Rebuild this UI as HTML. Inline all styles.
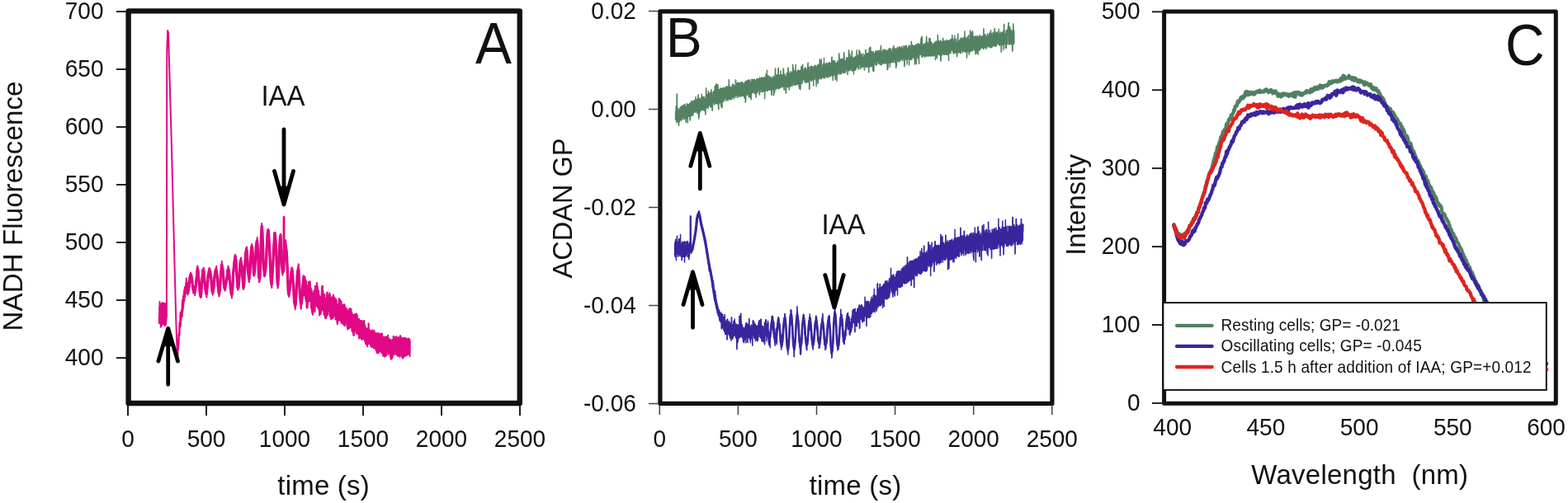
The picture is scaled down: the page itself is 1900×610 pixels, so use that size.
<!DOCTYPE html>
<html><head><meta charset="utf-8"><title>Figure</title>
<style>
html,body{margin:0;padding:0;background:#fff;}
svg{display:block;}
text{font-family:"Liberation Sans", Arial, Helvetica, sans-serif;fill:#111;}
</style></head>
<body>
<svg width="1900" height="610" viewBox="0 0 1900 610">
<rect width="1900" height="610" fill="#fff"/>
<polyline points="192.8,383.8 192.9,392.0 193.0,388.5 193.2,372.1 193.3,374.5 193.4,391.8 193.5,365.9 193.6,390.5 193.8,389.8 193.9,380.1 194.0,375.2 194.1,374.6 194.2,374.0 194.4,379.7 194.5,381.6 194.6,383.2 194.7,396.5 194.8,390.5 195.0,385.4 195.1,396.5 195.2,373.3 195.3,371.7 195.4,385.3 195.6,368.3 195.7,368.0 195.8,382.4 195.9,381.0 196.0,394.5 196.2,385.9 196.3,382.4 196.4,381.9 196.5,374.4 196.6,367.3 196.8,372.7 196.9,387.7 197.0,373.0 197.1,378.0 197.2,367.0 197.4,391.8 197.5,371.5 197.6,374.8 197.7,393.2 197.8,382.1 198.0,392.1 198.1,385.9 198.2,388.9 198.3,369.3 198.4,382.8 198.6,381.7 198.7,392.6 198.8,377.2 198.9,384.3 199.0,368.0 199.2,377.8 199.3,375.8 199.4,370.6 199.5,390.5 199.6,377.3 199.8,395.2 199.9,383.4 200.0,383.8 200.1,384.7 200.2,385.7 200.4,369.9 200.5,378.4 200.6,372.3 200.7,377.1 200.8,367.8 201.0,393.8 201.1,371.1 201.2,384.6 201.3,373.4 201.4,390.4 201.6,383.9 201.9,385.0 202.3,60.0 203.2,37.0 204.0,40.0 206.0,110.0 208.0,180.0 210.0,260.0 212.0,340.0 213.5,395.0 214.8,431.0 215.0,420.6 215.2,433.1 215.3,433.3 215.5,430.6 215.6,422.2 215.8,411.9 215.9,411.1 216.1,424.1 216.2,414.9 216.4,405.7 216.5,418.1 216.7,411.6 216.8,408.6 217.0,403.1 217.1,402.1 217.3,397.1 217.4,391.4 217.6,406.5 217.7,396.7 217.9,396.7 218.0,390.6 218.2,397.6 218.3,381.6 218.5,387.1 218.6,378.9 218.8,379.4 218.9,395.1 219.1,387.8 219.2,382.1 219.4,383.1 219.5,389.1 219.7,377.6 219.8,381.7 220.0,382.7 220.1,375.4 220.3,377.9 220.4,382.1 220.6,384.2 220.7,368.3 220.9,383.2 221.0,363.9 221.2,378.0 221.3,378.4 221.5,364.1 221.6,368.9 221.8,375.9 221.9,358.9 222.1,370.2 222.2,372.4 222.4,365.6 222.5,368.5 222.7,357.2 222.8,355.2 223.0,357.1 223.1,352.1 223.3,354.1 223.4,364.9 223.6,356.2 223.7,350.5 223.9,348.2 224.0,361.0 224.2,350.2 224.3,360.3 224.5,350.4 224.6,349.9 224.8,356.8 224.9,353.2 225.1,349.5 225.2,346.0 225.4,354.6 225.5,344.9 225.7,354.8 225.8,337.5 226.0,344.6 226.0,341.0 226.2,339.7 226.3,349.7 226.5,344.7 226.6,351.7 226.8,349.0 226.9,354.4 227.1,349.7 227.2,355.0 227.4,357.5 227.5,346.3 227.7,348.5 227.8,349.6 228.0,351.2 228.1,354.7 228.3,351.1 228.4,355.8 228.6,350.3 228.7,353.6 228.9,352.1 229.0,347.0 229.2,346.2 229.3,349.0 229.5,339.5 229.6,343.8 229.8,334.5 229.9,339.4 230.1,339.2 230.2,335.5 230.4,332.8 230.5,336.4 230.7,336.1 230.8,336.8 231.0,330.6 231.1,337.2 231.3,339.8 231.4,338.5 231.6,336.0 231.7,331.9 231.9,337.1 232.0,333.2 232.2,332.5 232.3,338.7 232.5,337.3 232.6,343.1 232.8,336.9 232.9,338.8 233.1,338.7 233.2,346.7 233.4,346.0 233.5,351.7 233.7,352.5 233.8,350.6 234.0,346.6 234.1,355.6 234.3,348.1 234.4,355.5 234.6,354.4 234.7,355.0 234.9,351.0 235.0,349.5 235.2,347.3 235.3,353.4 235.5,351.0 235.6,354.1 235.8,355.9 235.9,349.4 236.1,352.5 236.2,358.1 236.4,350.7 236.5,354.6 236.7,346.8 236.8,351.1 237.0,345.7 237.1,351.0 237.3,342.7 237.4,343.1 237.6,342.3 237.7,342.8 237.9,338.3 238.0,342.5 238.2,333.4 238.3,340.9 238.5,339.8 238.6,337.5 238.8,328.9 238.9,331.8 239.1,323.3 239.2,328.5 239.4,322.6 239.5,329.6 239.7,325.6 239.8,329.6 240.0,330.5 240.1,331.7 240.3,327.7 240.4,330.6 240.6,332.6 240.7,340.2 240.9,337.7 241.0,336.6 241.2,345.4 241.3,345.1 241.5,346.3 241.6,342.7 241.8,347.2 241.9,353.6 242.1,349.9 242.2,351.6 242.4,352.5 242.5,353.6 242.7,356.1 242.8,355.4 243.0,357.7 243.1,356.1 243.3,356.4 243.4,360.7 243.6,353.1 243.7,359.4 243.9,358.2 244.0,355.3 244.2,347.0 244.3,350.8 244.5,350.9 244.6,350.3 244.8,344.3 244.9,336.3 245.1,341.2 245.2,339.4 245.4,334.8 245.5,327.8 245.7,326.4 245.8,329.9 246.0,330.3 246.1,330.7 246.3,326.0 246.4,329.8 246.6,325.2 246.7,330.2 246.9,324.7 247.0,333.2 247.2,328.1 247.3,334.2 247.5,332.3 247.6,335.1 247.8,341.3 247.9,338.6 248.1,337.1 248.2,344.1 248.4,347.9 248.5,347.2 248.7,350.8 248.8,353.8 249.0,347.3 249.1,355.0 249.3,354.2 249.4,356.7 249.6,351.0 249.7,350.8 249.9,357.4 250.0,357.7 250.2,350.6 250.3,360.6 250.5,353.1 250.6,357.9 250.8,350.5 250.9,351.8 251.1,346.0 251.2,350.1 251.4,342.3 251.5,341.4 251.7,339.8 251.8,338.7 252.0,333.0 252.1,335.3 252.3,332.7 252.4,336.2 252.6,334.0 252.7,334.9 252.9,336.8 253.0,334.3 253.2,325.5 253.3,330.7 253.5,325.5 253.6,330.5 253.8,328.0 253.9,332.6 254.1,324.9 254.2,334.9 254.4,328.4 254.5,330.3 254.7,326.9 254.8,337.4 255.0,329.4 255.1,329.8 255.3,328.8 255.4,338.1 255.6,337.8 255.7,338.7 255.9,339.4 256.0,341.8 256.2,340.0 256.3,347.0 256.5,340.7 256.6,348.3 256.8,346.2 256.9,348.6 257.1,350.5 257.2,355.5 257.4,352.2 257.5,350.6 257.7,351.2 257.8,357.7 258.0,351.1 258.1,349.6 258.3,350.2 258.4,348.3 258.6,352.9 258.7,352.5 258.9,353.7 259.0,351.6 259.2,342.7 259.3,348.1 259.5,338.0 259.6,340.6 259.8,334.4 259.9,337.6 260.1,333.5 260.2,338.5 260.4,333.2 260.5,333.0 260.7,328.8 260.8,333.8 261.0,326.7 261.1,330.8 261.3,325.5 261.4,333.4 261.6,326.8 261.7,334.0 261.9,326.4 262.0,331.5 262.2,322.7 262.3,332.1 262.5,325.7 262.6,332.5 262.8,334.1 262.9,337.0 263.1,330.4 263.2,337.2 263.4,334.9 263.5,341.4 263.7,339.5 263.8,346.9 264.0,344.0 264.1,342.6 264.3,345.0 264.4,350.7 264.6,347.3 264.7,354.3 264.9,348.6 265.0,356.7 265.2,350.7 265.3,359.6 265.5,352.9 265.6,358.2 265.8,350.2 265.9,358.0 266.1,351.6 266.2,357.5 266.4,349.3 266.5,345.4 266.7,344.5 266.8,346.5 267.0,338.0 267.1,337.2 267.3,333.7 267.4,336.1 267.6,329.3 267.7,332.7 267.9,325.3 268.0,330.9 268.2,324.5 268.3,329.0 268.5,326.4 268.6,324.7 268.8,316.7 268.9,326.1 269.1,325.6 269.2,325.1 269.4,321.2 269.5,326.6 269.7,328.0 269.8,330.1 270.0,330.5 270.1,331.3 270.3,329.1 270.4,337.7 270.6,333.0 270.7,336.7 270.9,332.6 271.0,346.0 271.2,348.2 271.3,348.9 271.5,341.4 271.6,348.4 271.8,343.2 271.9,346.5 272.1,344.4 272.2,350.5 272.4,349.0 272.5,346.9 272.7,352.6 272.8,351.3 273.0,341.2 273.1,348.9 273.3,341.4 273.4,349.2 273.6,340.2 273.7,347.8 273.9,340.0 274.0,344.4 274.2,339.0 274.3,344.1 274.5,336.7 274.6,336.5 274.8,333.6 274.9,338.7 275.1,340.2 275.2,332.8 275.4,339.1 275.5,338.5 275.7,327.8 275.8,326.1 276.0,331.3 276.1,325.6 276.3,326.2 276.4,322.6 276.6,324.3 276.7,327.6 276.9,323.9 277.0,329.6 277.2,331.5 277.3,330.0 277.5,327.0 277.6,332.2 277.8,330.6 277.9,330.5 278.1,332.4 278.2,343.2 278.4,334.9 278.5,337.9 278.7,338.1 278.8,347.9 279.0,339.2 279.1,343.0 279.3,344.7 279.4,355.2 279.6,356.0 279.7,353.1 279.9,355.5 280.0,354.1 280.2,351.0 280.3,357.4 280.5,353.7 280.6,358.2 280.8,353.7 280.9,361.4 281.1,351.1 281.2,356.2 281.4,351.2 281.5,356.6 281.7,354.9 281.8,352.1 282.0,345.8 282.1,347.3 282.3,336.7 282.4,341.4 282.6,330.9 282.7,328.4 282.9,332.8 283.0,323.0 283.2,322.2 283.3,329.8 283.5,320.9 283.6,324.0 283.8,315.7 283.9,322.9 284.1,313.6 284.2,320.1 284.4,321.3 284.5,317.7 284.7,315.8 284.8,308.8 285.0,309.2 285.1,313.0 285.3,313.9 285.4,314.6 285.6,312.2 285.7,317.3 285.9,311.2 286.0,314.3 286.2,315.8 286.3,316.6 286.5,321.8 286.6,325.3 286.8,328.0 286.9,336.0 287.1,339.1 287.2,341.2 287.4,337.3 287.5,344.2 287.7,339.6 287.8,348.8 288.0,343.2 288.1,351.7 288.3,345.2 288.4,350.7 288.6,342.1 288.7,350.2 288.9,343.9 289.0,350.2 289.2,343.2 289.3,349.9 289.5,347.0 289.6,346.7 289.8,335.0 289.9,332.2 290.1,333.3 290.2,337.2 290.4,329.4 290.5,330.6 290.7,320.2 290.8,324.5 291.0,315.7 291.1,314.8 291.3,317.9 291.4,321.9 291.6,319.6 291.7,314.6 291.9,314.6 292.0,312.5 292.2,313.7 292.3,322.2 292.5,317.7 292.6,325.4 292.8,318.4 292.9,317.8 293.1,325.7 293.2,326.0 293.4,322.9 293.5,329.3 293.7,334.6 293.8,337.7 294.0,333.7 294.1,342.9 294.3,344.1 294.4,344.6 294.6,339.5 294.7,346.9 294.9,351.1 295.0,351.0 295.2,345.1 295.3,349.8 295.5,344.3 295.6,348.4 295.8,341.3 295.9,337.9 296.1,332.5 296.2,330.6 296.4,335.8 296.5,331.9 296.7,323.1 296.8,325.9 297.0,313.9 297.1,321.5 297.3,313.1 297.4,312.3 297.6,304.9 297.7,311.8 297.9,303.8 298.0,301.0 298.2,301.5 298.3,311.1 298.5,306.4 298.6,305.4 298.8,299.7 298.9,301.4 299.1,299.6 299.2,308.3 299.4,302.3 299.5,312.4 299.7,307.8 299.8,319.0 300.0,312.9 300.1,322.7 300.3,325.6 300.4,328.4 300.6,325.2 300.7,326.8 300.9,336.2 301.0,327.5 301.2,331.3 301.3,339.6 301.5,340.9 301.6,340.2 301.8,340.3 301.9,342.1 302.1,334.8 302.2,331.9 302.4,338.6 302.5,335.9 302.7,330.2 302.8,332.7 303.0,328.0 303.1,322.9 303.3,321.1 303.4,322.3 303.6,315.3 303.7,311.2 303.9,307.2 304.0,314.0 304.2,302.3 304.3,299.2 304.5,298.0 304.6,298.2 304.8,299.4 304.9,304.7 305.1,299.0 305.2,295.9 305.4,302.0 305.5,303.6 305.7,303.3 305.8,299.8 306.0,306.6 306.1,312.0 306.3,305.0 306.4,314.8 306.6,311.0 306.7,315.5 306.9,315.3 307.0,328.2 307.2,322.2 307.3,334.0 307.5,327.6 307.6,334.7 307.8,329.9 307.9,334.5 308.1,328.7 308.2,334.1 308.4,327.2 308.5,324.4 308.7,323.4 308.8,329.1 309.0,319.6 309.1,316.4 309.3,314.4 309.4,319.5 309.6,318.0 309.7,314.1 309.9,305.4 310.0,302.6 310.2,297.7 310.3,297.1 310.5,300.6 310.6,298.4 310.8,292.8 310.9,292.9 311.1,292.6 311.2,297.1 311.4,294.4 311.5,294.9 311.7,288.0 311.8,297.2 312.0,291.8 312.1,303.0 312.3,296.7 312.4,303.5 312.6,306.1 312.7,317.1 312.9,311.0 313.0,321.9 313.2,321.3 313.3,327.6 313.5,326.5 313.6,338.1 313.8,333.1 313.9,341.9 314.1,335.4 314.2,342.2 314.4,335.0 314.5,340.1 314.7,335.9 314.8,340.9 315.0,330.7 315.1,336.7 315.3,328.6 315.4,320.7 315.6,314.9 315.7,315.3 315.9,302.8 316.0,304.9 316.2,302.5 316.3,290.5 316.5,287.9 316.6,287.9 316.8,276.2 316.9,281.1 317.1,271.0 317.2,277.3 317.4,277.1 317.5,274.1 317.7,275.1 317.8,282.9 318.0,278.8 318.1,288.9 318.3,292.9 318.4,297.0 318.6,297.8 318.7,306.2 318.9,306.7 319.0,318.5 319.2,316.2 319.3,320.3 319.5,321.7 319.6,323.6 319.8,324.4 319.9,324.2 320.1,324.9 320.2,327.0 320.4,330.7 320.5,335.6 320.7,328.0 320.8,334.8 321.0,329.3 321.1,326.6 321.3,324.8 321.4,333.6 321.6,325.3 321.7,329.4 321.9,322.9 322.0,322.8 322.2,326.9 322.3,321.1 322.5,318.4 322.6,308.5 322.8,306.4 322.9,304.1 323.1,307.2 323.2,303.0 323.4,296.5 323.5,292.9 323.7,287.5 323.8,285.1 324.0,291.9 324.1,287.5 324.3,278.4 324.4,283.0 324.6,284.7 324.7,282.7 324.9,282.4 325.0,277.7 325.2,281.8 325.3,278.6 325.5,279.3 325.6,282.6 325.8,287.1 325.9,293.7 326.1,289.6 326.2,299.6 326.4,299.8 326.5,303.0 326.7,297.1 326.8,310.4 327.0,309.6 327.1,312.1 327.3,314.1 327.4,323.5 327.6,322.2 327.7,330.1 327.9,328.2 328.0,339.2 328.2,341.9 328.3,342.5 328.5,344.0 328.6,337.4 328.8,339.5 328.9,347.5 329.1,339.5 329.2,348.9 329.4,348.4 329.5,336.6 329.7,334.0 329.8,339.9 330.0,338.5 330.1,335.8 330.3,326.6 330.4,328.4 330.6,316.9 330.7,318.9 330.9,313.7 331.0,310.9 331.2,305.3 331.3,311.4 331.5,300.2 331.6,306.7 331.8,296.3 331.9,301.7 332.1,292.6 332.2,296.7 332.4,293.3 332.5,285.7 332.7,281.9 332.8,284.5 333.0,287.9 333.1,287.8 333.3,282.5 333.4,286.6 333.6,285.2 333.7,293.1 333.9,291.5 334.0,289.1 334.2,292.7 334.3,299.9 334.5,298.7 334.6,308.2 334.8,306.4 334.9,307.0 335.1,313.0 335.2,319.2 335.4,321.3 335.5,323.0 335.7,328.2 335.8,337.6 336.0,337.6 336.1,338.8 336.3,338.0 336.4,347.4 336.6,349.5 336.7,349.5 336.9,347.1 337.0,344.1 337.2,336.9 337.3,340.3 337.5,327.6 337.6,331.1 337.8,328.4 337.9,326.1 338.1,316.3 338.2,319.0 338.4,303.2 338.5,305.2 338.7,297.5 338.8,300.3 339.0,290.8 339.1,296.8 339.3,288.1 339.4,292.1 339.6,285.9 339.7,285.6 339.9,283.8 340.0,289.5 340.2,284.1 340.3,295.5 340.5,296.3 340.6,302.2 340.8,296.9 340.9,301.1 341.1,303.6 341.2,321.1 341.4,312.5 341.5,325.1 341.7,321.6 341.8,323.1 342.0,322.0 342.1,322.3 342.3,328.2 342.4,333.8 342.6,328.1 342.7,332.1 342.9,331.3 343.0,330.1 343.2,325.5 343.3,325.0 343.5,330.3 343.6,263.0 343.8,263.0 343.9,263.0 344.1,263.0 344.2,263.0 344.4,263.0 344.5,311.1 344.7,307.5 344.8,312.2 345.0,300.2 345.1,298.9 345.3,296.7 345.4,299.0 345.6,291.1 345.7,295.9 345.9,293.0 346.0,293.3 346.2,291.6 346.3,304.9 346.5,297.6 346.6,304.1 346.8,298.8 346.9,306.2 347.1,300.1 347.2,301.1 347.4,314.5 347.5,315.2 347.7,319.6 347.8,321.3 348.0,316.2 348.1,317.0 348.3,330.4 348.4,323.9 348.6,341.1 348.7,341.6 348.9,341.9 349.0,352.8 349.2,353.4 349.3,356.9 349.5,350.6 349.6,356.7 349.8,359.2 349.9,358.5 350.1,356.3 350.2,359.9 350.4,351.3 350.5,357.6 350.7,351.0 350.8,348.0 351.0,347.3 351.1,351.2 351.3,348.0 351.4,352.6 351.6,344.8 351.7,345.8 351.9,337.2 352.0,344.2 352.2,336.4 352.3,335.3 352.5,331.2 352.6,335.1 352.8,330.1 352.9,335.0 353.1,324.8 353.2,330.8 353.4,324.8 353.5,331.7 353.7,324.6 353.8,333.6 354.0,328.6 354.1,333.7 354.3,325.2 354.4,330.1 354.6,327.7 354.7,335.8 354.9,341.4 355.0,341.1 355.2,344.6 355.3,347.6 355.5,350.5 355.6,353.0 355.8,346.4 355.9,356.2 356.1,353.7 356.2,361.2 356.4,354.5 356.5,368.4 356.7,367.9 356.8,369.6 357.0,363.7 357.1,365.7 357.3,362.9 357.4,373.3 357.6,366.9 357.7,375.3 357.9,367.0 358.0,372.0 358.2,371.4 358.3,365.3 358.5,362.6 358.6,365.3 358.8,365.1 358.9,360.3 359.1,352.4 359.2,357.4 359.4,341.2 359.5,348.6 359.7,348.7 359.8,345.4 360.0,336.0 360.1,340.2 360.3,331.9 360.4,328.7 360.6,326.8 360.7,330.7 360.9,324.0 361.0,334.1 361.2,326.4 361.3,327.2 361.5,321.2 361.6,324.1 361.8,320.3 361.9,333.5 362.1,326.7 362.2,338.2 362.4,333.1 362.5,338.8 362.7,346.4 362.8,349.4 363.0,344.7 363.1,355.1 363.3,350.7 363.4,359.3 363.6,352.9 363.7,367.3 363.9,366.4 364.0,369.3 364.2,358.5 364.3,370.7 364.5,372.2 364.6,374.7 364.8,364.1 364.9,373.9 365.1,360.3 365.2,369.7 365.4,360.5 365.5,368.3 365.7,352.5 365.8,369.2 366.0,357.9 366.1,368.3 366.3,349.7 366.4,365.1 366.6,349.2 366.7,360.7 366.9,357.4 367.0,347.3 367.2,336.4 367.3,348.6 367.5,334.2 367.6,344.7 367.8,354.1 367.9,345.0 368.1,349.4 368.2,350.7 368.4,335.4 368.5,350.3 368.7,358.6 368.8,349.3 369.0,338.4 369.1,337.9 369.3,335.2 369.4,338.6 369.6,340.4 369.7,356.9 369.9,337.9 370.0,362.0 370.2,359.0 370.3,356.3 370.5,346.3 370.6,363.0 370.8,365.1 370.9,363.8 371.1,340.8 371.2,362.0 371.4,345.4 371.5,372.5 371.7,346.0 371.8,373.5 372.0,367.5 372.1,347.6 372.3,370.0 372.4,372.9 372.6,347.6 372.7,372.9 372.9,353.5 373.0,368.0 373.2,351.7 373.3,354.1 373.5,351.1 373.6,365.9 373.8,341.8 373.9,343.5 374.1,342.5 374.2,359.0 374.4,345.0 374.5,364.7 374.7,345.2 374.8,365.4 375.0,341.9 375.1,342.0 375.3,341.3 375.4,344.1 375.6,344.0 375.7,362.4 375.9,342.0 376.0,360.5 376.2,349.0 376.3,363.9 376.5,352.7 376.6,365.5 376.8,349.5 376.9,373.0 377.1,366.7 377.2,369.9 377.4,374.4 377.5,355.9 377.7,352.0 377.8,377.4 378.0,362.9 378.1,375.5 378.3,379.9 378.4,359.7 378.6,358.6 378.7,355.4 378.9,360.2 379.0,381.7 379.2,358.4 379.3,380.6 379.5,375.5 379.6,366.6 379.8,360.9 379.9,356.6 380.1,359.7 380.2,361.9 380.4,352.6 380.5,359.4 380.7,360.8 380.8,375.9 381.0,358.7 381.1,370.7 381.3,352.9 381.4,374.4 381.6,378.0 381.7,367.5 381.9,346.8 382.0,348.5 382.2,354.3 382.3,351.2 382.5,348.3 382.6,365.3 382.8,352.0 382.9,369.5 383.1,350.5 383.2,365.3 383.4,347.0 383.5,370.9 383.7,347.2 383.8,366.1 384.0,343.1 384.1,364.5 384.3,370.2 384.4,352.4 384.6,347.0 384.7,372.3 384.9,347.4 385.0,370.8 385.2,356.6 385.3,373.8 385.5,351.4 385.6,373.1 385.8,362.8 385.9,373.5 386.1,353.1 386.2,373.3 386.4,375.0 386.5,375.8 386.7,357.3 386.8,379.4 387.0,359.2 387.1,382.6 387.3,361.1 387.4,381.3 387.6,360.3 387.7,379.0 387.9,361.5 388.0,365.0 388.2,378.8 388.3,375.0 388.5,361.1 388.6,380.9 388.8,359.8 388.9,372.2 389.1,378.5 389.2,377.0 389.4,362.2 389.5,374.0 389.7,354.1 389.8,356.0 390.0,347.4 390.1,374.5 390.3,352.0 390.4,375.4 390.6,365.8 390.7,367.3 390.9,346.8 391.0,371.5 391.2,356.8 391.3,352.4 391.5,353.2 391.6,376.8 391.8,362.5 391.9,371.4 392.1,359.7 392.2,372.8 392.4,364.8 392.5,381.6 392.7,362.1 392.8,374.9 393.0,356.7 393.1,379.3 393.3,357.2 393.4,383.0 393.6,362.0 393.7,381.2 393.9,384.8 394.0,379.9 394.2,379.9 394.3,386.3 394.5,378.7 394.6,381.3 394.8,361.4 394.9,380.4 395.1,380.9 395.2,386.1 395.4,378.3 395.5,377.5 395.7,383.7 395.8,376.0 396.0,361.3 396.1,354.8 396.3,361.0 396.4,383.0 396.6,354.5 396.7,380.6 396.9,361.4 397.0,373.2 397.2,378.9 397.3,381.3 397.5,362.4 397.6,374.3 397.8,362.0 397.9,373.6 398.1,376.5 398.2,377.7 398.4,357.9 398.5,373.2 398.7,362.8 398.8,374.5 399.0,362.9 399.1,375.4 399.3,355.6 399.4,362.9 399.6,365.6 399.7,382.8 399.9,357.1 400.0,384.2 400.2,361.3 400.3,364.8 400.5,364.6 400.6,380.2 400.8,360.5 400.9,360.8 401.1,364.5 401.2,387.3 401.4,363.4 401.5,362.9 401.7,368.3 401.8,381.4 402.0,380.4 402.1,360.5 402.3,361.6 402.4,360.2 402.6,361.0 402.7,386.2 402.9,364.6 403.0,384.8 403.2,366.2 403.3,360.4 403.5,366.7 403.6,386.0 403.8,357.6 403.9,376.7 404.1,358.4 404.2,383.0 404.4,364.9 404.5,379.7 404.7,361.2 404.8,380.6 405.0,383.4 405.1,381.5 405.3,364.0 405.4,379.7 405.6,360.9 405.7,374.2 405.9,365.0 406.0,378.9 406.2,377.8 406.3,378.2 406.5,383.9 406.6,387.5 406.8,365.5 406.9,364.2 407.1,362.7 407.2,386.5 407.4,364.5 407.5,379.9 407.7,364.5 407.8,383.2 408.0,372.8 408.1,369.8 408.3,368.7 408.4,391.2 408.6,372.3 408.7,393.3 408.9,389.9 409.0,392.1 409.2,388.4 409.3,383.3 409.5,374.7 409.6,388.7 409.8,369.8 409.9,369.1 410.1,384.5 410.2,371.8 410.4,368.4 410.5,382.4 410.7,363.0 410.8,381.6 411.0,361.9 411.1,388.8 411.3,383.9 411.4,388.2 411.6,385.9 411.7,367.7 411.9,364.0 412.0,388.2 412.2,381.7 412.3,363.7 412.5,373.1 412.6,380.5 412.8,386.1 412.9,383.8 413.1,369.3 413.2,385.9 413.4,369.4 413.5,391.4 413.7,365.8 413.8,386.1 414.0,372.9 414.1,390.0 414.3,385.2 414.4,387.6 414.6,390.7 414.7,377.3 414.9,392.4 415.0,370.2 415.2,373.9 415.3,387.4 415.5,372.5 415.6,388.4 415.8,370.0 415.9,391.3 416.1,375.8 416.2,393.6 416.4,372.8 416.5,386.7 416.7,389.7 416.8,390.2 417.0,368.9 417.1,388.5 417.3,373.8 417.4,395.1 417.6,389.6 417.7,370.1 417.9,377.3 418.0,389.5 418.2,377.0 418.3,394.6 418.5,373.8 418.6,377.9 418.8,379.0 418.9,390.9 419.1,379.4 419.2,391.7 419.4,373.6 419.5,391.2 419.7,380.1 419.8,392.1 420.0,380.7 420.1,374.2 420.3,390.2 420.4,375.5 420.6,379.7 420.7,397.1 420.9,376.4 421.0,382.9 421.2,376.5 421.3,399.4 421.5,378.4 421.6,377.8 421.8,380.7 421.9,392.1 422.1,377.0 422.2,398.8 422.4,392.9 422.5,391.6 422.7,380.7 422.8,396.3 423.0,380.5 423.1,375.0 423.3,398.1 423.4,375.1 423.6,395.9 423.7,376.3 423.9,373.9 424.0,389.4 424.2,377.5 424.3,391.2 424.5,396.8 424.6,380.7 424.8,375.5 424.9,392.3 425.1,376.5 425.2,395.7 425.4,374.6 425.5,375.2 425.7,380.0 425.8,397.6 426.0,383.2 426.1,384.5 426.3,379.0 426.4,401.3 426.6,380.1 426.7,398.5 426.9,382.4 427.0,402.1 427.2,384.0 427.3,399.8 427.5,382.0 427.6,399.9 427.8,382.1 427.9,404.3 428.1,383.7 428.2,405.3 428.4,406.9 428.5,382.0 428.7,386.5 428.8,401.0 429.0,384.0 429.1,406.1 429.3,384.7 429.4,397.2 429.6,390.0 429.7,400.7 429.9,382.2 430.0,380.9 430.2,385.6 430.3,400.0 430.5,399.8 430.6,395.5 430.8,388.7 430.9,399.8 431.1,400.3 431.2,380.7 431.4,387.4 431.5,403.5 431.7,387.0 431.8,401.2 432.0,402.5 432.1,397.3 432.3,380.7 432.4,404.8 432.6,404.6 432.7,389.2 432.9,382.8 433.0,401.9 433.2,404.1 433.3,398.0 433.5,388.9 433.6,404.1 433.8,388.4 433.9,398.2 434.1,391.3 434.2,405.3 434.4,388.5 434.5,387.0 434.7,387.3 434.8,401.7 435.0,386.8 435.1,410.5 435.3,387.8 435.4,410.1 435.6,393.3 435.7,405.8 435.9,388.6 436.0,393.2 436.2,392.3 436.3,409.7 436.5,389.8 436.6,389.9 436.8,391.0 436.9,392.3 437.1,389.7 437.2,407.2 437.4,394.9 437.5,389.0 437.7,389.8 437.8,410.5 438.0,405.6 438.1,397.2 438.3,389.1 438.4,412.1 438.6,405.6 438.7,408.9 438.9,396.2 439.0,406.4 439.2,389.9 439.3,406.0 439.5,409.9 439.6,411.1 439.8,395.2 439.9,409.3 440.1,406.5 440.2,405.0 440.4,393.6 440.5,407.6 440.7,389.1 440.8,410.9 441.0,397.5 441.1,397.4 441.3,389.1 441.4,410.2 441.6,393.0 441.7,408.6 441.9,413.6 442.0,411.5 442.2,413.0 442.3,399.3 442.5,394.4 442.6,410.1 442.8,400.8 442.9,414.4 443.1,416.9 443.2,412.0 443.4,400.5 443.5,402.3 443.7,398.3 443.8,417.4 444.0,411.2 444.1,415.4 444.3,399.2 444.4,412.0 444.6,400.0 444.7,402.2 444.9,412.9 445.0,420.2 445.2,403.7 445.3,413.7 445.5,398.1 445.6,413.9 445.8,410.0 445.9,417.5 446.1,400.9 446.2,412.2 446.4,416.6 446.5,392.3 446.7,392.5 446.8,411.0 447.0,414.2 447.1,415.4 447.3,409.2 447.4,416.4 447.6,408.3 447.7,413.2 447.9,409.3 448.0,409.8 448.2,400.2 448.3,417.0 448.5,410.1 448.6,417.8 448.8,401.4 448.9,412.2 449.1,401.5 449.2,419.2 449.4,403.2 449.5,419.0 449.7,402.2 449.8,420.7 450.0,419.1 450.1,415.0 450.3,401.2 450.4,405.1 450.6,403.5 450.7,407.5 450.9,420.7 451.0,420.2 451.2,406.4 451.3,409.0 451.5,400.3 451.6,416.8 451.8,406.4 451.9,416.1 452.1,405.9 452.2,419.2 452.4,404.0 452.5,418.3 452.7,417.6 452.8,422.2 453.0,416.9 453.1,405.2 453.3,403.2 453.4,416.4 453.6,401.0 453.7,414.8 453.9,404.7 454.0,418.1 454.2,416.7 454.3,422.3 454.5,417.7 454.6,418.5 454.8,404.1 454.9,422.4 455.1,406.8 455.2,423.1 455.4,424.6 455.5,407.6 455.7,409.2 455.8,404.1 456.0,408.6 456.1,409.7 456.3,411.3 456.4,406.5 456.6,427.9 456.7,427.5 456.9,425.1 457.0,424.2 457.2,404.6 457.3,426.0 457.5,404.5 457.6,426.1 457.8,407.3 457.9,426.7 458.1,412.7 458.2,422.5 458.4,412.9 458.5,428.6 458.7,403.9 458.8,425.2 459.0,421.0 459.1,420.5 459.3,408.7 459.4,409.4 459.6,410.8 459.7,419.3 459.9,406.5 460.0,426.5 460.2,419.4 460.3,409.5 460.5,409.8 460.6,423.7 460.8,424.3 460.9,422.6 461.1,404.5 461.2,408.5 461.4,409.1 461.5,425.5 461.7,426.1 461.8,426.3 462.0,410.2 462.1,410.3 462.3,408.0 462.4,428.0 462.6,406.9 462.7,425.2 462.9,410.2 463.0,404.6 463.2,412.8 463.3,409.7 463.5,408.6 463.6,428.9 463.8,407.9 463.9,425.6 464.1,413.2 464.2,431.8 464.4,411.6 464.5,426.1 464.7,415.6 464.8,431.1 465.0,409.3 465.1,429.0 465.3,413.8 465.4,411.7 465.6,408.9 465.7,429.9 465.9,410.7 466.0,432.6 466.2,410.7 466.3,428.8 466.5,416.2 466.6,430.3 466.8,431.5 466.9,408.3 467.1,416.0 467.2,424.5 467.4,411.2 467.5,409.2 467.7,416.2 467.8,410.6 468.0,413.7 468.1,431.5 468.3,412.3 468.4,423.1 468.6,408.5 468.7,425.1 468.9,411.9 469.0,422.9 469.2,411.6 469.3,422.0 469.5,411.8 469.6,426.3 469.8,411.8 469.9,427.4 470.1,406.4 470.2,426.5 470.4,414.3 470.5,430.0 470.7,412.9 470.8,411.8 471.0,410.5 471.1,428.2 471.3,425.8 471.4,427.1 471.6,410.8 471.7,412.3 471.9,414.2 472.0,427.8 472.2,414.8 472.3,427.9 472.5,413.2 472.6,414.3 472.8,415.5 472.9,432.3 473.1,412.0 473.2,431.8 473.4,416.6 473.5,435.4 473.7,419.4 473.8,434.1 474.0,415.9 474.1,415.7 474.3,434.1 474.4,432.2 474.6,435.2 474.7,434.3 474.9,418.3 475.0,430.9 475.2,412.0 475.3,426.1 475.5,413.4 475.6,433.7 475.8,415.5 475.9,424.8 476.1,414.3 476.2,426.2 476.4,413.1 476.5,426.2 476.7,407.8 476.8,410.4 477.0,409.4 477.1,422.3 477.3,421.5 477.4,430.2 477.6,411.2 477.7,430.0 477.9,411.3 478.0,408.6 478.2,408.9 478.3,422.5 478.5,414.3 478.6,425.5 478.8,414.0 478.9,424.3 479.1,413.7 479.2,424.9 479.4,411.7 479.5,425.8 479.7,413.4 479.8,427.7 480.0,429.8 480.1,423.8 480.3,408.1 480.4,428.4 480.6,409.5 480.7,424.9 480.9,418.3 481.0,417.9 481.2,410.0 481.3,429.0 481.5,410.5 481.6,431.9 481.8,417.9 481.9,415.4 482.1,415.4 482.2,429.1 482.4,411.0 482.5,425.4 482.7,408.9 482.8,429.3 483.0,414.9 483.1,431.0 483.3,415.6 483.4,431.2 483.6,414.2 483.7,429.2 483.9,416.3 484.0,416.2 484.2,432.8 484.3,429.9 484.5,414.0 484.6,430.8 484.8,408.1 484.9,415.7 485.1,407.1 485.2,423.0 485.4,428.5 485.5,425.0 485.7,414.1 485.8,427.3 486.0,410.2 486.1,426.8 486.3,409.3 486.4,432.3 486.6,425.4 486.7,426.1 486.9,430.3 487.0,413.9 487.2,415.0 487.3,413.4 487.5,411.5 487.6,433.8 487.8,410.4 487.9,433.7 488.1,416.3 488.2,434.7 488.4,412.7 488.5,427.5 488.7,410.2 488.8,428.8 489.0,413.6 489.1,433.0 489.3,411.2 489.4,432.8 489.6,409.8 489.7,426.5 489.9,419.3 490.0,417.5 490.2,431.3 490.3,415.5 490.5,418.9 490.6,427.7 490.8,431.3 490.9,429.5 491.1,411.3 491.2,429.3 491.4,409.8 491.5,431.7 491.7,428.8 491.8,427.5 492.0,425.7 492.1,414.0 492.3,426.4 492.4,426.3 492.6,414.5 492.7,427.0 492.9,414.9 493.0,431.0 493.2,411.0 493.3,423.7 493.5,413.1 493.6,413.6 493.8,424.3 493.9,427.6 494.1,414.4 494.2,424.3 494.4,429.8 494.5,427.7 494.7,410.6 494.8,428.2 495.0,411.9 495.1,426.8 495.3,413.4 495.4,429.1 495.6,415.2 495.7,410.8 495.9,416.9 496.0,428.4 496.2,429.6 496.3,412.2 496.5,412.1 496.6,432.0 496.8,416.9 496.9,413.8" fill="none" stroke="#E00885" stroke-width="2.0" stroke-linejoin="round"/>
<polyline points="226.0,342.1 226.3,347.5 226.6,349.9 226.9,351.9 227.2,353.8 227.5,350.8 227.8,351.9 228.1,353.0 228.4,351.8 228.7,349.8 229.0,345.8 229.3,345.4 229.6,341.7 229.9,337.5 230.2,337.0 230.5,334.9 230.8,333.1 231.1,333.8 231.4,335.3 231.7,335.4 232.0,335.3 232.3,337.2 232.6,339.8 232.9,341.2 233.2,344.9 233.5,348.6 233.8,349.3 234.1,351.1 234.4,351.9 234.7,351.6 235.0,352.7 235.3,351.9 235.6,352.9 235.9,353.2 236.2,354.4 236.5,353.0 236.8,347.6 237.1,348.2 237.4,346.4 237.7,341.4 238.0,338.5 238.3,336.9 238.6,334.4 238.9,328.1 239.2,325.7 239.5,326.2 239.8,328.3 240.1,329.9 240.4,334.2 240.7,337.6 241.0,339.3 241.3,342.2 241.6,345.1 241.9,350.3 242.2,353.9 242.5,357.1 242.8,358.5 243.1,359.9 243.4,357.9 243.7,355.8 244.0,352.9 244.3,348.3 244.6,346.0 244.9,340.3 245.2,335.8 245.5,332.3 245.8,328.3 246.1,327.6 246.4,328.1 246.7,327.9 247.0,329.5 247.3,331.8 247.6,336.6 247.9,342.5 248.2,341.7 248.5,345.0 248.8,349.5 249.1,350.9 249.4,353.1 249.7,353.8 250.0,355.3 250.3,356.3 250.6,354.0 250.9,350.0 251.2,347.0 251.5,343.4 251.8,341.0 252.1,334.1 252.4,332.9 252.7,332.8 253.0,329.7 253.3,328.9 253.6,327.8 253.9,329.8 254.2,330.6 254.5,329.0 254.8,332.8 255.1,331.7 255.4,334.5 255.7,336.3 256.0,339.6 256.3,344.9 256.6,347.2 256.9,352.6 257.2,352.2 257.5,354.2 257.8,354.0 258.1,354.2 258.4,351.5 258.7,350.3 259.0,348.1 259.3,345.9 259.6,339.1 259.9,336.1 260.2,334.7 260.5,330.5 260.8,329.6 261.1,328.4 261.4,329.8 261.7,329.4 262.0,328.0 262.3,328.3 262.6,331.0 262.9,333.1 263.2,335.1 263.5,338.3 263.8,343.1 264.1,346.6 264.4,347.8 264.7,350.3 265.0,354.7 265.3,356.0 265.6,354.0 265.9,353.5 266.2,352.8 266.5,349.2 266.8,343.8 267.1,338.6 267.4,334.5 267.7,330.7 268.0,328.5 268.3,324.5 268.6,321.2 268.9,322.0 269.2,323.6 269.5,324.8 269.8,325.6 270.1,328.7 270.4,333.8 270.7,334.8 271.0,341.4 271.3,344.8 271.6,346.1 271.9,348.2 272.2,349.1 272.5,350.7 272.8,347.6 273.1,344.7 273.4,345.0 273.7,343.2 274.0,343.0 274.3,341.5 274.6,338.3 274.9,337.5 275.2,336.7 275.5,336.4 275.8,330.0 276.1,327.3 276.4,327.4 276.7,329.1 277.0,327.1 277.3,327.7 277.6,330.9 277.9,334.8 278.2,339.5 278.5,339.8 278.8,343.4 279.1,345.8 279.4,350.6 279.7,350.8 280.0,351.4 280.3,354.5 280.6,357.0 280.9,357.7 281.2,354.4 281.5,353.2 281.8,349.2 282.1,343.9 282.4,337.1 282.7,331.1 283.0,327.4 283.3,325.5 283.6,321.7 283.9,318.5 284.2,317.5 284.5,315.1 284.8,312.1 285.1,310.8 285.4,312.4 285.7,315.8 286.0,316.1 286.3,320.2 286.6,328.0 286.9,332.7 287.2,337.1 287.5,339.9 287.8,345.1 288.1,348.8 288.4,346.5 288.7,348.2 289.0,346.9 289.3,345.6 289.6,342.1 289.9,336.4 290.2,334.0 290.5,326.6 290.8,322.7 291.1,318.5 291.4,317.2 291.7,316.8 292.0,316.6 292.3,319.1 292.6,322.0 292.9,322.0 293.2,322.1 293.5,327.8 293.8,333.0 294.1,338.3 294.4,341.1 294.7,344.4 295.0,348.9 295.3,346.7 295.6,345.7 295.9,341.5 296.2,334.1 296.5,328.4 296.8,323.2 297.1,316.8 297.4,311.0 297.7,307.3 298.0,305.3 298.3,306.5 298.6,302.5 298.9,303.4 299.2,306.1 299.5,308.2 299.8,314.1 300.1,318.6 300.4,326.7 300.7,331.6 301.0,332.2 301.3,335.0 301.6,336.5 301.9,338.2 302.2,335.7 302.5,332.6 302.8,331.4 303.1,327.3 303.4,320.8 303.7,314.5 304.0,309.5 304.3,304.1 304.6,301.2 304.9,299.9 305.2,299.5 305.5,299.3 305.8,302.7 306.1,307.5 306.4,311.2 306.7,317.5 307.0,324.0 307.3,328.9 307.6,332.8 307.9,332.1 308.2,331.1 308.5,329.2 308.8,326.2 309.1,320.9 309.4,316.1 309.7,311.0 310.0,304.9 310.3,299.8 310.6,295.6 310.9,294.5 311.2,293.3 311.5,291.9 311.8,293.5 312.1,298.9 312.4,305.0 312.7,312.2 313.0,317.0 313.3,326.1 313.6,335.3 313.9,337.0 314.2,337.2 314.5,337.8 314.8,337.6 315.1,332.0 315.4,322.1 315.7,311.6 316.0,301.8 316.3,294.3 316.6,285.6 316.9,278.5 317.2,274.2 317.5,275.4 317.8,280.4 318.1,285.9 318.4,293.9 318.7,303.9 319.0,317.1 319.3,323.4 319.6,326.2 319.9,327.5 320.2,329.5 320.5,334.1 320.8,332.3 321.1,330.2 321.4,329.9 321.7,326.6 322.0,324.2 322.3,318.0 322.6,313.3 322.9,308.6 323.2,301.0 323.5,296.4 323.8,290.1 324.1,284.8 324.4,281.3 324.7,281.1 325.0,279.4 325.3,281.1 325.6,284.2 325.9,289.8 326.2,295.5 326.5,299.0 326.8,306.2 327.1,314.2 327.4,321.4 327.7,327.7 328.0,334.6 328.3,339.5 328.6,341.9 328.9,344.4 329.2,344.8 329.5,340.6 329.8,336.4 330.1,331.1 330.4,325.2 330.7,320.4 331.0,315.1 331.3,308.6 331.6,301.8 331.9,297.1 332.2,294.0 332.5,287.9 332.8,282.6 333.1,282.6 333.4,285.1 333.7,288.1 334.0,293.2 334.3,297.7 334.6,304.1 334.9,311.8 335.2,321.5 335.5,327.0 335.8,335.0 336.1,342.0 336.4,343.9 336.7,345.6 337.0,340.8 337.3,336.9 337.6,329.0 337.9,321.3 338.2,314.2 338.5,301.5 338.8,295.9 339.1,294.3 339.4,288.8 339.7,287.2 340.0,285.7 340.3,293.7 340.6,298.3 340.9,304.2 341.2,316.0 341.5,320.5 341.8,325.1 342.1,327.6 342.4,330.3 342.7,329.0 343.0,327.6 343.3,326.7 343.6,328.9 343.9,324.9 344.2,317.4 344.5,314.0 344.8,307.5 345.1,302.1 345.4,297.2 345.7,294.1 346.0,297.3 346.3,299.4 346.6,302.2 346.9,303.0 347.2,305.7 347.5,311.4 347.8,317.5 348.1,322.3 348.4,329.3 348.7,339.8 349.0,348.2 349.3,353.0 349.6,354.4 349.9,356.8 350.2,357.5 350.5,354.9 350.8,352.8 351.1,349.6 351.4,348.6 351.7,343.4 352.0,340.7 352.3,339.0 352.6,333.5 352.9,332.3 353.2,329.1 353.5,329.5 353.8,328.7 354.1,328.6 354.4,332.5 354.7,333.1 355.0,339.4 355.3,344.0 355.6,348.0 355.9,354.5 356.2,358.1 356.5,364.0 356.8,366.6 357.1,367.6 357.4,369.0 357.7,370.7 358.0,370.0 358.3,367.0 358.6,361.9 358.9,357.9 359.2,351.7 359.5,343.2 359.8,341.4 360.1,336.0 360.4,331.8 360.7,329.0 361.0,329.2 361.3,329.5 361.6,325.7 361.9,329.0 362.2,334.9 362.5,340.4 362.8,345.4 363.1,351.6 363.4,357.4 363.7,361.9 364.0,363.3 364.3,364.7 364.6,366.4 364.9,365.2 365.2,366.0 365.5,363.2 365.8,362.6 366.1,359.9 366.4,355.4 366.7,350.2 367.0,344.2 367.3,344.3 367.6,340.6 367.9,339.7 368.2,340.4 368.5,344.4 368.8,345.3 369.1,345.2 369.4,346.4 369.7,346.8 370.0,350.3 370.3,349.1 370.6,353.2 370.9,355.1 371.2,356.0 371.5,360.7 371.8,359.4" fill="none" stroke="#E00885" stroke-width="3.3" stroke-linejoin="round"/>
<rect x="155.6" y="13.4" width="474.2" height="475.6" fill="none" stroke="#111" stroke-width="6.4" stroke-linejoin="round"/>
<line x1="141" y1="14.0" x2="153" y2="14.0" stroke="#222" stroke-width="2"/>
<text transform="translate(125.5,23.2) scale(1,1.085)" font-size="28" text-anchor="end">700</text>
<line x1="141" y1="84.0" x2="153" y2="84.0" stroke="#222" stroke-width="2"/>
<text transform="translate(125.5,93.2) scale(1,1.085)" font-size="28" text-anchor="end">650</text>
<line x1="141" y1="154.0" x2="153" y2="154.0" stroke="#222" stroke-width="2"/>
<text transform="translate(125.5,163.2) scale(1,1.085)" font-size="28" text-anchor="end">600</text>
<line x1="141" y1="224.0" x2="153" y2="224.0" stroke="#222" stroke-width="2"/>
<text transform="translate(125.5,233.2) scale(1,1.085)" font-size="28" text-anchor="end">550</text>
<line x1="141" y1="294.0" x2="153" y2="294.0" stroke="#222" stroke-width="2"/>
<text transform="translate(125.5,303.2) scale(1,1.085)" font-size="28" text-anchor="end">500</text>
<line x1="141" y1="364.0" x2="153" y2="364.0" stroke="#222" stroke-width="2"/>
<text transform="translate(125.5,373.2) scale(1,1.085)" font-size="28" text-anchor="end">450</text>
<line x1="141" y1="434.0" x2="153" y2="434.0" stroke="#222" stroke-width="2"/>
<text transform="translate(125.5,443.2) scale(1,1.085)" font-size="28" text-anchor="end">400</text>
<line x1="155.0" y1="492" x2="155.0" y2="504" stroke="#222" stroke-width="2"/>
<text transform="translate(155.0,541.7) scale(1,1.085)" font-size="28" text-anchor="middle">0</text>
<line x1="250.0" y1="492" x2="250.0" y2="504" stroke="#222" stroke-width="2"/>
<text transform="translate(250.0,541.7) scale(1,1.085)" font-size="28" text-anchor="middle">500</text>
<line x1="345.0" y1="492" x2="345.0" y2="504" stroke="#222" stroke-width="2"/>
<text transform="translate(345.0,541.7) scale(1,1.085)" font-size="28" text-anchor="middle">1000</text>
<line x1="440.0" y1="492" x2="440.0" y2="504" stroke="#222" stroke-width="2"/>
<text transform="translate(440.0,541.7) scale(1,1.085)" font-size="28" text-anchor="middle">1500</text>
<line x1="535.0" y1="492" x2="535.0" y2="504" stroke="#222" stroke-width="2"/>
<text transform="translate(535.0,541.7) scale(1,1.085)" font-size="28" text-anchor="middle">2000</text>
<line x1="630.0" y1="492" x2="630.0" y2="504" stroke="#222" stroke-width="2"/>
<text transform="translate(630.0,541.7) scale(1,1.085)" font-size="28" text-anchor="middle">2500</text>
<text x="392.0" y="599.7" font-size="33" text-anchor="middle" textLength="111.5" lengthAdjust="spacing">time (s)</text>
<text transform="translate(27.0,250.0) rotate(-90)" font-size="33" text-anchor="middle" textLength="302.8" lengthAdjust="spacing">NADH Fluorescence</text>
<text transform="translate(598.0,77.0) scale(1,1.065)" font-size="66" text-anchor="middle">A</text>
<text transform="translate(343.0,127.6) scale(1,1.05)" font-size="33" text-anchor="middle">IAA</text>
<path d="M337.7,225.7L344.0,248.0L350.3,225.7Z" fill="#000"/>
<path d="M344.0,157.0L344.0,248.0M332.5,207.5L344.0,248.0L355.5,207.5" fill="none" stroke="#000" stroke-width="4.8" stroke-linecap="round" stroke-linejoin="round"/>
<path d="M197.2,420.1L203.7,398.3L210.2,420.1Z" fill="#000"/>
<path d="M203.7,466.3L203.7,398.3M191.9,438.0L203.7,398.3L215.5,438.0" fill="none" stroke="#000" stroke-width="4.8" stroke-linecap="round" stroke-linejoin="round"/>
<polyline points="818.5,145.9 818.6,135.5 818.7,143.2 818.9,134.1 819.0,143.4 819.1,129.8 819.2,128.7 819.3,130.1 819.5,129.6 819.6,130.0 819.7,136.6 819.8,145.2 819.9,149.1 820.1,114.0 820.2,114.0 820.3,114.0 820.4,114.0 820.5,114.0 820.7,142.8 820.8,145.9 820.9,145.8 821.0,133.2 821.1,147.1 821.3,147.8 821.4,144.4 821.5,134.7 821.6,147.4 821.7,135.1 821.9,147.5 822.0,131.8 822.1,147.2 822.2,151.1 822.3,152.0 822.5,152.5 822.6,151.5 822.7,142.3 822.8,135.6 822.9,134.4 823.1,141.7 823.2,135.2 823.3,146.6 823.4,147.3 823.5,147.5 823.7,132.0 823.8,144.4 823.9,140.8 824.0,141.2 824.1,130.3 824.3,144.2 824.4,144.1 824.5,145.4 824.6,129.7 824.7,130.4 824.9,135.2 825.0,143.7 825.1,145.7 825.2,145.5 825.3,146.3 825.5,143.3 825.6,131.3 825.7,134.7 825.8,131.3 825.9,143.4 826.1,128.3 826.2,145.5 826.3,134.2 826.4,133.6 826.5,131.8 826.7,129.0 826.8,133.2 826.9,128.9 827.0,130.1 827.1,128.1 827.3,131.8 827.4,131.3 827.5,133.6 827.6,142.3 827.7,128.5 827.9,130.3 828.0,130.2 828.1,144.8 828.2,128.4 828.3,140.5 828.5,127.0 828.6,128.5 828.7,131.4 828.8,139.6 828.9,142.7 829.1,141.5 829.2,142.1 829.3,138.8 829.4,127.8 829.5,143.8 829.7,130.1 829.8,139.8 829.9,144.4 830.0,126.1 830.1,132.0 830.3,129.0 830.4,140.4 830.5,139.3 830.6,129.0 830.7,141.9 830.9,139.7 831.0,146.4 831.1,148.6 831.2,146.4 831.3,130.2 831.5,138.0 831.6,129.5 831.7,143.3 831.8,142.5 831.9,138.1 832.1,127.7 832.2,136.6 832.3,125.5 832.4,143.0 832.5,130.2 832.7,138.7 832.8,138.4 832.9,130.3 833.0,147.8 833.1,146.8 833.3,147.5 833.4,148.9 833.5,126.7 833.6,140.8 833.7,131.1 833.9,139.7 834.0,126.7 834.1,140.2 834.2,140.2 834.3,141.1 834.5,128.6 834.6,141.4 834.7,127.7 834.8,135.8 834.9,126.2 835.1,128.3 835.2,139.7 835.3,137.8 835.4,138.6 835.5,126.6 835.7,125.5 835.8,137.1 835.9,139.6 836.0,143.9 836.1,145.6 836.3,143.7 836.4,144.4 836.5,146.1 836.6,125.8 836.7,136.8 836.9,138.6 837.0,136.7 837.1,126.7 837.2,123.7 837.3,123.3 837.5,129.4 837.6,140.9 837.7,126.0 837.8,124.3 837.9,140.6 838.1,135.4 838.2,136.7 838.3,123.1 838.4,137.5 838.5,123.0 838.7,139.7 838.8,122.2 838.9,138.3 839.0,128.6 839.1,122.7 839.3,127.6 839.4,134.6 839.5,126.3 839.6,134.9 839.7,127.8 839.9,137.8 840.0,139.7 840.1,126.8 840.2,135.8 840.3,124.0 840.5,135.2 840.6,136.5 840.7,122.0 840.8,133.8 840.9,124.6 841.1,134.4 841.2,122.8 841.3,134.3 841.4,122.5 841.5,135.5 841.7,121.5 841.8,135.2 841.9,124.5 842.0,127.1 842.1,125.9 842.3,124.9 842.4,121.5 842.5,136.4 842.6,122.0 842.7,121.7 842.9,126.9 843.0,117.9 843.1,117.3 843.2,118.2 843.3,118.7 843.5,134.8 843.6,123.8 843.7,127.1 843.8,126.3 843.9,134.3 844.1,132.7 844.2,133.3 844.3,121.4 844.4,121.6 844.5,136.7 844.7,122.9 844.8,120.4 844.9,125.2 845.0,122.4 845.1,134.3 845.3,137.9 845.4,133.6 845.5,124.9 845.6,136.5 845.7,120.8 845.9,116.2 846.0,114.8 846.1,115.8 846.2,114.7 846.3,122.5 846.5,119.8 846.6,142.2 846.7,144.2 846.8,142.7 846.9,122.4 847.1,137.4 847.2,121.0 847.3,140.7 847.4,141.6 847.5,133.1 847.7,119.2 847.8,133.4 847.9,124.7 848.0,135.6 848.1,131.5 848.3,122.7 848.4,121.1 848.5,135.8 848.6,125.2 848.7,134.4 848.9,124.2 849.0,120.7 849.1,120.8 849.2,133.3 849.3,122.0 849.5,133.3 849.6,118.2 849.7,131.9 849.8,121.5 849.9,130.4 850.1,115.3 850.2,114.0 850.3,118.2 850.4,122.1 850.5,117.9 850.7,130.0 850.8,133.6 850.9,120.1 851.0,133.5 851.1,118.6 851.3,129.3 851.4,133.8 851.5,123.8 851.6,130.7 851.7,118.0 851.9,132.4 852.0,117.3 852.1,117.7 852.2,120.7 852.3,130.2 852.5,122.1 852.6,128.4 852.7,118.4 852.8,133.6 852.9,123.0 853.1,131.3 853.2,117.4 853.3,132.2 853.4,120.1 853.5,134.3 853.7,120.0 853.8,129.7 853.9,130.9 854.0,120.3 854.1,130.1 854.3,130.7 854.4,122.0 854.5,131.3 854.6,131.1 854.7,138.3 854.9,139.0 855.0,138.2 855.1,117.2 855.2,129.3 855.3,130.9 855.5,109.5 855.6,106.8 855.7,107.4 855.8,108.2 855.9,117.2 856.1,120.0 856.2,128.4 856.3,129.4 856.4,131.0 856.5,118.8 856.7,126.4 856.8,117.6 856.9,129.0 857.0,114.2 857.1,117.0 857.3,120.7 857.4,130.1 857.5,126.1 857.6,128.1 857.7,120.5 857.9,116.5 858.0,119.4 858.1,131.8 858.2,126.5 858.3,110.6 858.5,110.5 858.6,128.6 858.7,117.0 858.8,127.5 858.9,114.9 859.1,126.0 859.2,117.5 859.3,125.0 859.4,127.5 859.5,125.7 859.7,113.3 859.8,127.4 859.9,118.0 860.0,126.1 860.1,118.2 860.3,124.6 860.4,118.9 860.5,128.9 860.6,118.4 860.7,129.6 860.9,112.3 861.0,130.0 861.1,117.7 861.2,129.0 861.3,114.6 861.5,130.0 861.6,116.6 861.7,110.3 861.8,111.1 861.9,108.4 862.1,114.2 862.2,128.0 862.3,128.5 862.4,112.2 862.5,118.0 862.7,128.0 862.8,115.8 862.9,132.6 863.0,134.0 863.1,134.3 863.3,133.0 863.4,132.1 863.5,126.6 863.6,127.9 863.7,117.5 863.9,124.1 864.0,112.3 864.1,115.7 864.2,111.4 864.3,115.0 864.5,112.5 864.6,116.7 864.7,110.6 864.8,122.4 864.9,114.0 865.1,114.1 865.2,123.6 865.3,125.1 865.4,113.0 865.5,126.8 865.7,109.8 865.8,126.7 865.9,111.4 866.0,122.4 866.1,105.3 866.3,104.4 866.4,121.5 866.5,126.3 866.6,121.2 866.7,122.6 866.9,113.3 867.0,121.7 867.1,113.5 867.2,114.1 867.3,112.9 867.5,121.6 867.6,101.8 867.7,102.2 867.8,102.9 867.9,125.5 868.1,121.9 868.2,103.5 868.3,103.1 868.4,103.1 868.5,102.5 868.7,125.4 868.8,120.0 868.9,123.7 869.0,109.0 869.1,126.0 869.3,126.1 869.4,122.6 869.5,114.8 869.6,121.9 869.7,102.6 869.9,103.9 870.0,103.2 870.1,126.1 870.2,121.5 870.3,112.0 870.5,130.8 870.6,132.2 870.7,132.5 870.8,132.5 870.9,132.8 871.1,122.3 871.2,108.5 871.3,120.4 871.4,110.6 871.5,121.9 871.7,113.4 871.8,119.6 871.9,120.3 872.0,121.6 872.1,110.0 872.3,123.7 872.4,124.8 872.5,119.0 872.6,106.9 872.7,110.8 872.9,108.2 873.0,120.5 873.1,123.3 873.2,122.9 873.3,113.3 873.5,107.3 873.6,113.1 873.7,127.9 873.8,129.2 873.9,128.3 874.1,111.9 874.2,122.1 874.3,107.7 874.4,121.9 874.5,123.5 874.7,130.4 874.8,130.8 874.9,130.3 875.0,130.1 875.1,128.7 875.3,106.7 875.4,117.5 875.5,123.3 875.6,117.9 875.7,122.1 875.9,117.9 876.0,107.1 876.1,118.7 876.2,117.6 876.3,123.1 876.5,108.3 876.6,122.9 876.7,106.8 876.8,117.6 876.9,111.5 877.1,121.8 877.2,106.2 877.3,118.0 877.4,122.9 877.5,116.8 877.7,106.6 877.8,107.5 877.9,109.2 878.0,109.2 878.1,109.7 878.3,119.7 878.4,108.2 878.5,117.5 878.6,111.6 878.7,107.9 878.9,117.6 879.0,116.9 879.1,117.9 879.2,117.1 879.3,105.4 879.5,118.1 879.6,120.5 879.7,111.2 879.8,106.6 879.9,122.5 880.1,105.9 880.2,121.1 880.3,108.2 880.4,119.0 880.5,104.7 880.7,109.3 880.8,107.4 880.9,120.7 881.0,117.9 881.1,118.8 881.3,110.6 881.4,106.0 881.5,109.6 881.6,108.9 881.7,109.1 881.9,120.3 882.0,107.8 882.1,122.1 882.2,104.9 882.3,121.6 882.5,119.9 882.6,116.6 882.7,108.1 882.8,107.8 882.9,108.9 883.1,118.2 883.2,97.7 883.3,96.5 883.4,97.7 883.5,119.9 883.7,103.3 883.8,118.0 883.9,115.6 884.0,104.9 884.1,118.3 884.3,120.2 884.4,105.6 884.5,120.5 884.6,109.7 884.7,105.2 884.9,105.5 885.0,119.7 885.1,108.1 885.2,105.5 885.3,107.7 885.5,119.4 885.6,108.9 885.7,108.4 885.8,120.7 885.9,119.2 886.1,115.8 886.2,116.1 886.3,106.2 886.4,115.5 886.5,108.2 886.7,120.6 886.8,107.7 886.9,119.0 887.0,104.1 887.1,103.9 887.3,106.9 887.4,115.2 887.5,117.9 887.6,102.0 887.7,106.1 887.9,107.3 888.0,105.2 888.1,114.7 888.2,115.8 888.3,103.6 888.5,107.0 888.6,116.4 888.7,117.7 888.8,114.3 888.9,114.2 889.1,119.9 889.2,102.4 889.3,119.2 889.4,104.4 889.5,116.5 889.7,107.6 889.8,114.6 889.9,107.5 890.0,116.6 890.1,105.1 890.3,114.0 890.4,113.5 890.5,104.1 890.6,107.1 890.7,112.8 890.9,106.4 891.0,118.2 891.1,103.3 891.2,116.1 891.3,96.7 891.5,97.8 891.6,97.2 891.7,97.6 891.8,104.4 891.9,107.1 892.1,103.6 892.2,115.4 892.3,112.6 892.4,113.2 892.5,104.1 892.7,101.2 892.8,107.1 892.9,116.0 893.0,105.4 893.1,114.7 893.3,118.4 893.4,102.9 893.5,105.3 893.6,104.1 893.7,100.4 893.9,101.1 894.0,104.2 894.1,115.5 894.2,103.9 894.3,112.7 894.5,100.3 894.6,113.2 894.7,105.4 894.8,106.1 894.9,100.3 895.1,117.9 895.2,115.9 895.3,103.1 895.4,102.7 895.5,114.0 895.7,100.5 895.8,115.2 895.9,100.7 896.0,101.8 896.1,101.8 896.3,115.9 896.4,116.6 896.5,116.8 896.6,101.7 896.7,113.3 896.9,104.6 897.0,112.4 897.1,100.4 897.2,102.9 897.3,106.3 897.5,115.1 897.6,100.2 897.7,117.2 897.8,99.6 897.9,100.1 898.1,112.0 898.2,114.3 898.3,101.1 898.4,101.5 898.5,103.5 898.7,110.8 898.8,99.7 898.9,115.9 899.0,99.8 899.1,113.1 899.3,112.2 899.4,116.3 899.5,101.2 899.6,115.0 899.7,105.4 899.9,111.0 900.0,100.2 900.1,116.4 900.2,103.1 900.3,116.2 900.5,111.4 900.6,114.1 900.7,103.0 900.8,113.8 900.9,104.0 901.1,102.7 901.2,102.1 901.3,101.2 901.4,103.8 901.5,114.1 901.7,103.7 901.8,116.6 901.9,118.8 902.0,119.0 902.1,103.2 902.3,101.1 902.4,101.9 902.5,100.4 902.6,110.4 902.7,112.4 902.9,101.0 903.0,116.3 903.1,98.6 903.2,124.2 903.3,123.0 903.5,123.5 903.6,122.4 903.7,121.8 903.8,101.3 903.9,99.6 904.1,112.5 904.2,114.6 904.3,102.5 904.4,111.4 904.5,98.1 904.7,100.4 904.8,115.7 904.9,109.5 905.0,97.9 905.1,109.4 905.3,114.2 905.4,113.0 905.5,103.4 905.6,111.0 905.7,112.2 905.9,112.7 906.0,112.2 906.1,103.9 906.2,97.1 906.3,111.2 906.5,99.0 906.6,115.1 906.7,97.2 906.8,109.9 906.9,114.8 907.1,112.1 907.2,99.3 907.3,117.4 907.4,116.4 907.5,117.5 907.7,115.4 907.8,118.0 907.9,97.0 908.0,113.2 908.1,117.6 908.3,117.0 908.4,117.9 908.5,109.7 908.6,99.6 908.7,96.9 908.9,102.5 909.0,101.3 909.1,103.1 909.2,108.6 909.3,100.3 909.5,112.0 909.6,99.7 909.7,108.2 909.8,119.2 909.9,119.4 910.1,119.6 910.2,120.8 910.3,118.1 910.4,111.1 910.5,113.1 910.7,111.9 910.8,96.1 910.9,98.5 911.0,100.6 911.1,110.5 911.3,96.9 911.4,110.1 911.5,96.4 911.6,110.5 911.7,96.2 911.9,101.7 912.0,112.8 912.1,110.4 912.2,101.1 912.3,98.5 912.5,102.2 912.6,108.6 912.7,96.6 912.8,110.8 912.9,100.1 913.1,108.1 913.2,101.3 913.3,108.7 913.4,99.2 913.5,107.2 913.7,108.4 913.8,109.9 913.9,96.1 914.0,112.9 914.1,113.4 914.3,108.4 914.4,107.7 914.5,96.2 914.6,97.3 914.7,108.5 914.9,99.1 915.0,113.2 915.1,112.4 915.2,113.2 915.3,98.5 915.5,107.9 915.6,98.2 915.7,107.3 915.8,101.1 915.9,116.3 916.1,117.6 916.2,118.0 916.3,100.0 916.4,111.2 916.5,97.0 916.7,106.5 916.8,95.7 916.9,112.0 917.0,112.9 917.1,107.8 917.3,96.5 917.4,110.1 917.5,96.6 917.6,112.4 917.7,106.7 917.9,112.0 918.0,95.4 918.1,110.5 918.2,98.6 918.3,109.8 918.5,100.3 918.6,96.1 918.7,97.4 918.8,109.9 918.9,96.3 919.1,106.6 919.2,100.8 919.3,106.6 919.4,100.6 919.5,95.5 919.7,100.2 919.8,108.3 919.9,96.4 920.0,114.3 920.1,114.0 920.3,114.5 920.4,112.7 920.5,115.1 920.6,95.4 920.7,94.0 920.9,96.0 921.0,97.7 921.1,100.5 921.2,109.9 921.3,96.1 921.5,95.9 921.6,98.3 921.7,111.3 921.8,109.4 921.9,107.9 922.1,98.9 922.2,100.4 922.3,95.6 922.4,107.4 922.5,94.5 922.7,98.2 922.8,98.3 922.9,95.0 923.0,97.8 923.1,93.5 923.3,96.4 923.4,111.5 923.5,99.5 923.6,105.3 923.7,100.2 923.9,111.0 924.0,108.2 924.1,110.0 924.2,108.5 924.3,111.6 924.5,94.5 924.6,108.1 924.7,98.8 924.8,107.4 924.9,97.3 925.1,107.2 925.2,95.0 925.3,110.5 925.4,94.2 925.5,105.9 925.7,98.7 925.8,109.2 925.9,94.7 926.0,109.9 926.1,93.5 926.3,106.8 926.4,99.3 926.5,107.0 926.6,119.6 926.7,119.0 926.9,94.9 927.0,107.9 927.1,95.3 927.2,110.3 927.3,95.6 927.5,110.4 927.6,93.9 927.7,107.8 927.8,95.2 927.9,107.4 928.1,90.0 928.2,92.1 928.3,95.2 928.4,106.6 928.5,94.8 928.7,107.7 928.8,98.5 928.9,109.1 929.0,95.8 929.1,110.4 929.3,85.1 929.4,85.8 929.5,105.7 929.6,108.7 929.7,105.2 929.9,109.5 930.0,108.4 930.1,110.3 930.2,106.1 930.3,108.5 930.5,94.8 930.6,108.4 930.7,92.3 930.8,106.0 930.9,97.3 931.1,93.3 931.2,97.8 931.3,95.0 931.4,92.4 931.5,109.4 931.7,108.2 931.8,103.5 931.9,91.9 932.0,106.5 932.1,96.7 932.3,103.8 932.4,104.3 932.5,103.6 932.6,94.7 932.7,105.9 932.9,96.5 933.0,108.9 933.1,97.9 933.2,106.1 933.3,108.7 933.5,108.9 933.6,93.5 933.7,106.7 933.8,97.3 933.9,105.8 934.1,93.2 934.2,108.4 934.3,94.0 934.4,109.2 934.5,94.3 934.7,115.3 934.8,114.5 934.9,114.9 935.0,114.4 935.1,115.3 935.3,96.0 935.4,105.9 935.5,95.1 935.6,108.6 935.7,97.9 935.9,106.1 936.0,94.7 936.1,103.3 936.2,105.7 936.3,108.6 936.5,97.5 936.6,96.1 936.7,93.6 936.8,106.2 936.9,92.5 937.1,95.4 937.2,96.9 937.3,115.5 937.4,113.9 937.5,113.6 937.7,115.6 937.8,113.4 937.9,93.5 938.0,103.2 938.1,104.9 938.3,108.5 938.4,97.3 938.5,111.6 938.6,111.6 938.7,112.2 938.9,96.3 939.0,106.6 939.1,91.4 939.2,102.5 939.3,84.8 939.5,82.9 939.6,83.1 939.7,84.3 939.8,105.5 939.9,97.0 940.1,92.6 940.2,105.4 940.3,108.7 940.4,90.3 940.5,91.0 940.7,93.4 940.8,91.3 940.9,91.9 941.0,95.1 941.1,106.9 941.3,94.9 941.4,104.5 941.5,96.4 941.6,102.5 941.7,93.4 941.9,91.0 942.0,107.0 942.1,102.5 942.2,93.0 942.3,103.5 942.5,102.8 942.6,103.9 942.7,91.9 942.8,107.8 942.9,83.6 943.1,84.6 943.2,83.1 943.3,82.0 943.4,93.8 943.5,106.8 943.7,96.4 943.8,107.7 943.9,94.5 944.0,107.0 944.1,90.6 944.3,106.9 944.4,92.0 944.5,105.5 944.6,96.0 944.7,93.3 944.9,91.9 945.0,102.8 945.1,105.6 945.2,92.3 945.3,91.5 945.5,106.8 945.6,93.8 945.7,105.1 945.8,88.1 945.9,86.0 946.1,90.3 946.2,105.4 946.3,91.1 946.4,104.5 946.5,93.6 946.7,106.1 946.8,101.4 946.9,91.8 947.0,95.1 947.1,90.6 947.3,92.3 947.4,104.8 947.5,101.5 947.6,103.2 947.7,104.9 947.9,103.4 948.0,90.6 948.1,100.8 948.2,93.1 948.3,100.9 948.5,90.4 948.6,92.7 948.7,105.3 948.8,105.4 948.9,100.3 949.1,83.0 949.2,84.3 949.3,85.4 949.4,84.2 949.5,84.1 949.7,92.2 949.8,105.1 949.9,94.4 950.0,108.7 950.1,108.4 950.3,108.3 950.4,109.2 950.5,107.1 950.6,93.8 950.7,90.4 950.9,90.0 951.0,103.9 951.1,93.2 951.2,100.8 951.3,94.5 951.5,100.7 951.6,92.3 951.7,101.8 951.8,94.3 951.9,105.3 952.1,93.4 952.2,112.9 952.3,113.1 952.4,112.4 952.5,112.3 952.7,112.5 952.8,93.5 952.9,99.4 953.0,101.9 953.1,106.1 953.3,89.0 953.4,88.5 953.5,105.4 953.6,100.6 953.7,89.8 953.9,101.9 954.0,91.8 954.1,104.2 954.2,90.3 954.3,103.2 954.5,92.3 954.6,105.4 954.7,103.4 954.8,84.3 954.9,82.0 955.1,82.4 955.2,83.5 955.3,83.6 955.4,105.4 955.5,89.2 955.7,104.8 955.8,100.9 955.9,87.0 956.0,107.1 956.1,107.4 956.3,109.0 956.4,106.3 956.5,90.8 956.6,90.2 956.7,92.8 956.9,93.1 957.0,104.9 957.1,89.0 957.2,98.8 957.3,89.4 957.5,91.8 957.6,104.0 957.7,100.6 957.8,93.3 957.9,88.8 958.1,105.0 958.2,103.1 958.3,86.6 958.4,98.7 958.5,91.2 958.7,103.3 958.8,90.0 958.9,99.1 959.0,90.8 959.1,99.8 959.3,88.2 959.4,103.1 959.5,87.9 959.6,88.4 959.7,87.8 959.9,104.0 960.0,91.1 960.1,99.5 960.2,104.4 960.3,86.7 960.5,102.1 960.6,78.2 960.7,79.5 960.8,79.6 960.9,79.6 961.1,91.0 961.2,83.7 961.3,82.2 961.4,82.7 961.5,98.2 961.7,97.5 961.8,98.8 961.9,87.0 962.0,103.3 962.1,99.0 962.3,85.7 962.4,89.0 962.5,101.8 962.6,87.7 962.7,100.0 962.9,86.4 963.0,86.0 963.1,88.9 963.2,98.9 963.3,103.3 963.5,101.7 963.6,89.6 963.7,97.9 963.8,99.4 963.9,99.8 964.1,78.4 964.2,78.4 964.3,88.4 964.4,102.9 964.5,87.8 964.7,102.5 964.8,91.4 964.9,91.2 965.0,102.4 965.1,86.6 965.3,89.9 965.4,97.2 965.5,91.1 965.6,98.5 965.7,102.4 965.9,97.5 966.0,97.9 966.1,101.9 966.2,90.2 966.3,89.8 966.5,101.3 966.6,102.0 966.7,84.8 966.8,96.3 966.9,98.2 967.1,100.2 967.2,88.9 967.3,101.0 967.4,89.6 967.5,100.0 967.7,90.0 967.8,96.8 967.9,85.5 968.0,105.3 968.1,105.2 968.3,98.3 968.4,100.3 968.5,102.2 968.6,107.4 968.7,105.1 968.9,105.5 969.0,105.0 969.1,88.7 969.2,85.5 969.3,89.3 969.5,99.5 969.6,88.1 969.7,108.7 969.8,108.1 969.9,107.4 970.1,106.7 970.2,100.1 970.3,87.5 970.4,95.4 970.5,84.7 970.7,95.8 970.8,81.8 970.9,82.7 971.0,81.9 971.1,80.2 971.3,80.9 971.4,101.6 971.5,95.2 971.6,95.1 971.7,85.0 971.9,83.7 972.0,85.6 972.1,100.8 972.2,99.2 972.3,95.2 972.5,80.5 972.6,80.5 972.7,78.2 972.8,79.9 972.9,86.6 973.1,95.2 973.2,83.8 973.3,88.3 973.4,95.8 973.5,95.3 973.7,87.3 973.8,97.1 973.9,88.2 974.0,88.4 974.1,86.4 974.3,94.3 974.4,86.1 974.5,94.9 974.6,95.0 974.7,88.6 974.9,83.5 975.0,99.7 975.1,82.5 975.2,99.6 975.3,85.7 975.5,96.6 975.6,85.1 975.7,98.2 975.8,82.3 975.9,96.1 976.1,82.8 976.2,82.4 976.3,82.4 976.4,84.6 976.5,97.9 976.7,100.5 976.8,86.0 976.9,98.9 977.0,94.1 977.1,95.1 977.3,97.0 977.4,98.5 977.5,87.5 977.6,99.1 977.7,84.7 977.9,94.2 978.0,88.3 978.1,96.0 978.2,82.8 978.3,100.0 978.5,83.2 978.6,94.7 978.7,82.2 978.8,76.9 978.9,76.9 979.1,76.1 979.2,75.9 979.3,95.2 979.4,85.2 979.5,99.2 979.7,96.1 979.8,87.6 979.9,85.7 980.0,84.0 980.1,84.3 980.3,81.4 980.4,96.2 980.5,98.2 980.6,108.3 980.7,107.3 980.9,108.1 981.0,108.1 981.1,87.0 981.2,93.1 981.3,87.0 981.5,86.8 981.6,87.2 981.7,95.1 981.8,86.6 981.9,80.8 982.1,95.1 982.2,92.3 982.3,82.9 982.4,97.2 982.5,80.9 982.7,93.8 982.8,85.2 982.9,97.3 983.0,83.0 983.1,83.0 983.3,98.5 983.4,80.3 983.5,87.2 983.6,94.6 983.7,80.6 983.9,91.9 984.0,84.8 984.1,97.1 984.2,86.6 984.3,82.9 984.5,80.6 984.6,83.3 984.7,86.9 984.8,92.4 984.9,84.0 985.1,91.6 985.2,82.2 985.3,93.3 985.4,84.4 985.5,96.9 985.7,104.1 985.8,102.4 985.9,85.3 986.0,84.2 986.1,82.2 986.3,83.1 986.4,80.9 986.5,94.0 986.6,80.1 986.7,84.9 986.9,81.9 987.0,96.6 987.1,79.5 987.2,93.6 987.3,80.1 987.5,82.1 987.6,81.8 987.7,92.7 987.8,80.1 987.9,85.7 988.1,79.2 988.2,82.1 988.3,94.8 988.4,84.8 988.5,81.3 988.7,91.7 988.8,96.4 988.9,95.8 989.0,103.4 989.1,104.8 989.3,94.9 989.4,92.5 989.5,81.1 989.6,95.2 989.7,82.2 989.9,95.2 990.0,80.1 990.1,96.5 990.2,79.8 990.3,91.0 990.5,79.5 990.6,78.9 990.7,82.1 990.8,96.4 990.9,101.6 991.1,100.5 991.2,100.4 991.3,100.8 991.4,99.8 991.5,93.0 991.7,78.4 991.8,93.5 991.9,78.3 992.0,93.3 992.1,81.9 992.3,89.9 992.4,84.5 992.5,95.8 992.6,80.2 992.7,93.5 992.9,78.7 993.0,94.1 993.1,82.9 993.2,72.5 993.3,72.0 993.5,71.9 993.6,79.0 993.7,91.9 993.8,78.8 993.9,95.1 994.1,78.3 994.2,83.8 994.3,94.4 994.4,91.4 994.5,78.5 994.7,83.7 994.8,78.3 994.9,95.9 995.0,80.8 995.1,71.8 995.3,74.0 995.4,95.2 995.5,83.7 995.6,94.8 995.7,81.8 995.9,81.4 996.0,78.1 996.1,83.3 996.2,89.8 996.3,93.5 996.5,93.8 996.6,82.4 996.7,93.5 996.8,91.1 996.9,83.7 997.1,82.1 997.2,82.7 997.3,91.6 997.4,91.6 997.5,81.1 997.7,77.4 997.8,81.0 997.9,82.4 998.0,94.9 998.1,92.7 998.3,94.9 998.4,80.4 998.5,70.2 998.6,72.4 998.7,94.9 998.9,90.0 999.0,76.9 999.1,81.0 999.2,78.0 999.3,92.5 999.5,93.4 999.6,89.4 999.7,94.9 999.8,79.8 999.9,82.7 1000.1,92.6 1000.2,88.3 1000.3,78.6 1000.4,78.1 1000.5,81.6 1000.7,88.5 1000.8,82.0 1000.9,92.2 1001.0,77.7 1001.1,76.5 1001.3,80.6 1001.4,88.2 1001.5,78.4 1001.6,93.3 1001.7,77.7 1001.9,90.8 1002.0,80.8 1002.1,92.4 1002.2,76.7 1002.3,88.8 1002.5,92.2 1002.6,92.6 1002.7,94.1 1002.8,89.7 1002.9,79.7 1003.1,87.4 1003.2,81.3 1003.3,92.2 1003.4,80.4 1003.5,93.3 1003.7,80.0 1003.8,76.7 1003.9,79.7 1004.0,76.9 1004.1,79.1 1004.3,88.2 1004.4,80.7 1004.5,88.7 1004.6,81.2 1004.7,92.7 1004.9,75.5 1005.0,92.1 1005.1,86.6 1005.2,92.7 1005.3,92.0 1005.5,75.9 1005.6,77.4 1005.7,80.3 1005.8,79.6 1005.9,89.1 1006.1,80.4 1006.2,86.5 1006.3,92.9 1006.4,88.9 1006.5,77.3 1006.7,86.9 1006.8,92.1 1006.9,91.3 1007.0,81.1 1007.1,80.0 1007.3,76.2 1007.4,86.4 1007.5,81.1 1007.6,86.7 1007.7,70.5 1007.9,69.1 1008.0,69.5 1008.1,70.5 1008.2,69.1 1008.3,91.2 1008.5,90.1 1008.6,86.1 1008.7,79.7 1008.8,90.4 1008.9,77.0 1009.1,97.6 1009.2,97.2 1009.3,87.2 1009.4,76.7 1009.5,79.8 1009.7,73.8 1009.8,91.1 1009.9,77.2 1010.0,92.1 1010.1,75.9 1010.3,89.3 1010.4,76.0 1010.5,75.6 1010.6,73.6 1010.7,90.6 1010.9,78.8 1011.0,85.4 1011.1,73.9 1011.2,90.1 1011.3,76.2 1011.5,88.3 1011.6,73.6 1011.7,85.1 1011.8,79.1 1011.9,87.0 1012.1,96.6 1012.2,94.7 1012.3,95.6 1012.4,95.8 1012.5,85.7 1012.7,84.7 1012.8,78.9 1012.9,85.7 1013.0,76.3 1013.1,77.3 1013.3,91.3 1013.4,90.8 1013.5,88.3 1013.6,85.5 1013.7,86.5 1013.9,84.5 1014.0,96.4 1014.1,98.2 1014.2,96.9 1014.3,77.3 1014.5,90.1 1014.6,76.7 1014.7,74.9 1014.8,86.5 1014.9,73.7 1015.1,85.5 1015.2,78.2 1015.3,84.3 1015.4,86.5 1015.5,89.0 1015.7,75.9 1015.8,89.7 1015.9,87.8 1016.0,75.3 1016.1,75.6 1016.3,83.9 1016.4,74.9 1016.5,84.9 1016.6,64.6 1016.7,65.6 1016.9,66.2 1017.0,66.2 1017.1,76.8 1017.2,76.7 1017.3,75.8 1017.5,90.0 1017.6,76.9 1017.7,85.4 1017.8,76.8 1017.9,85.4 1018.1,85.3 1018.2,88.9 1018.3,71.6 1018.4,75.7 1018.5,89.1 1018.7,83.8 1018.8,86.4 1018.9,88.7 1019.0,77.6 1019.1,89.9 1019.3,75.4 1019.4,74.7 1019.5,71.6 1019.6,89.2 1019.7,84.2 1019.9,85.9 1020.0,72.9 1020.1,74.8 1020.2,71.4 1020.3,84.0 1020.5,71.1 1020.6,86.8 1020.7,86.8 1020.8,87.2 1020.9,75.9 1021.1,74.6 1021.2,83.9 1021.3,87.9 1021.4,75.3 1021.5,83.3 1021.7,71.4 1021.8,84.6 1021.9,88.8 1022.0,85.2 1022.1,86.6 1022.3,71.9 1022.4,73.8 1022.5,64.7 1022.6,63.6 1022.7,65.1 1022.9,64.2 1023.0,65.4 1023.1,83.1 1023.2,82.8 1023.3,73.4 1023.5,88.4 1023.6,73.2 1023.7,84.7 1023.8,76.2 1023.9,84.2 1024.1,75.7 1024.2,84.8 1024.3,73.7 1024.4,88.0 1024.5,74.1 1024.7,87.6 1024.8,76.5 1024.9,83.8 1025.0,86.4 1025.1,84.4 1025.3,81.8 1025.4,74.1 1025.5,72.7 1025.6,69.9 1025.7,82.8 1025.9,81.8 1026.0,71.2 1026.1,72.1 1026.2,73.9 1026.3,73.6 1026.5,74.0 1026.6,85.6 1026.7,70.2 1026.8,74.1 1026.9,69.9 1027.1,90.7 1027.2,89.3 1027.3,89.9 1027.4,75.5 1027.5,82.1 1027.7,74.3 1027.8,72.9 1027.9,72.5 1028.0,70.0 1028.1,73.4 1028.3,85.8 1028.4,60.6 1028.5,62.4 1028.6,61.4 1028.7,61.4 1028.9,73.2 1029.0,84.8 1029.1,84.2 1029.2,67.1 1029.3,65.0 1029.5,65.8 1029.6,67.1 1029.7,65.2 1029.8,80.8 1029.9,83.6 1030.1,71.4 1030.2,73.4 1030.3,73.7 1030.4,85.7 1030.5,70.5 1030.7,80.9 1030.8,85.5 1030.9,80.2 1031.0,69.3 1031.1,69.3 1031.3,74.2 1031.4,68.1 1031.5,68.7 1031.6,80.9 1031.7,70.4 1031.9,82.8 1032.0,73.9 1032.1,61.9 1032.2,61.7 1032.3,62.1 1032.5,63.8 1032.6,86.2 1032.7,72.6 1032.8,82.7 1032.9,72.1 1033.1,81.9 1033.2,70.5 1033.3,84.7 1033.4,69.8 1033.5,80.0 1033.7,81.1 1033.8,70.1 1033.9,84.4 1034.0,85.1 1034.1,71.8 1034.3,82.2 1034.4,90.0 1034.5,89.4 1034.6,72.1 1034.7,82.5 1034.9,70.0 1035.0,80.0 1035.1,73.6 1035.2,83.7 1035.3,83.7 1035.5,85.6 1035.6,82.2 1035.7,79.1 1035.8,73.4 1035.9,85.3 1036.1,68.8 1036.2,79.7 1036.3,70.9 1036.4,79.8 1036.5,68.3 1036.7,68.6 1036.8,84.8 1036.9,69.1 1037.0,70.8 1037.1,84.6 1037.3,70.9 1037.4,83.3 1037.5,72.0 1037.6,80.1 1037.7,69.2 1037.9,80.1 1038.0,67.4 1038.1,63.6 1038.2,60.9 1038.3,63.4 1038.5,69.3 1038.6,81.4 1038.7,79.2 1038.8,80.3 1038.9,66.9 1039.1,68.4 1039.2,67.7 1039.3,80.6 1039.4,71.7 1039.5,67.5 1039.7,70.1 1039.8,83.1 1039.9,72.5 1040.0,70.5 1040.1,68.4 1040.3,66.4 1040.4,71.4 1040.5,84.3 1040.6,68.1 1040.7,78.8 1040.9,72.6 1041.0,60.7 1041.1,60.9 1041.2,62.6 1041.3,69.7 1041.5,77.8 1041.6,69.2 1041.7,63.5 1041.8,62.4 1041.9,62.6 1042.1,62.8 1042.2,63.0 1042.3,70.3 1042.4,83.3 1042.5,67.1 1042.7,82.5 1042.8,71.0 1042.9,83.0 1043.0,67.6 1043.1,69.4 1043.3,67.4 1043.4,78.5 1043.5,65.8 1043.6,71.5 1043.7,70.2 1043.9,81.7 1044.0,69.1 1044.1,65.8 1044.2,66.2 1044.3,81.3 1044.5,69.4 1044.6,79.6 1044.7,78.8 1044.8,78.6 1044.9,71.7 1045.1,69.9 1045.2,81.2 1045.3,80.1 1045.4,69.4 1045.5,78.6 1045.7,77.5 1045.8,71.1 1045.9,70.5 1046.0,80.5 1046.1,65.0 1046.3,80.9 1046.4,69.0 1046.5,80.0 1046.6,77.0 1046.7,70.8 1046.9,70.9 1047.0,79.9 1047.1,80.0 1047.2,84.3 1047.3,83.7 1047.5,85.0 1047.6,82.7 1047.7,66.6 1047.8,70.9 1047.9,77.7 1048.1,67.4 1048.2,80.4 1048.3,80.4 1048.4,80.3 1048.5,76.1 1048.7,76.0 1048.8,60.4 1048.9,61.5 1049.0,60.8 1049.1,60.5 1049.3,75.8 1049.4,81.4 1049.5,66.2 1049.6,68.1 1049.7,69.1 1049.9,79.0 1050.0,64.9 1050.1,76.7 1050.2,68.9 1050.3,78.7 1050.5,64.9 1050.6,78.1 1050.7,67.7 1050.8,81.9 1050.9,66.7 1051.1,65.0 1051.2,65.7 1051.3,78.9 1051.4,67.4 1051.5,79.6 1051.7,64.5 1051.8,76.0 1051.9,76.8 1052.0,68.8 1052.1,64.6 1052.3,77.1 1052.4,67.1 1052.5,78.4 1052.6,86.4 1052.7,87.9 1052.9,87.3 1053.0,64.0 1053.1,66.8 1053.2,77.2 1053.3,58.3 1053.5,58.1 1053.6,59.9 1053.7,80.9 1053.8,80.3 1053.9,78.3 1054.1,68.0 1054.2,79.9 1054.3,68.7 1054.4,77.4 1054.5,68.5 1054.7,59.3 1054.8,58.4 1054.9,57.0 1055.0,57.9 1055.1,81.1 1055.3,67.0 1055.4,65.9 1055.5,68.5 1055.6,76.1 1055.7,67.9 1055.9,62.7 1056.0,68.6 1056.1,78.6 1056.2,63.6 1056.3,80.6 1056.5,64.4 1056.6,75.2 1056.7,62.9 1056.8,77.5 1056.9,65.6 1057.1,63.0 1057.2,69.1 1057.3,78.9 1057.4,63.9 1057.5,78.5 1057.7,85.9 1057.8,84.4 1057.9,84.7 1058.0,76.0 1058.1,79.5 1058.3,62.6 1058.4,67.1 1058.5,85.6 1058.6,85.6 1058.7,85.9 1058.9,86.7 1059.0,76.1 1059.1,64.4 1059.2,78.5 1059.3,75.6 1059.5,74.7 1059.6,78.8 1059.7,75.5 1059.8,67.0 1059.9,75.3 1060.1,74.9 1060.2,74.2 1060.3,75.9 1060.4,74.5 1060.5,64.0 1060.7,67.8 1060.8,66.0 1060.9,61.9 1061.0,65.3 1061.1,62.2 1061.3,74.7 1061.4,78.5 1061.5,67.8 1061.6,79.6 1061.7,61.6 1061.9,77.8 1062.0,66.9 1062.1,63.0 1062.2,62.6 1062.3,63.6 1062.5,62.8 1062.6,74.6 1062.7,78.2 1062.8,74.3 1062.9,64.6 1063.1,65.3 1063.2,66.6 1063.3,74.5 1063.4,61.8 1063.5,73.1 1063.7,64.5 1063.8,64.6 1063.9,67.1 1064.0,73.1 1064.1,64.8 1064.3,75.0 1064.4,66.0 1064.5,74.2 1064.6,66.2 1064.7,76.9 1064.9,60.9 1065.0,65.6 1065.1,64.9 1065.2,77.2 1065.3,74.4 1065.5,73.2 1065.6,63.1 1065.7,74.7 1065.8,67.5 1065.9,74.5 1066.1,61.4 1066.2,67.1 1066.3,78.3 1066.4,76.4 1066.5,77.9 1066.7,76.0 1066.8,77.0 1066.9,78.2 1067.0,66.1 1067.1,58.2 1067.3,56.4 1067.4,56.6 1067.5,57.1 1067.6,55.3 1067.7,78.7 1067.9,76.0 1068.0,62.9 1068.1,72.0 1068.2,65.2 1068.3,65.1 1068.5,78.6 1068.6,72.7 1068.7,75.2 1068.8,76.7 1068.9,62.6 1069.1,76.9 1069.2,64.4 1069.3,65.8 1069.4,65.3 1069.5,75.3 1069.7,63.2 1069.8,64.0 1069.9,60.4 1070.0,74.2 1070.1,65.3 1070.3,62.5 1070.4,62.7 1070.5,76.8 1070.6,62.8 1070.7,71.4 1070.9,63.3 1071.0,72.5 1071.1,72.9 1071.2,76.6 1071.3,59.8 1071.5,77.3 1071.6,64.9 1071.7,63.5 1071.8,60.5 1071.9,77.0 1072.1,66.0 1072.2,73.0 1072.3,75.1 1072.4,65.0 1072.5,71.1 1072.7,64.8 1072.8,62.5 1072.9,75.9 1073.0,61.1 1073.1,74.8 1073.3,62.0 1073.4,74.5 1073.5,60.6 1073.6,61.6 1073.7,75.5 1073.9,77.0 1074.0,71.5 1074.1,71.0 1074.2,74.4 1074.3,73.8 1074.5,77.0 1074.6,63.8 1074.7,61.2 1074.8,75.4 1074.9,64.2 1075.1,84.2 1075.2,82.1 1075.3,83.2 1075.4,82.2 1075.5,84.8 1075.7,64.5 1075.8,61.8 1075.9,61.4 1076.0,82.1 1076.1,82.4 1076.3,71.7 1076.4,61.6 1076.5,59.7 1076.6,76.2 1076.7,64.8 1076.9,63.3 1077.0,75.2 1077.1,61.4 1077.2,72.8 1077.3,59.7 1077.5,76.3 1077.6,61.5 1077.7,71.8 1077.8,58.7 1077.9,73.4 1078.1,62.9 1078.2,64.4 1078.3,79.3 1078.4,81.3 1078.5,80.0 1078.7,71.2 1078.8,58.8 1078.9,70.4 1079.0,60.5 1079.1,73.8 1079.3,61.7 1079.4,74.6 1079.5,72.1 1079.6,60.7 1079.7,75.8 1079.9,73.7 1080.0,73.3 1080.1,73.9 1080.2,63.7 1080.3,71.9 1080.5,74.6 1080.6,73.5 1080.7,70.4 1080.8,75.6 1080.9,72.4 1081.1,63.1 1081.2,63.8 1081.3,58.3 1081.4,59.7 1081.5,62.6 1081.7,63.4 1081.8,75.3 1081.9,63.7 1082.0,73.0 1082.1,60.0 1082.3,75.8 1082.4,59.8 1082.5,70.0 1082.6,72.8 1082.7,75.5 1082.9,62.6 1083.0,55.4 1083.1,55.9 1083.2,56.4 1083.3,57.9 1083.5,72.3 1083.6,62.3 1083.7,71.8 1083.8,63.1 1083.9,72.0 1084.1,61.0 1084.2,72.7 1084.3,63.5 1084.4,75.7 1084.5,59.9 1084.7,72.9 1084.8,58.4 1084.9,69.2 1085.0,60.1 1085.1,71.4 1085.3,59.6 1085.4,75.3 1085.5,81.6 1085.6,82.2 1085.7,80.7 1085.9,82.4 1086.0,81.5 1086.1,73.7 1086.2,60.1 1086.3,76.9 1086.5,79.2 1086.6,78.4 1086.7,63.1 1086.8,74.9 1086.9,58.0 1087.1,59.5 1087.2,62.1 1087.3,72.4 1087.4,61.5 1087.5,59.2 1087.7,68.6 1087.8,72.5 1087.9,59.8 1088.0,57.2 1088.1,59.6 1088.3,73.7 1088.4,69.8 1088.5,72.1 1088.6,61.3 1088.7,75.1 1088.9,74.8 1089.0,69.9 1089.1,59.1 1089.2,68.6 1089.3,71.9 1089.5,74.9 1089.6,62.4 1089.7,73.1 1089.8,59.8 1089.9,56.4 1090.1,60.5 1090.2,73.7 1090.3,59.1 1090.4,73.5 1090.5,57.3 1090.7,72.4 1090.8,60.7 1090.9,72.0 1091.0,57.6 1091.1,73.5 1091.3,58.7 1091.4,59.9 1091.5,62.5 1091.6,62.2 1091.7,58.5 1091.9,60.3 1092.0,58.3 1092.1,71.3 1092.2,70.4 1092.3,69.0 1092.5,57.0 1092.6,61.0 1092.7,71.9 1092.8,68.2 1092.9,56.1 1093.1,68.5 1093.2,59.3 1093.3,73.1 1093.4,61.1 1093.5,71.9 1093.7,59.9 1093.8,74.1 1093.9,61.7 1094.0,68.6 1094.1,71.1 1094.3,72.0 1094.4,58.6 1094.5,68.5 1094.6,59.1 1094.7,67.6 1094.9,57.8 1095.0,69.4 1095.1,55.8 1095.2,69.9 1095.3,62.1 1095.5,67.2 1095.6,60.1 1095.7,68.9 1095.8,55.7 1095.9,80.4 1096.1,80.8 1096.2,79.8 1096.3,78.2 1096.4,61.4 1096.5,57.1 1096.7,61.8 1096.8,72.3 1096.9,59.4 1097.0,57.4 1097.1,71.1 1097.3,67.5 1097.4,72.0 1097.5,56.0 1097.6,67.5 1097.7,55.3 1097.9,72.3 1098.0,57.8 1098.1,57.1 1098.2,61.6 1098.3,60.4 1098.5,55.6 1098.6,72.6 1098.7,60.4 1098.8,58.1 1098.9,59.4 1099.1,75.8 1099.2,78.0 1099.3,75.8 1099.4,66.9 1099.5,71.1 1099.7,61.6 1099.8,67.0 1099.9,58.8 1100.0,66.6 1100.1,58.0 1100.3,71.0 1100.4,59.8 1100.5,71.1 1100.6,61.1 1100.7,66.8 1100.9,58.1 1101.0,61.3 1101.1,56.2 1101.2,55.3 1101.3,61.4 1101.5,71.7 1101.6,79.0 1101.7,77.6 1101.8,71.6 1101.9,72.3 1102.1,55.4 1102.2,71.9 1102.3,56.0 1102.4,72.3 1102.5,60.7 1102.7,55.6 1102.8,56.5 1102.9,68.4 1103.0,58.1 1103.1,66.6 1103.3,59.0 1103.4,56.1 1103.5,57.3 1103.6,72.2 1103.7,59.3 1103.9,67.3 1104.0,55.9 1104.1,72.3 1104.2,50.2 1104.3,50.7 1104.5,52.0 1104.6,67.2 1104.7,54.6 1104.8,72.4 1104.9,57.5 1105.1,54.9 1105.2,59.3 1105.3,56.3 1105.4,54.4 1105.5,58.3 1105.7,56.3 1105.8,70.6 1105.9,59.7 1106.0,67.2 1106.1,56.5 1106.3,58.9 1106.4,66.4 1106.5,66.4 1106.6,55.1 1106.7,57.4 1106.9,69.1 1107.0,56.1 1107.1,67.5 1107.2,69.7 1107.3,57.3 1107.5,65.8 1107.6,56.8 1107.7,57.0 1107.8,55.6 1107.9,71.7 1108.1,60.0 1108.2,69.3 1108.3,55.4 1108.4,68.3 1108.5,78.0 1108.7,77.4 1108.8,78.0 1108.9,67.8 1109.0,55.7 1109.1,56.0 1109.3,65.5 1109.4,67.3 1109.5,53.9 1109.6,65.9 1109.7,68.4 1109.9,69.2 1110.0,59.2 1110.1,66.1 1110.2,57.8 1110.3,76.8 1110.5,77.5 1110.6,54.6 1110.7,69.4 1110.8,70.2 1110.9,58.2 1111.1,68.3 1111.2,53.9 1111.3,67.6 1111.4,55.9 1111.5,67.3 1111.7,69.6 1111.8,55.4 1111.9,54.5 1112.0,53.0 1112.1,54.3 1112.3,68.4 1112.4,66.1 1112.5,67.9 1112.6,53.1 1112.7,71.2 1112.9,58.8 1113.0,69.0 1113.1,64.4 1113.2,65.0 1113.3,57.0 1113.5,77.2 1113.6,76.5 1113.7,77.2 1113.8,56.8 1113.9,53.5 1114.1,57.0 1114.2,57.7 1114.3,57.4 1114.4,64.2 1114.5,54.3 1114.7,54.9 1114.8,56.4 1114.9,53.6 1115.0,66.3 1115.1,57.8 1115.3,64.1 1115.4,65.1 1115.5,56.1 1115.6,66.2 1115.7,56.1 1115.9,46.9 1116.0,46.9 1116.1,46.9 1116.2,46.3 1116.3,45.6 1116.5,53.2 1116.6,66.2 1116.7,55.8 1116.8,69.0 1116.9,58.1 1117.1,45.5 1117.2,44.1 1117.3,44.6 1117.4,44.4 1117.5,54.4 1117.7,53.0 1117.8,69.3 1117.9,58.6 1118.0,64.6 1118.1,56.5 1118.3,63.9 1118.4,55.7 1118.5,66.6 1118.6,67.1 1118.7,65.8 1118.9,57.0 1119.0,67.5 1119.1,58.3 1119.2,63.6 1119.3,53.4 1119.5,64.6 1119.6,57.5 1119.7,65.0 1119.8,67.2 1119.9,64.9 1120.1,53.9 1120.2,67.6 1120.3,66.0 1120.4,69.6 1120.5,53.2 1120.7,64.1 1120.8,64.7 1120.9,63.8 1121.0,53.4 1121.1,64.4 1121.3,55.2 1121.4,63.6 1121.5,52.2 1121.6,68.2 1121.7,53.6 1121.9,67.8 1122.0,55.7 1122.1,64.2 1122.2,58.1 1122.3,65.7 1122.5,44.5 1122.6,44.2 1122.7,44.9 1122.8,46.3 1122.9,45.1 1123.1,64.8 1123.2,68.0 1123.3,64.2 1123.4,55.9 1123.5,64.6 1123.7,56.6 1123.8,68.3 1123.9,51.3 1124.0,53.8 1124.1,64.4 1124.3,64.3 1124.4,67.4 1124.5,67.5 1124.6,52.2 1124.7,63.4 1124.9,56.4 1125.0,55.4 1125.1,54.8 1125.2,68.1 1125.3,63.0 1125.5,64.5 1125.6,56.9 1125.7,68.0 1125.8,47.0 1125.9,48.0 1126.1,47.9 1126.2,48.4 1126.3,46.3 1126.4,62.4 1126.5,52.0 1126.7,67.6 1126.8,65.2 1126.9,67.6 1127.0,46.6 1127.1,49.0 1127.3,48.7 1127.4,47.8 1127.5,55.6 1127.6,50.8 1127.7,53.6 1127.9,65.6 1128.0,67.4 1128.1,68.4 1128.2,55.5 1128.3,62.8 1128.5,51.4 1128.6,65.0 1128.7,65.8 1128.8,65.2 1128.9,51.1 1129.1,53.2 1129.2,52.3 1129.3,67.2 1129.4,57.1 1129.5,65.7 1129.7,52.9 1129.8,62.5 1129.9,55.9 1130.0,62.2 1130.1,54.2 1130.3,67.1 1130.4,55.3 1130.5,67.7 1130.6,56.5 1130.7,54.6 1130.9,55.3 1131.0,68.3 1131.1,62.7 1131.2,67.5 1131.3,53.3 1131.5,63.4 1131.6,53.9 1131.7,62.4 1131.8,52.6 1131.9,66.1 1132.1,64.5 1132.2,66.9 1132.3,51.4 1132.4,66.1 1132.5,51.5 1132.7,64.3 1132.8,55.6 1132.9,65.0 1133.0,53.4 1133.1,62.3 1133.3,51.8 1133.4,72.7 1133.5,72.5 1133.6,70.6 1133.7,71.9 1133.9,70.0 1134.0,50.2 1134.1,66.0 1134.2,63.3 1134.3,61.5 1134.5,54.1 1134.6,51.0 1134.7,50.1 1134.8,62.2 1134.9,49.9 1135.1,62.4 1135.2,56.1 1135.3,61.9 1135.4,69.4 1135.5,70.3 1135.7,68.6 1135.8,52.9 1135.9,50.7 1136.0,61.5 1136.1,51.0 1136.3,42.6 1136.4,42.3 1136.5,42.8 1136.6,51.0 1136.7,65.9 1136.9,65.3 1137.0,63.3 1137.1,65.1 1137.2,53.1 1137.3,50.5 1137.5,51.3 1137.6,49.8 1137.7,50.2 1137.8,50.1 1137.9,55.3 1138.1,55.8 1138.2,63.2 1138.3,67.1 1138.4,64.8 1138.5,51.8 1138.7,66.3 1138.8,51.4 1138.9,55.0 1139.0,63.8 1139.1,66.5 1139.3,66.1 1139.4,60.8 1139.5,48.8 1139.6,52.1 1139.7,73.0 1139.9,72.1 1140.0,72.6 1140.1,74.3 1140.2,72.6 1140.3,64.7 1140.5,60.8 1140.6,50.1 1140.7,55.1 1140.8,65.2 1140.9,53.3 1141.1,61.2 1141.2,54.5 1141.3,66.9 1141.4,53.9 1141.5,63.4 1141.7,54.4 1141.8,52.0 1141.9,65.8 1142.0,61.8 1142.1,50.4 1142.3,62.5 1142.4,60.9 1142.5,47.8 1142.6,46.1 1142.7,47.2 1142.9,48.7 1143.0,65.0 1143.1,53.0 1143.2,64.2 1143.3,50.0 1143.5,61.4 1143.6,66.5 1143.7,53.6 1143.8,60.1 1143.9,63.5 1144.1,63.1 1144.2,60.9 1144.3,51.7 1144.4,61.6 1144.5,49.4 1144.7,63.1 1144.8,63.4 1144.9,60.7 1145.0,66.3 1145.1,61.4 1145.3,50.9 1145.4,65.0 1145.5,63.2 1145.6,61.8 1145.7,50.4 1145.9,49.9 1146.0,60.5 1146.1,61.3 1146.2,60.8 1146.3,59.7 1146.5,50.5 1146.6,66.4 1146.7,52.9 1146.8,48.2 1146.9,52.1 1147.1,65.8 1147.2,60.0 1147.3,61.6 1147.4,48.8 1147.5,65.7 1147.7,49.1 1147.8,64.1 1147.9,61.5 1148.0,66.2 1148.1,50.6 1148.3,65.0 1148.4,51.8 1148.5,65.8 1148.6,50.2 1148.7,49.6 1148.9,53.5 1149.0,51.6 1149.1,53.8 1149.2,61.6 1149.3,63.1 1149.5,73.0 1149.6,73.4 1149.7,62.1 1149.8,49.1 1149.9,51.8 1150.1,49.0 1150.2,51.7 1150.3,50.5 1150.4,61.1 1150.5,53.7 1150.7,64.4 1150.8,50.7 1150.9,64.5 1151.0,48.8 1151.1,64.3 1151.3,61.5 1151.4,60.9 1151.5,52.6 1151.6,62.1 1151.7,50.0 1151.9,64.8 1152.0,47.2 1152.1,49.1 1152.2,62.7 1152.3,60.8 1152.5,50.0 1152.6,60.7 1152.7,48.0 1152.8,52.5 1152.9,51.2 1153.1,52.5 1153.2,52.5 1153.3,48.7 1153.4,52.6 1153.5,60.9 1153.7,43.5 1153.8,43.1 1153.9,42.4 1154.0,61.2 1154.1,47.5 1154.3,60.1 1154.4,60.3 1154.5,62.4 1154.6,60.0 1154.7,47.5 1154.9,47.0 1155.0,59.3 1155.1,50.7 1155.2,61.4 1155.3,65.3 1155.5,65.3 1155.6,53.3 1155.7,65.0 1155.8,49.2 1155.9,61.6 1156.1,50.6 1156.2,64.3 1156.3,52.7 1156.4,61.1 1156.5,52.9 1156.7,61.0 1156.8,45.0 1156.9,43.1 1157.0,59.2 1157.1,59.9 1157.3,48.6 1157.4,59.4 1157.5,53.2 1157.6,64.2 1157.7,58.3 1157.9,64.3 1158.0,62.3 1158.1,60.8 1158.2,51.3 1158.3,60.8 1158.5,47.1 1158.6,62.1 1158.7,52.3 1158.8,61.9 1158.9,51.2 1159.1,64.3 1159.2,59.1 1159.3,61.4 1159.4,58.1 1159.5,68.7 1159.7,67.4 1159.8,68.1 1159.9,68.0 1160.0,58.9 1160.1,61.1 1160.3,58.5 1160.4,48.3 1160.5,58.5 1160.6,42.7 1160.7,43.3 1160.9,40.9 1161.0,60.3 1161.1,50.3 1161.2,63.8 1161.3,63.0 1161.5,50.3 1161.6,63.4 1161.7,50.4 1161.8,58.2 1161.9,59.2 1162.1,50.0 1162.2,60.7 1162.3,51.7 1162.4,62.5 1162.5,59.2 1162.7,62.1 1162.8,49.2 1162.9,48.3 1163.0,63.7 1163.1,62.4 1163.3,61.8 1163.4,48.0 1163.5,49.2 1163.6,64.4 1163.7,63.1 1163.9,58.5 1164.0,51.7 1164.1,60.4 1164.2,46.3 1164.3,51.7 1164.5,51.0 1164.6,64.3 1164.7,47.4 1164.8,61.1 1164.9,58.4 1165.1,52.4 1165.2,50.3 1165.3,51.2 1165.4,46.4 1165.5,60.8 1165.7,49.0 1165.8,48.2 1165.9,49.1 1166.0,58.8 1166.1,47.4 1166.3,62.3 1166.4,46.1 1166.5,60.5 1166.6,51.5 1166.7,63.8 1166.9,52.3 1167.0,58.1 1167.1,61.9 1167.2,46.3 1167.3,45.8 1167.5,61.1 1167.6,50.4 1167.7,52.1 1167.8,47.1 1167.9,61.4 1168.1,57.7 1168.2,62.1 1168.3,45.6 1168.4,50.9 1168.5,48.0 1168.7,59.7 1168.8,61.1 1168.9,38.0 1169.0,38.1 1169.1,39.2 1169.3,47.6 1169.4,50.4 1169.5,50.8 1169.6,63.4 1169.7,50.2 1169.9,45.4 1170.0,62.7 1170.1,60.5 1170.2,60.5 1170.3,56.8 1170.5,46.6 1170.6,61.3 1170.7,47.8 1170.8,62.2 1170.9,59.8 1171.1,49.2 1171.2,46.7 1171.3,48.4 1171.4,69.3 1171.5,70.3 1171.7,68.3 1171.8,50.5 1171.9,46.2 1172.0,63.3 1172.1,44.9 1172.3,47.9 1172.4,46.2 1172.5,57.2 1172.6,58.6 1172.7,62.9 1172.9,58.4 1173.0,50.5 1173.1,59.3 1173.2,61.6 1173.3,44.7 1173.5,42.8 1173.6,42.7 1173.7,43.2 1173.8,61.9 1173.9,62.6 1174.1,60.6 1174.2,64.9 1174.3,66.3 1174.4,63.8 1174.5,65.1 1174.7,59.1 1174.8,48.3 1174.9,61.0 1175.0,57.1 1175.1,61.8 1175.3,60.9 1175.4,49.9 1175.5,36.9 1175.6,37.2 1175.7,36.9 1175.9,37.2 1176.0,48.4 1176.1,62.8 1176.2,48.5 1176.3,62.7 1176.5,58.5 1176.6,58.7 1176.7,49.9 1176.8,61.2 1176.9,56.3 1177.1,61.2 1177.2,47.6 1177.3,45.0 1177.4,38.9 1177.5,39.1 1177.7,40.8 1177.8,40.8 1177.9,39.1 1178.0,61.8 1178.1,61.4 1178.3,39.6 1178.4,38.7 1178.5,38.5 1178.6,39.9 1178.7,37.8 1178.9,47.8 1179.0,47.2 1179.1,61.0 1179.2,57.0 1179.3,50.6 1179.5,56.1 1179.6,43.8 1179.7,56.8 1179.8,43.9 1179.9,55.5 1180.1,46.0 1180.2,59.0 1180.3,47.2 1180.4,55.3 1180.5,46.6 1180.7,59.5 1180.8,44.7 1180.9,61.0 1181.0,44.9 1181.1,55.6 1181.3,44.4 1181.4,58.8 1181.5,61.2 1181.6,61.4 1181.7,49.8 1181.9,65.9 1182.0,63.8 1182.1,46.2 1182.2,43.8 1182.3,55.2 1182.5,46.1 1182.6,58.4 1182.7,49.3 1182.8,59.7 1182.9,45.1 1183.1,55.6 1183.2,49.5 1183.3,46.8 1183.4,63.3 1183.5,63.8 1183.7,63.0 1183.8,64.7 1183.9,43.4 1184.0,58.0 1184.1,55.6 1184.3,58.8 1184.4,49.3 1184.5,43.9 1184.6,46.4 1184.7,59.7 1184.9,60.5 1185.0,60.0 1185.1,65.3 1185.2,66.2 1185.3,47.1 1185.5,49.6 1185.6,48.0 1185.7,45.2 1185.8,56.6 1185.9,61.2 1186.1,47.5 1186.2,59.2 1186.3,48.8 1186.4,57.4 1186.5,44.0 1186.7,60.6 1186.8,54.7 1186.9,59.8 1187.0,42.8 1187.1,54.3 1187.3,59.8 1187.4,54.4 1187.5,58.8 1187.6,60.9 1187.7,48.7 1187.9,44.1 1188.0,48.5 1188.1,58.0 1188.2,56.3 1188.3,57.8 1188.5,43.9 1188.6,47.8 1188.7,47.1 1188.8,54.6 1188.9,46.3 1189.1,54.3 1189.2,48.9 1189.3,58.8 1189.4,44.1 1189.5,48.8 1189.7,44.4 1189.8,58.3 1189.9,46.5 1190.0,55.6 1190.1,47.3 1190.3,57.7 1190.4,47.9 1190.5,45.0 1190.6,45.9 1190.7,45.2 1190.9,43.4 1191.0,54.9 1191.1,46.5 1191.2,56.6 1191.3,46.3 1191.5,58.0 1191.6,47.6 1191.7,59.6 1191.8,35.9 1191.9,34.7 1192.1,35.9 1192.2,55.5 1192.3,46.0 1192.4,54.4 1192.5,44.6 1192.7,58.6 1192.8,46.6 1192.9,42.8 1193.0,58.1 1193.1,43.8 1193.3,42.0 1193.4,57.0 1193.5,42.6 1193.6,41.5 1193.7,42.1 1193.9,56.7 1194.0,46.0 1194.1,56.9 1194.2,43.0 1194.3,42.9 1194.5,45.2 1194.6,57.8 1194.7,45.6 1194.8,53.4 1194.9,59.2 1195.1,58.9 1195.2,44.8 1195.3,56.2 1195.4,52.5 1195.5,59.0 1195.7,45.2 1195.8,56.6 1195.9,46.7 1196.0,53.2 1196.1,43.5 1196.3,56.9 1196.4,40.7 1196.5,57.0 1196.6,56.4 1196.7,56.3 1196.9,45.5 1197.0,54.6 1197.1,43.0 1197.2,46.4 1197.3,45.2 1197.5,53.1 1197.6,47.0 1197.7,55.0 1197.8,44.6 1197.9,55.7 1198.1,44.4 1198.2,52.3 1198.3,41.1 1198.4,46.8 1198.5,46.9 1198.7,46.8 1198.8,57.1 1198.9,54.2 1199.0,40.3 1199.1,44.7 1199.3,44.0 1199.4,56.4 1199.5,40.2 1199.6,57.8 1199.7,54.0 1199.9,42.0 1200.0,51.8 1200.1,55.3 1200.2,38.4 1200.3,37.0 1200.5,37.8 1200.6,36.8 1200.7,41.2 1200.8,51.7 1200.9,42.9 1201.1,57.7 1201.2,42.0 1201.3,57.6 1201.4,57.6 1201.5,56.3 1201.7,40.7 1201.8,56.1 1201.9,42.7 1202.0,56.4 1202.1,56.4 1202.3,56.9 1202.4,46.1 1202.5,51.1 1202.6,42.9 1202.7,55.7 1202.9,43.1 1203.0,53.4 1203.1,45.9 1203.2,54.9 1203.3,39.3 1203.5,54.9 1203.6,44.2 1203.7,41.5 1203.8,43.3 1203.9,53.0 1204.1,45.4 1204.2,55.4 1204.3,50.4 1204.4,39.9 1204.5,45.7 1204.7,55.8 1204.8,43.2 1204.9,52.7 1205.0,36.6 1205.1,34.6 1205.3,36.3 1205.4,34.4 1205.5,34.4 1205.6,44.5 1205.7,52.0 1205.9,38.6 1206.0,40.6 1206.1,56.4 1206.2,42.7 1206.3,40.0 1206.5,40.4 1206.6,40.1 1206.7,41.9 1206.8,51.9 1206.9,42.7 1207.1,50.8 1207.2,44.6 1207.3,42.5 1207.4,55.7 1207.5,42.8 1207.7,41.1 1207.8,39.3 1207.9,44.3 1208.0,52.2 1208.1,42.4 1208.3,40.0 1208.4,38.6 1208.5,49.6 1208.6,53.3 1208.7,49.5 1208.9,51.6 1209.0,42.0 1209.1,42.8 1209.2,52.3 1209.3,42.2 1209.5,52.8 1209.6,51.1 1209.7,52.0 1209.8,43.1 1209.9,52.2 1210.1,39.7 1210.2,35.1 1210.3,36.2 1210.4,50.2 1210.5,54.7 1210.7,51.1 1210.8,44.0 1210.9,54.6 1211.0,40.5 1211.1,50.9 1211.3,41.7 1211.4,55.0 1211.5,53.9 1211.6,42.4 1211.7,50.6 1211.9,40.3 1212.0,43.4 1212.1,50.5 1212.2,38.6 1212.3,53.9 1212.5,44.0 1212.6,51.9 1212.7,41.3 1212.8,53.9 1212.9,41.1 1213.1,62.4 1213.2,63.1 1213.3,63.0 1213.4,63.1 1213.5,62.5 1213.7,39.6 1213.8,49.8 1213.9,54.7 1214.0,51.1 1214.1,39.1 1214.3,53.7 1214.4,40.6 1214.5,52.2 1214.6,43.0 1214.7,52.2 1214.9,40.1 1215.0,54.6 1215.1,41.3 1215.2,49.4 1215.3,40.9 1215.5,53.8 1215.6,43.6 1215.7,48.6 1215.8,36.7 1215.9,52.1 1216.1,60.5 1216.2,58.5 1216.3,42.2 1216.4,52.9 1216.5,29.6 1216.7,30.4 1216.8,31.8 1216.9,29.2 1217.0,40.7 1217.1,52.9 1217.3,42.2 1217.4,52.3 1217.5,50.1 1217.6,42.6 1217.7,41.2 1217.9,48.5 1218.0,52.2 1218.1,51.8 1218.2,53.9 1218.3,58.0 1218.5,56.2 1218.6,56.0 1218.7,56.4 1218.8,55.8 1218.9,37.6 1219.1,42.6 1219.2,56.2 1219.3,58.5 1219.4,58.2 1219.5,51.4 1219.7,38.4 1219.8,49.6 1219.9,36.3 1220.0,41.6 1220.1,37.3 1220.3,52.5 1220.4,39.7 1220.5,50.3 1220.6,48.3 1220.7,53.2 1220.9,49.3 1221.0,53.7 1221.1,36.8 1221.2,41.5 1221.3,32.5 1221.5,31.7 1221.6,32.8 1221.7,32.2 1221.8,37.2 1221.9,27.6 1222.1,29.8 1222.2,27.6 1222.3,36.1 1222.4,41.5 1222.5,36.3 1222.7,53.5 1222.8,38.8 1222.9,48.3 1223.0,54.2 1223.1,52.7 1223.3,50.1 1223.4,49.7 1223.5,33.5 1223.6,32.4 1223.7,33.5 1223.9,33.0 1224.0,37.9 1224.1,53.2 1224.2,42.1 1224.3,49.2 1224.5,42.0 1224.6,40.0 1224.7,41.8 1224.8,36.4 1224.9,37.2 1225.1,51.4 1225.2,41.4 1225.3,48.8 1225.4,38.6 1225.5,53.7 1225.7,36.2 1225.8,53.8 1225.9,49.6 1226.0,37.8 1226.1,51.0 1226.3,51.2 1226.4,52.1 1226.5,49.4 1226.6,62.1 1226.7,60.1 1226.9,59.9 1227.0,61.9 1227.1,60.6 1227.2,47.6 1227.3,38.3 1227.5,54.2 1227.6,38.8 1227.7,29.0 1227.8,29.0 1227.9,29.0 1228.1,38.4 1228.2,39.5 1228.3,52.7 1228.4,52.0 1228.5,38.9 1228.7,49.7 1228.8,37.2 1228.9,53.7" fill="none" stroke="#538262" stroke-width="1.4" stroke-linejoin="round"/>
<polyline points="817.5,310.0 817.6,295.9 817.7,294.3 817.9,298.7 818.0,311.5 818.1,296.5 818.2,308.8 818.3,294.0 818.5,290.1 818.6,290.1 818.7,305.5 818.8,294.3 818.9,311.2 819.1,294.0 819.2,310.2 819.3,315.8 819.4,315.8 819.5,292.6 819.7,306.7 819.8,295.1 819.9,308.5 820.0,292.6 820.1,306.8 820.3,286.3 820.4,286.3 820.5,286.3 820.6,286.3 820.7,299.0 820.9,305.9 821.0,294.5 821.1,298.9 821.2,295.4 821.3,311.3 821.5,293.3 821.6,297.8 821.7,299.5 821.8,304.6 821.9,294.0 822.1,293.9 822.2,305.3 822.3,308.9 822.4,298.2 822.5,306.6 822.7,289.7 822.8,289.7 822.9,289.7 823.0,289.7 823.1,310.7 823.3,307.7 823.4,293.1 823.5,296.9 823.6,304.6 823.7,307.3 823.9,296.1 824.0,308.7 824.1,299.2 824.2,304.7 824.3,298.7 824.5,284.5 824.6,284.5 824.7,308.9 824.8,297.1 824.9,310.6 825.1,310.6 825.2,310.7 825.3,310.4 825.4,311.5 825.5,295.7 825.7,307.2 825.8,296.6 825.9,305.1 826.0,315.6 826.1,315.6 826.3,315.6 826.4,315.6 826.5,293.3 826.6,310.3 826.7,297.0 826.9,304.7 827.0,296.5 827.1,311.4 827.2,298.8 827.3,308.2 827.5,305.6 827.6,310.2 827.7,293.6 827.8,305.2 827.9,295.1 828.1,311.4 828.2,306.6 828.3,307.9 828.4,296.5 828.5,307.1 828.7,296.1 828.8,305.8 828.9,308.0 829.0,307.5 829.1,292.9 829.3,307.1 829.4,310.9 829.5,318.1 829.6,318.1 829.7,292.9 829.9,293.4 830.0,307.7 830.1,294.8 830.2,305.6 830.3,311.2 830.5,293.6 830.6,307.8 830.7,293.9 830.8,295.1 830.9,304.8 831.1,297.4 831.2,299.2 831.3,309.0 831.4,310.5 831.5,305.4 831.7,305.2 831.8,304.8 831.9,308.0 832.0,292.7 832.1,292.9 832.3,294.9 832.4,306.7 832.5,293.4 832.6,304.5 832.7,296.1 832.9,308.5 833.0,292.6 833.1,306.8 833.2,311.4 833.3,307.1 833.5,292.8 833.6,308.6 833.7,297.3 833.8,308.3 833.9,295.2 834.1,307.2 834.2,298.7 834.3,304.5 834.4,295.9 834.5,314.2 834.7,314.2 834.8,314.2 834.9,314.2 835.0,314.2 835.1,296.5 835.3,310.6 835.4,307.6 835.5,310.4 835.6,293.5 835.7,294.4 835.9,306.5 836.0,307.6 836.1,299.9 836.2,299.2 836.3,262.0 836.5,262.0 836.6,262.0 836.7,262.0 836.8,262.0 836.9,262.0 837.1,262.0 837.2,262.0 837.3,303.3 837.4,303.0 837.5,306.3 837.7,302.8 837.8,307.2 837.9,304.1 838.0,303.3 838.1,306.1 838.3,301.8 838.4,303.7 838.5,302.7 838.6,305.1 838.7,302.3 838.9,301.4 839.0,301.1 839.1,303.8 839.2,299.0 839.3,302.7 839.5,296.8 839.6,300.7 839.7,295.8 839.8,300.2 839.9,299.8 840.1,299.0 840.2,295.3 840.3,292.7 840.4,297.1 840.5,297.3 840.7,291.0 840.8,294.1 840.9,291.2 841.0,293.8 841.1,288.7 841.3,291.8 841.4,287.9 841.5,290.6 841.6,290.3 841.7,289.4 841.9,286.2 842.0,283.8 842.1,283.6 842.2,287.9 842.3,283.2 842.5,281.4 842.6,280.8 842.7,284.8 842.8,280.1 842.9,279.1 843.1,277.9 843.2,281.6 843.3,276.4 843.4,278.4 843.5,274.0 843.7,275.0 843.8,275.6 843.9,273.4 844.0,268.9 844.1,266.5 844.3,265.9 844.4,264.2 844.5,264.9 844.6,270.1 844.7,269.3 844.9,268.6 845.0,261.3 845.1,265.4 845.2,263.8 845.3,264.4 845.5,259.9 845.6,261.9 845.7,258.5 845.8,259.0 845.9,257.5 846.1,257.2 846.2,257.9 846.3,260.4 846.4,256.6 846.5,256.2 846.7,256.1 846.8,261.5 846.9,257.9 847.0,262.0 847.1,257.9 847.3,261.7 847.4,256.0 847.5,256.4 847.6,258.2 847.7,263.2 847.9,261.0 848.0,260.9 848.1,259.6 848.2,260.2 848.3,260.9 848.5,261.6 848.6,262.2 848.7,269.7 848.8,264.4 848.9,270.8 849.1,267.3 849.2,267.2 849.3,267.2 849.4,273.4 849.5,268.2 849.7,274.4 849.8,270.8 849.9,274.3 850.0,274.7 850.1,277.0 850.3,276.1 850.4,277.1 850.5,272.5 850.6,274.8 850.7,274.7 850.9,279.9 851.0,275.2 851.1,276.1 851.2,275.6 851.3,277.2 851.5,276.2 851.6,282.3 851.7,276.7 851.8,282.1 851.9,279.8 852.1,284.5 852.2,279.5 852.3,286.2 852.4,279.4 852.5,287.3 852.7,283.0 852.8,281.4 852.9,281.8 853.0,288.8 853.1,284.5 853.3,289.1 853.4,284.9 853.5,289.4 853.6,285.5 853.7,290.9 853.9,287.9 854.0,287.1 854.1,288.7 854.2,287.7 854.3,291.0 854.5,297.0 854.6,290.0 854.7,296.2 854.8,292.2 854.9,291.3 855.1,291.7 855.2,298.8 855.3,293.9 855.4,291.6 855.5,292.3 855.7,303.1 855.8,297.4 855.9,302.4 856.0,303.0 856.1,306.2 856.3,300.1 856.4,307.7 856.5,308.5 856.6,308.8 856.7,304.1 856.9,311.3 857.0,304.7 857.1,303.5 857.2,307.7 857.3,313.6 857.5,306.1 857.6,315.4 857.7,308.4 857.8,317.6 857.9,311.4 858.1,317.1 858.2,312.9 858.3,319.9 858.4,313.2 858.5,321.3 858.7,319.4 858.8,317.2 858.9,317.8 859.0,327.0 859.1,327.7 859.3,328.4 859.4,329.1 859.5,318.6 859.6,325.1 859.7,327.6 859.9,326.4 860.0,320.4 860.1,328.1 860.2,322.0 860.3,329.2 860.5,328.6 860.6,326.0 860.7,332.8 860.8,326.4 860.9,325.7 861.1,328.2 861.2,333.7 861.3,328.0 861.4,336.1 861.5,327.7 861.7,335.8 861.8,336.2 861.9,336.5 862.0,331.0 862.1,339.6 862.3,338.7 862.4,339.1 862.5,336.0 862.6,340.2 862.7,334.9 862.9,344.4 863.0,337.6 863.1,345.9 863.2,338.9 863.3,346.8 863.5,348.7 863.6,347.9 863.7,349.0 863.8,341.1 863.9,341.9 864.1,344.2 864.2,340.5 864.3,341.3 864.4,342.1 864.5,342.9 864.7,343.7 864.8,355.2 864.9,348.3 865.0,352.1 865.1,351.1 865.3,357.4 865.4,353.6 865.5,362.7 865.6,355.1 865.7,360.4 865.9,355.1 866.0,364.8 866.1,358.9 866.2,357.1 866.3,359.9 866.5,352.5 866.6,353.0 866.7,353.6 866.8,358.6 866.9,369.0 867.1,360.3 867.2,368.8 867.3,357.4 867.4,357.9 867.5,364.5 867.7,362.6 867.8,364.9 867.9,367.3 868.0,373.3 868.1,374.5 868.3,368.8 868.4,365.1 868.5,374.2 868.6,368.4 868.7,367.6 868.9,376.7 869.0,369.7 869.1,379.4 869.2,372.1 869.3,369.9 869.5,373.5 869.6,380.3 869.7,371.2 869.8,373.0 869.9,373.3 870.1,381.2 870.2,383.1 870.3,375.7 870.4,375.0 870.5,375.0 870.7,375.9 870.8,382.1 870.9,376.0 871.0,383.3 871.1,376.1 871.3,384.5 871.4,375.6 871.5,387.1 871.6,377.6 871.7,388.1 871.9,386.7 872.0,386.3 872.1,378.7 872.2,389.4 872.3,379.3 872.5,378.3 872.6,380.8 872.7,379.4 872.8,380.2 872.9,390.3 873.1,381.1 873.2,383.0 873.3,383.8 873.4,383.6 873.5,383.8 873.7,390.4 873.8,382.4 873.9,392.0 874.0,379.4 874.1,398.0 874.3,398.3 874.4,398.5 874.5,398.8 874.6,399.0 874.7,381.0 874.9,392.0 875.0,382.7 875.1,394.2 875.2,380.6 875.3,392.7 875.5,383.8 875.6,381.4 875.7,397.4 875.8,396.3 875.9,382.3 876.1,392.4 876.2,384.4 876.3,394.8 876.4,384.8 876.5,397.7 876.7,396.6 876.8,400.2 876.9,384.7 877.0,395.6 877.1,384.8 877.3,386.1 877.4,385.6 877.5,398.6 877.6,389.2 877.7,402.3 877.9,386.4 878.0,390.7 878.1,381.4 878.2,381.5 878.3,381.7 878.5,402.1 878.6,401.6 878.7,405.4 878.8,388.1 878.9,394.1 879.1,399.9 879.2,394.0 879.3,393.6 879.4,401.3 879.5,401.3 879.7,402.0 879.8,392.0 879.9,405.4 880.0,404.4 880.1,400.8 880.3,389.8 880.4,404.2 880.5,394.7 880.6,388.0 880.7,401.0 880.9,411.8 881.0,411.8 881.1,411.7 881.2,411.7 881.3,411.6 881.5,386.9 881.6,405.8 881.7,387.1 881.8,400.8 881.9,390.6 882.1,403.0 882.2,393.4 882.3,392.8 882.4,402.6 882.5,399.8 882.7,402.6 882.8,403.2 882.9,399.4 883.0,405.3 883.1,391.3 883.3,403.2 883.4,389.5 883.5,406.6 883.6,393.6 883.7,393.6 883.9,390.3 884.0,407.5 884.1,394.0 884.2,404.7 884.3,401.7 884.5,396.7 884.6,409.7 884.7,391.7 884.8,392.7 884.9,404.1 885.1,393.4 885.2,410.0 885.3,407.4 885.4,411.3 885.5,392.2 885.7,407.4 885.8,406.0 885.9,408.1 886.0,395.4 886.1,413.2 886.3,384.9 886.4,385.0 886.5,385.0 886.6,384.9 886.7,384.9 886.9,407.7 887.0,410.5 887.1,406.6 887.2,394.0 887.3,410.5 887.5,393.6 887.6,394.0 887.7,394.0 887.8,396.5 887.9,411.2 888.1,409.6 888.2,404.0 888.3,404.2 888.4,395.8 888.5,407.0 888.7,392.2 888.8,393.7 888.9,389.6 889.0,394.1 889.1,408.0 889.3,407.6 889.4,393.6 889.5,388.8 889.6,389.2 889.7,401.8 889.9,391.3 890.0,407.0 890.1,393.3 890.2,386.7 890.3,390.1 890.5,404.0 890.6,390.2 890.7,406.2 890.8,393.1 890.9,402.2 891.1,394.3 891.2,404.5 891.3,395.4 891.4,409.4 891.5,392.9 891.7,405.2 891.8,410.3 891.9,410.3 892.0,396.8 892.1,405.1 892.3,393.5 892.4,408.0 892.5,393.2 892.6,408.8 892.7,423.1 892.9,423.3 893.0,423.5 893.1,423.7 893.2,407.9 893.3,412.6 893.5,399.1 893.6,413.7 893.7,394.0 893.8,411.2 893.9,400.3 894.1,401.7 894.2,415.1 894.3,408.2 894.4,395.5 894.5,407.2 894.7,393.9 894.8,411.3 894.9,395.7 895.0,395.9 895.1,398.8 895.3,407.0 895.4,393.4 895.5,410.0 895.6,395.0 895.7,405.7 895.9,384.0 896.0,383.6 896.1,383.3 896.2,403.6 896.3,406.9 896.5,389.2 896.6,390.8 896.7,402.5 896.8,390.5 896.9,409.2 897.1,394.3 897.2,408.7 897.3,388.2 897.4,380.2 897.5,380.2 897.7,380.1 897.8,380.1 897.9,380.2 898.0,393.7 898.1,405.4 898.3,389.5 898.4,407.0 898.5,395.7 898.6,404.9 898.7,394.6 898.9,409.0 899.0,393.2 899.1,403.8 899.2,397.8 899.3,406.8 899.5,394.0 899.6,409.4 899.7,408.3 899.8,396.6 899.9,397.8 900.1,407.4 900.2,398.1 900.3,412.0 900.4,398.8 900.5,414.4 900.7,397.0 900.8,408.6 900.9,398.1 901.0,408.9 901.1,401.0 901.3,408.5 901.4,400.8 901.5,409.2 901.6,415.7 901.7,408.1 901.9,398.4 902.0,412.9 902.1,401.3 902.2,399.1 902.3,410.5 902.5,397.6 902.6,412.4 902.7,396.9 902.8,396.6 902.9,408.4 903.1,399.9 903.2,394.6 903.3,395.3 903.4,408.9 903.5,393.9 903.7,411.6 903.8,391.8 903.9,415.7 904.0,415.4 904.1,404.1 904.3,392.3 904.4,408.8 904.5,407.8 904.6,408.3 904.7,395.8 904.9,402.5 905.0,391.6 905.1,408.0 905.2,394.5 905.3,409.8 905.5,405.5 905.6,402.2 905.7,406.7 905.8,415.2 905.9,415.3 906.1,415.4 906.2,393.1 906.3,409.7 906.4,394.4 906.5,410.0 906.7,407.4 906.8,406.5 906.9,404.1 907.0,395.4 907.1,409.9 907.3,398.0 907.4,396.2 907.5,398.2 907.6,386.3 907.7,386.6 907.9,386.8 908.0,387.1 908.1,396.1 908.2,409.9 908.3,401.2 908.5,410.0 908.6,408.7 908.7,412.9 908.8,395.1 908.9,408.3 909.1,398.7 909.2,398.4 909.3,402.0 909.4,415.8 909.5,408.7 909.7,408.6 909.8,408.0 909.9,410.4 910.0,396.3 910.1,411.3 910.3,397.9 910.4,408.5 910.5,394.0 910.6,408.0 910.7,396.6 910.9,394.4 911.0,399.2 911.1,405.5 911.2,394.7 911.3,395.9 911.5,404.8 911.6,410.8 911.7,419.3 911.8,419.1 911.9,418.8 912.1,394.9 912.2,388.9 912.3,404.7 912.4,391.5 912.5,406.6 912.7,388.7 912.8,388.5 912.9,393.2 913.0,406.8 913.1,395.2 913.3,406.9 913.4,394.3 913.5,396.2 913.6,390.2 913.7,410.0 913.9,391.2 914.0,408.7 914.1,410.2 914.2,394.7 914.3,410.3 914.5,394.1 914.6,394.3 914.7,404.8 914.8,397.2 914.9,408.5 915.1,410.0 915.2,407.8 915.3,393.0 915.4,413.5 915.5,400.3 915.7,407.9 915.8,401.4 915.9,409.0 916.0,396.0 916.1,409.6 916.3,397.7 916.4,412.4 916.5,394.9 916.6,411.4 916.7,401.0 916.9,398.5 917.0,399.6 917.1,408.8 917.2,395.4 917.3,410.4 917.5,402.1 917.6,414.1 917.7,395.1 917.8,410.0 917.9,395.0 918.1,410.4 918.2,395.9 918.3,409.5 918.4,399.1 918.5,412.5 918.7,398.9 918.8,398.4 918.9,394.7 919.0,404.8 919.1,391.0 919.3,390.4 919.4,394.6 919.5,396.1 919.6,392.3 919.7,393.4 919.9,388.4 920.0,404.4 920.1,391.1 920.2,408.7 920.3,408.2 920.5,402.2 920.6,404.5 920.7,405.2 920.8,389.9 920.9,389.2 921.1,389.0 921.2,406.1 921.3,408.0 921.4,408.6 921.5,395.9 921.7,410.0 921.8,394.7 921.9,403.0 922.0,386.6 922.1,387.0 922.3,387.4 922.4,387.9 922.5,393.7 922.6,408.0 922.7,407.5 922.9,412.1 923.0,400.7 923.1,414.1 923.2,395.5 923.3,410.1 923.5,411.5 923.6,413.5 923.7,395.8 923.8,395.3 923.9,399.1 924.1,399.9 924.2,402.7 924.3,395.5 924.4,401.1 924.5,410.0 924.7,396.3 924.8,414.0 924.9,399.1 925.0,412.8 925.1,414.9 925.3,411.1 925.4,401.7 925.5,414.7 925.6,414.2 925.7,413.3 925.9,399.3 926.0,398.2 926.1,399.6 926.2,408.8 926.3,391.6 926.5,417.7 926.6,417.2 926.7,416.8 926.8,416.4 926.9,403.6 927.1,390.6 927.2,391.6 927.3,392.9 927.4,404.1 927.5,389.2 927.7,387.9 927.8,401.4 927.9,406.0 928.0,390.3 928.1,393.1 928.3,393.4 928.4,401.6 928.5,387.7 928.6,405.6 928.7,413.2 928.9,413.4 929.0,406.2 929.1,402.4 929.2,404.5 929.3,394.1 929.5,393.1 929.6,403.1 929.7,392.8 929.8,404.2 929.9,407.8 930.1,406.5 930.2,396.7 930.3,401.6 930.4,401.1 930.5,389.5 930.7,390.3 930.8,391.0 930.9,391.6 931.0,392.2 931.1,412.3 931.3,416.3 931.4,400.9 931.5,407.2 931.6,416.0 931.7,413.8 931.9,418.5 932.0,408.2 932.1,406.0 932.2,407.4 932.3,403.1 932.5,407.0 932.6,415.0 932.7,417.4 932.8,406.7 932.9,415.4 933.1,421.6 933.2,420.9 933.3,420.0 933.4,403.1 933.5,409.2 933.7,408.7 933.8,395.0 933.9,404.2 934.0,396.0 934.1,402.3 934.3,390.5 934.4,405.0 934.5,401.3 934.6,396.6 934.7,388.5 934.9,398.6 935.0,384.2 935.1,400.3 935.2,394.0 935.3,398.2 935.5,383.1 935.6,396.4 935.7,395.6 935.8,383.2 935.9,385.4 936.1,392.6 936.2,394.0 936.3,392.8 936.4,383.7 936.5,395.4 936.7,384.1 936.8,387.1 936.9,387.3 937.0,400.2 937.1,388.3 937.3,404.1 937.4,395.6 937.5,406.5 937.6,409.6 937.7,390.2 937.9,391.3 938.0,399.3 938.1,401.6 938.2,409.8 938.3,404.6 938.5,415.1 938.6,405.6 938.7,416.6 938.8,403.5 938.9,418.8 939.1,403.9 939.2,419.3 939.3,408.3 939.4,414.4 939.5,405.1 939.7,415.8 939.8,404.7 939.9,405.6 940.0,403.8 940.1,399.2 940.3,398.8 940.4,398.4 940.5,407.6 940.6,403.2 940.7,403.2 940.9,412.0 941.0,404.2 941.1,411.5 941.2,417.7 941.3,416.4 941.5,414.4 941.6,413.0 941.7,392.0 941.8,400.6 941.9,392.6 942.1,401.8 942.2,388.2 942.3,400.9 942.4,387.4 942.5,390.9 942.7,385.9 942.8,385.4 942.9,384.8 943.0,394.8 943.1,388.5 943.3,397.1 943.4,387.7 943.5,395.0 943.6,384.7 943.7,394.2 943.9,388.6 944.0,395.8 944.1,386.8 944.2,400.1 944.3,391.4 944.5,398.1 944.6,401.5 944.7,393.8 944.8,392.8 944.9,402.9 945.1,406.2 945.2,404.8 945.3,413.7 945.4,415.7 945.5,406.0 945.7,411.6 945.8,413.7 945.9,410.2 946.0,409.6 946.1,419.2 946.3,411.1 946.4,421.3 946.5,421.7 946.6,412.0 946.7,424.2 946.9,420.1 947.0,416.4 947.1,420.5 947.2,406.1 947.3,405.9 947.5,405.6 947.6,420.7 947.7,420.9 947.8,412.2 947.9,410.6 948.1,416.4 948.2,417.8 948.3,415.6 948.4,406.3 948.5,413.4 948.7,406.2 948.8,410.4 948.9,399.7 949.0,407.8 949.1,395.0 949.3,400.6 949.4,397.6 949.5,396.8 949.6,399.5 949.7,396.2 949.9,397.0 950.0,391.7 950.1,385.9 950.2,394.1 950.3,385.1 950.5,390.8 950.6,391.3 950.7,390.4 950.8,380.5 950.9,383.7 951.1,381.1 951.2,390.6 951.3,380.5 951.4,391.1 951.5,390.9 951.7,392.4 951.8,386.5 951.9,384.2 952.0,395.8 952.1,395.6 952.3,388.4 952.4,398.6 952.5,408.3 952.6,410.1 952.7,412.2 952.9,415.6 953.0,403.7 953.1,403.5 953.2,404.3 953.3,419.3 953.5,409.9 953.6,422.0 953.7,410.7 953.8,422.3 953.9,417.9 954.1,415.4 954.2,415.3 954.3,427.3 954.4,419.6 954.5,419.5 954.7,421.6 954.8,429.1 954.9,430.1 955.0,425.4 955.1,417.5 955.3,417.6 955.4,415.7 955.5,413.0 955.6,424.7 955.7,412.3 955.9,414.0 956.0,417.8 956.1,416.0 956.2,416.1 956.3,406.0 956.5,409.1 956.6,400.8 956.7,404.8 956.8,398.7 956.9,398.5 957.1,389.1 957.2,384.5 957.3,387.2 957.4,393.3 957.5,382.3 957.7,388.6 957.8,386.0 957.9,387.0 958.0,375.6 958.1,387.5 958.3,378.9 958.4,383.6 958.5,376.5 958.6,393.8 958.7,394.0 958.9,388.6 959.0,376.1 959.1,385.6 959.2,380.0 959.3,388.1 959.5,381.4 959.6,390.8 959.7,393.3 959.8,397.4 959.9,395.9 960.1,401.1 960.2,392.0 960.3,396.4 960.4,397.8 960.5,411.1 960.7,411.9 960.8,416.2 960.9,417.5 961.0,418.3 961.1,409.6 961.3,422.3 961.4,412.7 961.5,424.1 961.6,415.1 961.7,424.3 961.9,417.2 962.0,432.2 962.1,432.5 962.2,432.7 962.3,432.7 962.5,432.6 962.6,416.7 962.7,423.5 962.8,418.6 962.9,416.2 963.1,422.1 963.2,424.2 963.3,422.6 963.4,409.2 963.5,409.8 963.7,417.6 963.8,405.0 963.9,405.4 964.0,404.5 964.1,411.1 964.3,407.4 964.4,400.4 964.5,393.5 964.6,400.4 964.7,387.4 964.9,396.9 965.0,385.3 965.1,391.2 965.2,384.4 965.3,379.6 965.5,380.6 965.6,389.0 965.7,379.0 965.8,372.1 965.9,371.8 966.1,371.7 966.2,389.7 966.3,380.6 966.4,378.0 966.5,380.0 966.7,388.2 966.8,392.1 966.9,392.0 967.0,381.7 967.1,392.0 967.3,395.6 967.4,387.9 967.5,398.9 967.6,388.7 967.7,399.2 967.9,393.2 968.0,405.5 968.1,406.9 968.2,412.4 968.3,414.7 968.5,413.3 968.6,406.4 968.7,418.2 968.8,409.6 968.9,421.8 969.1,421.9 969.2,412.5 969.3,411.0 969.4,420.4 969.5,429.3 969.7,429.6 969.8,414.2 969.9,413.7 970.0,415.1 970.1,421.8 970.3,430.0 970.4,429.5 970.5,428.9 970.6,428.2 970.7,427.4 970.9,420.9 971.0,411.5 971.1,419.1 971.2,413.8 971.3,412.2 971.5,412.6 971.6,411.0 971.7,417.4 971.8,414.5 971.9,412.1 972.1,410.2 972.2,408.5 972.3,401.4 972.4,399.1 972.5,395.4 972.7,386.6 972.8,384.1 972.9,385.3 973.0,392.9 973.1,383.5 973.3,381.2 973.4,382.7 973.5,383.8 973.6,381.8 973.7,381.8 973.9,381.3 974.0,389.6 974.1,383.2 974.2,393.1 974.3,382.0 974.5,386.6 974.6,385.1 974.7,396.3 974.8,403.3 974.9,404.5 975.1,405.9 975.2,400.3 975.3,393.5 975.4,404.3 975.5,396.3 975.7,406.3 975.8,409.9 975.9,409.9 976.0,402.6 976.1,408.7 976.3,409.2 976.4,415.5 976.5,416.6 976.6,419.7 976.7,412.9 976.9,411.1 977.0,410.3 977.1,423.7 977.2,421.3 977.3,421.3 977.5,420.9 977.6,423.8 977.7,415.9 977.8,424.9 977.9,423.6 978.1,411.5 978.2,409.7 978.3,417.5 978.4,412.4 978.5,418.3 978.7,418.1 978.8,414.0 978.9,405.8 979.0,411.1 979.1,411.2 979.3,403.2 979.4,397.7 979.5,406.6 979.6,393.0 979.7,401.3 979.9,393.4 980.0,400.4 980.1,389.5 980.2,390.0 980.3,389.5 980.5,393.8 980.6,384.8 980.7,393.4 980.8,384.7 980.9,386.3 981.1,383.2 981.2,380.7 981.3,384.9 981.4,399.2 981.5,399.4 981.7,399.7 981.8,400.1 981.9,400.7 982.0,384.7 982.1,387.0 982.3,385.3 982.4,396.6 982.5,386.6 982.6,400.6 982.7,397.9 982.9,403.3 983.0,394.3 983.1,407.5 983.2,398.8 983.3,410.6 983.5,412.2 983.6,411.6 983.7,414.3 983.8,417.5 983.9,409.7 984.1,417.1 984.2,408.3 984.3,421.3 984.4,418.3 984.5,419.4 984.7,411.0 984.8,422.8 984.9,414.1 985.0,419.9 985.1,415.3 985.3,424.0 985.4,410.4 985.5,418.7 985.6,412.7 985.7,419.2 985.9,419.3 986.0,419.1 986.1,418.0 986.2,408.0 986.3,416.2 986.5,415.1 986.6,402.8 986.7,404.7 986.8,403.6 986.9,410.8 987.1,397.6 987.2,402.4 987.3,393.0 987.4,392.5 987.5,390.5 987.7,397.9 987.8,400.2 987.9,395.5 988.0,397.9 988.1,394.5 988.3,384.3 988.4,396.1 988.5,395.5 988.6,394.7 988.7,383.2 988.9,383.1 989.0,383.5 989.1,391.4 989.2,385.7 989.3,383.4 989.5,388.4 989.6,393.5 989.7,385.4 989.8,398.6 989.9,387.4 990.1,399.5 990.2,390.6 990.3,399.6 990.4,394.1 990.5,402.3 990.7,396.8 990.8,407.8 990.9,409.5 991.0,413.7 991.1,401.9 991.3,414.1 991.4,408.0 991.5,414.6 991.6,414.8 991.7,416.0 991.9,410.3 992.0,417.2 992.1,412.4 992.2,422.6 992.3,411.8 992.5,418.8 992.6,410.2 992.7,412.3 992.8,409.8 992.9,421.5 993.1,421.3 993.2,421.8 993.3,413.1 993.4,419.3 993.5,408.1 993.7,411.5 993.8,417.9 993.9,416.1 994.0,413.4 994.1,412.3 994.3,401.3 994.4,413.4 994.5,398.8 994.6,400.9 994.7,395.9 994.9,395.3 995.0,396.4 995.1,403.2 995.2,393.9 995.3,401.1 995.5,391.8 995.6,400.2 995.7,387.3 995.8,387.9 995.9,387.8 996.1,396.0 996.2,388.9 996.3,384.4 996.4,384.8 996.5,384.5 996.7,384.2 996.8,380.1 996.9,380.4 997.0,380.8 997.1,381.3 997.3,399.1 997.4,390.4 997.5,399.1 997.6,390.5 997.7,390.0 997.9,403.6 998.0,401.7 998.1,395.1 998.2,397.1 998.3,399.1 998.5,411.8 998.6,402.0 998.7,403.0 998.8,407.6 998.9,417.9 999.1,406.9 999.2,417.0 999.3,412.0 999.4,411.4 999.5,411.8 999.7,421.0 999.8,411.6 999.9,424.6 1000.0,414.9 1000.1,421.3 1000.3,422.2 1000.4,416.1 1000.5,414.0 1000.6,423.6 1000.7,411.5 1000.9,422.7 1001.0,421.2 1001.1,412.1 1001.2,409.9 1001.3,420.3 1001.5,407.5 1001.6,416.4 1001.7,406.5 1001.8,415.8 1001.9,406.1 1002.1,410.8 1002.2,399.2 1002.3,414.4 1002.4,412.5 1002.5,410.9 1002.7,409.5 1002.8,397.5 1002.9,388.7 1003.0,395.4 1003.1,394.5 1003.3,395.0 1003.4,384.5 1003.5,393.4 1003.6,387.7 1003.7,384.6 1003.9,384.9 1004.0,386.2 1004.1,390.3 1004.2,382.9 1004.3,385.3 1004.5,392.4 1004.6,385.3 1004.7,392.3 1004.8,385.1 1004.9,386.6 1005.1,382.5 1005.2,383.5 1005.3,384.6 1005.4,399.3 1005.5,392.7 1005.7,404.7 1005.8,398.1 1005.9,400.0 1006.0,401.4 1006.1,411.2 1006.3,406.7 1006.4,407.6 1006.5,419.6 1006.6,420.9 1006.7,414.0 1006.9,426.2 1007.0,428.9 1007.1,428.6 1007.2,418.0 1007.3,423.6 1007.5,420.5 1007.6,424.4 1007.7,424.2 1007.8,434.4 1007.9,420.8 1008.1,431.0 1008.2,433.1 1008.3,430.7 1008.4,428.5 1008.5,427.2 1008.7,420.2 1008.8,426.0 1008.9,426.0 1009.0,424.8 1009.1,411.1 1009.3,420.1 1009.4,408.2 1009.5,417.4 1009.6,412.7 1009.7,408.2 1009.9,396.9 1010.0,405.2 1010.1,392.4 1010.2,396.7 1010.3,394.4 1010.5,393.3 1010.6,395.3 1010.7,393.1 1010.8,378.6 1010.9,387.0 1011.1,379.3 1011.2,376.8 1011.3,378.8 1011.4,378.6 1011.5,378.3 1011.7,376.1 1011.8,375.5 1011.9,383.8 1012.0,375.1 1012.1,386.0 1012.3,378.6 1012.4,386.1 1012.5,378.7 1012.6,381.7 1012.7,380.7 1012.9,395.4 1013.0,385.1 1013.1,398.0 1013.2,390.4 1013.3,390.8 1013.5,402.7 1013.6,411.4 1013.7,414.6 1013.8,416.7 1013.9,406.2 1014.1,405.9 1014.2,406.1 1014.3,410.7 1014.4,409.7 1014.5,420.6 1014.7,413.7 1014.8,425.0 1014.9,413.6 1015.0,417.4 1015.1,414.2 1015.3,414.0 1015.4,416.0 1015.5,422.5 1015.6,414.4 1015.7,423.8 1015.9,413.5 1016.0,422.9 1016.1,414.3 1016.2,423.2 1016.3,406.2 1016.5,405.1 1016.6,411.4 1016.7,419.5 1016.8,405.9 1016.9,413.5 1017.1,414.1 1017.2,411.6 1017.3,401.0 1017.4,406.2 1017.5,396.5 1017.7,398.9 1017.8,388.4 1017.9,399.1 1018.0,386.3 1018.1,394.3 1018.3,387.7 1018.4,390.3 1018.5,384.0 1018.6,383.4 1018.7,375.8 1018.9,375.1 1019.0,378.1 1019.1,394.8 1019.2,394.6 1019.3,394.5 1019.5,381.0 1019.6,386.6 1019.7,394.1 1019.8,394.6 1019.9,381.7 1020.1,392.8 1020.2,381.4 1020.3,394.7 1020.4,384.1 1020.5,396.2 1020.7,386.0 1020.8,397.4 1020.9,388.5 1021.0,400.2 1021.1,407.6 1021.3,410.3 1021.4,412.0 1021.5,413.4 1021.6,414.6 1021.7,408.9 1021.9,401.5 1022.0,414.5 1022.1,402.5 1022.2,413.4 1022.3,407.4 1022.5,417.0 1022.6,408.9 1022.7,415.5 1022.8,404.6 1022.9,415.7 1023.1,416.5 1023.2,415.9 1023.3,417.4 1023.4,405.3 1023.5,406.6 1023.7,404.0 1023.8,404.3 1023.9,404.6 1024.0,403.8 1024.1,411.5 1024.3,410.5 1024.4,407.0 1024.5,401.9 1024.6,405.8 1024.7,407.4 1024.9,407.7 1025.0,396.4 1025.1,394.4 1025.2,389.9 1025.3,400.9 1025.5,385.6 1025.6,389.0 1025.7,387.1 1025.8,396.2 1025.9,382.4 1026.1,396.2 1026.2,384.2 1026.3,394.1 1026.4,381.7 1026.5,390.7 1026.7,380.2 1026.8,389.8 1026.9,380.3 1027.0,391.4 1027.1,379.8 1027.3,398.9 1027.4,399.2 1027.5,399.5 1027.6,379.8 1027.7,394.7 1027.9,383.5 1028.0,392.6 1028.1,393.0 1028.2,396.1 1028.3,383.3 1028.5,399.2 1028.6,384.4 1028.7,399.6 1028.8,385.4 1028.9,389.1 1029.1,389.9 1029.2,405.3 1029.3,385.0 1029.4,385.4 1029.5,385.7 1029.7,404.2 1029.8,395.1 1029.9,406.5 1030.0,402.8 1030.1,405.5 1030.3,395.8 1030.4,393.5 1030.5,394.8 1030.6,403.2 1030.7,390.8 1030.9,391.2 1031.0,400.0 1031.1,403.0 1031.2,399.0 1031.3,401.6 1031.5,387.0 1031.6,401.6 1031.7,388.9 1031.8,400.9 1031.9,399.8 1032.1,386.8 1032.2,386.1 1032.3,383.2 1032.4,397.5 1032.5,396.7 1032.7,384.6 1032.8,397.1 1032.9,377.4 1033.0,389.9 1033.1,377.0 1033.3,379.6 1033.4,375.7 1033.5,390.7 1033.6,391.4 1033.7,390.9 1033.9,375.7 1034.0,375.6 1034.1,375.2 1034.2,389.2 1034.3,376.0 1034.5,386.4 1034.6,375.1 1034.7,388.2 1034.8,385.7 1034.9,391.4 1035.1,390.7 1035.2,388.4 1035.3,375.1 1035.4,393.6 1035.5,379.5 1035.7,401.9 1035.8,402.1 1035.9,402.3 1036.0,402.5 1036.1,402.7 1036.3,374.2 1036.4,387.5 1036.5,378.3 1036.6,390.0 1036.7,389.4 1036.9,388.5 1037.0,391.7 1037.1,391.0 1037.2,380.5 1037.3,395.0 1037.5,380.0 1037.6,380.3 1037.7,379.0 1037.8,392.5 1037.9,394.2 1038.1,378.2 1038.2,391.7 1038.3,396.1 1038.4,395.7 1038.5,393.1 1038.7,375.8 1038.8,380.8 1038.9,374.5 1039.0,374.8 1039.1,377.4 1039.3,388.7 1039.4,376.8 1039.5,375.0 1039.6,376.5 1039.7,390.4 1039.9,388.9 1040.0,390.5 1040.1,373.3 1040.2,391.4 1040.3,377.4 1040.5,391.0 1040.6,373.4 1040.7,386.5 1040.8,371.2 1040.9,385.1 1041.1,376.7 1041.2,389.1 1041.3,369.5 1041.4,398.2 1041.5,398.1 1041.7,398.0 1041.8,397.9 1041.9,397.8 1042.0,389.3 1042.1,387.6 1042.3,371.0 1042.4,373.9 1042.5,373.2 1042.6,382.3 1042.7,383.3 1042.9,383.7 1043.0,371.5 1043.1,387.1 1043.2,376.4 1043.3,384.2 1043.5,371.0 1043.6,369.9 1043.7,371.3 1043.8,386.8 1043.9,382.8 1044.1,373.4 1044.2,369.3 1044.3,376.3 1044.4,375.7 1044.5,389.8 1044.7,371.3 1044.8,390.0 1044.9,386.9 1045.0,383.6 1045.1,371.5 1045.3,390.9 1045.4,373.4 1045.5,386.6 1045.6,376.7 1045.7,385.6 1045.9,387.5 1046.0,389.5 1046.1,376.7 1046.2,386.9 1046.3,377.2 1046.5,387.3 1046.6,373.0 1046.7,386.5 1046.8,374.8 1046.9,383.3 1047.1,389.3 1047.2,389.6 1047.3,371.6 1047.4,389.3 1047.5,384.5 1047.7,384.1 1047.8,383.7 1047.9,381.1 1048.0,360.3 1048.1,360.1 1048.3,368.3 1048.4,382.0 1048.5,370.6 1048.6,367.3 1048.7,369.3 1048.9,383.9 1049.0,369.6 1049.1,371.4 1049.2,369.5 1049.3,382.9 1049.5,365.5 1049.6,381.3 1049.7,371.5 1049.8,395.3 1049.9,395.3 1050.1,395.2 1050.2,365.4 1050.3,384.6 1050.4,367.6 1050.5,379.6 1050.7,368.2 1050.8,371.6 1050.9,367.7 1051.0,385.7 1051.1,368.9 1051.3,368.4 1051.4,370.3 1051.5,385.1 1051.6,365.3 1051.7,383.2 1051.9,382.2 1052.0,379.8 1052.1,383.8 1052.2,380.1 1052.3,370.7 1052.5,381.5 1052.6,370.9 1052.7,384.4 1052.8,367.9 1052.9,365.7 1053.1,385.0 1053.2,385.3 1053.3,370.7 1053.4,383.2 1053.5,385.4 1053.7,383.2 1053.8,380.2 1053.9,384.0 1054.0,369.1 1054.1,382.9 1054.3,384.5 1054.4,381.8 1054.5,367.6 1054.6,380.9 1054.7,365.7 1054.9,384.3 1055.0,380.5 1055.1,365.1 1055.2,364.5 1055.3,363.3 1055.5,368.9 1055.6,379.8 1055.7,368.2 1055.8,368.7 1055.9,367.4 1056.1,360.2 1056.2,363.2 1056.3,380.4 1056.4,363.0 1056.5,378.8 1056.7,364.6 1056.8,378.7 1056.9,364.9 1057.0,362.5 1057.1,377.1 1057.3,362.3 1057.4,373.5 1057.5,376.7 1057.6,374.6 1057.7,372.3 1057.9,378.5 1058.0,373.0 1058.1,358.1 1058.2,376.1 1058.3,363.0 1058.5,372.0 1058.6,365.9 1058.7,377.5 1058.8,360.0 1058.9,374.6 1059.1,358.6 1059.2,374.1 1059.3,350.5 1059.4,350.5 1059.5,374.8 1059.7,377.9 1059.8,375.4 1059.9,363.7 1060.0,361.6 1060.1,378.8 1060.3,360.8 1060.4,363.4 1060.5,358.0 1060.6,372.2 1060.7,359.0 1060.9,361.5 1061.0,360.7 1061.1,373.0 1061.2,372.8 1061.3,363.4 1061.5,359.9 1061.6,376.3 1061.7,364.1 1061.8,372.1 1061.9,359.6 1062.1,377.6 1062.2,373.3 1062.3,358.3 1062.4,373.1 1062.5,369.7 1062.7,372.5 1062.8,369.1 1062.9,374.3 1063.0,344.7 1063.1,344.4 1063.3,344.1 1063.4,343.8 1063.5,343.6 1063.6,354.9 1063.7,367.1 1063.9,372.2 1064.0,369.6 1064.1,357.0 1064.2,369.4 1064.3,355.0 1064.5,369.8 1064.6,371.6 1064.7,357.8 1064.8,355.5 1064.9,350.2 1065.1,356.5 1065.2,368.1 1065.3,349.0 1065.4,364.8 1065.5,370.7 1065.7,354.7 1065.8,367.7 1065.9,368.4 1066.0,344.6 1066.1,344.6 1066.3,344.5 1066.4,344.5 1066.5,344.5 1066.6,370.4 1066.7,353.6 1066.9,366.3 1067.0,354.0 1067.1,363.2 1067.2,363.4 1067.3,368.3 1067.5,354.4 1067.6,370.7 1067.7,348.8 1067.8,368.7 1067.9,352.2 1068.1,368.9 1068.2,356.2 1068.3,348.0 1068.4,347.7 1068.5,350.9 1068.7,351.0 1068.8,349.3 1068.9,361.4 1069.0,367.3 1069.1,364.4 1069.3,361.0 1069.4,351.1 1069.5,346.7 1069.6,373.4 1069.7,373.2 1069.9,349.7 1070.0,366.9 1070.1,352.4 1070.2,367.6 1070.3,351.8 1070.5,351.7 1070.6,352.3 1070.7,344.5 1070.8,346.5 1070.9,363.1 1071.1,360.7 1071.2,357.9 1071.3,371.7 1071.4,371.5 1071.5,361.4 1071.7,361.9 1071.8,345.5 1071.9,359.1 1072.0,357.9 1072.1,343.7 1072.3,347.9 1072.4,341.3 1072.5,344.9 1072.6,359.7 1072.7,341.6 1072.9,347.9 1073.0,340.8 1073.1,362.5 1073.2,345.5 1073.3,356.0 1073.5,341.7 1073.6,348.2 1073.7,342.0 1073.8,360.8 1073.9,347.4 1074.1,354.4 1074.2,355.4 1074.3,360.6 1074.4,344.9 1074.5,363.1 1074.7,347.6 1074.8,363.0 1074.9,340.3 1075.0,357.3 1075.1,348.2 1075.3,361.8 1075.4,342.9 1075.5,360.7 1075.6,356.0 1075.7,354.8 1075.9,345.9 1076.0,361.8 1076.1,348.1 1076.2,361.1 1076.3,346.3 1076.5,356.4 1076.6,342.7 1076.7,361.3 1076.8,342.6 1076.9,358.0 1077.1,340.4 1077.2,358.9 1077.3,360.0 1077.4,343.8 1077.5,337.9 1077.7,360.5 1077.8,358.1 1077.9,352.0 1078.0,354.7 1078.1,358.0 1078.3,352.7 1078.4,340.3 1078.5,341.5 1078.6,351.5 1078.7,354.8 1078.9,352.8 1079.0,336.3 1079.1,350.0 1079.2,335.3 1079.3,339.7 1079.5,325.5 1079.6,325.3 1079.7,341.9 1079.8,348.8 1079.9,340.0 1080.1,340.3 1080.2,336.5 1080.3,336.6 1080.4,334.0 1080.5,353.2 1080.7,336.8 1080.8,349.9 1080.9,341.4 1081.0,353.0 1081.1,348.9 1081.3,356.2 1081.4,335.5 1081.5,347.7 1081.6,337.6 1081.7,360.1 1081.9,360.1 1082.0,360.1 1082.1,333.4 1082.2,340.5 1082.3,332.9 1082.5,337.7 1082.6,339.0 1082.7,333.4 1082.8,338.8 1082.9,348.8 1083.1,333.4 1083.2,355.5 1083.3,334.5 1083.4,354.1 1083.5,351.3 1083.7,354.6 1083.8,337.5 1083.9,351.2 1084.0,359.1 1084.1,359.0 1084.3,358.9 1084.4,358.8 1084.5,358.6 1084.6,346.8 1084.7,335.9 1084.9,339.0 1085.0,336.0 1085.1,350.9 1085.2,338.9 1085.3,352.2 1085.5,345.8 1085.6,345.8 1085.7,332.8 1085.8,352.6 1085.9,337.1 1086.1,350.0 1086.2,333.5 1086.3,345.2 1086.4,332.3 1086.5,346.9 1086.7,333.6 1086.8,329.1 1086.9,331.7 1087.0,349.7 1087.1,336.0 1087.3,350.6 1087.4,344.1 1087.5,358.1 1087.6,358.0 1087.7,343.7 1087.9,331.5 1088.0,329.0 1088.1,328.8 1088.2,345.7 1088.3,333.3 1088.5,346.8 1088.6,332.1 1088.7,342.8 1088.8,328.6 1088.9,348.3 1089.1,333.8 1089.2,341.6 1089.3,328.7 1089.4,348.5 1089.5,334.7 1089.7,344.9 1089.8,329.3 1089.9,344.4 1090.0,348.4 1090.1,341.7 1090.3,330.4 1090.4,343.2 1090.5,328.9 1090.6,341.4 1090.7,328.9 1090.9,345.2 1091.0,328.9 1091.1,342.0 1091.2,348.4 1091.3,346.7 1091.5,334.5 1091.6,348.4 1091.7,333.1 1091.8,343.9 1091.9,331.3 1092.1,347.1 1092.2,346.9 1092.3,340.7 1092.4,326.3 1092.5,341.2 1092.7,327.2 1092.8,340.6 1092.9,329.7 1093.0,332.2 1093.1,327.0 1093.3,329.3 1093.4,327.6 1093.5,347.3 1093.6,324.9 1093.7,339.8 1093.9,328.0 1094.0,342.8 1094.1,328.6 1094.2,338.0 1094.3,328.2 1094.5,328.8 1094.6,329.3 1094.7,338.4 1094.8,329.9 1094.9,323.2 1095.1,340.7 1095.2,343.1 1095.3,343.5 1095.4,344.1 1095.5,325.1 1095.7,343.8 1095.8,329.0 1095.9,328.5 1096.0,324.3 1096.1,339.4 1096.3,328.3 1096.4,339.3 1096.5,326.4 1096.6,343.9 1096.7,326.0 1096.9,321.9 1097.0,328.1 1097.1,343.7 1097.2,322.5 1097.3,337.6 1097.5,323.1 1097.6,343.1 1097.7,322.9 1097.8,321.9 1097.9,325.9 1098.1,325.5 1098.2,327.6 1098.3,325.4 1098.4,321.5 1098.5,341.4 1098.7,322.5 1098.8,343.5 1098.9,324.1 1099.0,340.5 1099.1,327.5 1099.3,312.0 1099.4,311.9 1099.5,311.8 1099.6,311.7 1099.7,320.1 1099.9,328.3 1100.0,342.0 1100.1,322.9 1100.2,320.9 1100.3,323.4 1100.5,339.1 1100.6,336.0 1100.7,339.1 1100.8,319.6 1100.9,335.5 1101.1,341.6 1101.2,335.3 1101.3,321.1 1101.4,318.5 1101.5,319.1 1101.7,323.6 1101.8,337.3 1101.9,339.3 1102.0,317.2 1102.1,338.6 1102.3,340.1 1102.4,336.3 1102.5,320.0 1102.6,333.8 1102.7,334.9 1102.9,322.1 1103.0,316.5 1103.1,339.9 1103.2,316.6 1103.3,334.8 1103.5,316.3 1103.6,336.8 1103.7,323.1 1103.8,320.5 1103.9,323.8 1104.1,346.2 1104.2,346.2 1104.3,346.2 1104.4,321.3 1104.5,331.4 1104.7,335.2 1104.8,336.9 1104.9,316.4 1105.0,321.6 1105.1,333.0 1105.3,316.2 1105.4,323.7 1105.5,321.3 1105.6,320.1 1105.7,339.0 1105.9,335.9 1106.0,338.3 1106.1,316.1 1106.2,337.0 1106.3,316.9 1106.5,331.9 1106.6,316.6 1106.7,337.2 1106.8,332.7 1106.9,331.6 1107.1,321.2 1107.2,315.9 1107.3,317.1 1107.4,333.7 1107.5,348.6 1107.7,348.5 1107.8,348.4 1107.9,348.3 1108.0,314.6 1108.1,318.0 1108.3,319.5 1108.4,333.2 1108.5,316.6 1108.6,316.0 1108.7,317.1 1108.9,328.4 1109.0,320.4 1109.1,330.2 1109.2,317.4 1109.3,332.8 1109.5,314.2 1109.6,329.3 1109.7,320.2 1109.8,334.7 1109.9,332.5 1110.1,330.4 1110.2,320.2 1110.3,328.6 1110.4,313.4 1110.5,331.4 1110.7,326.8 1110.8,331.0 1110.9,316.4 1111.0,333.3 1111.1,319.4 1111.3,329.9 1111.4,334.5 1111.5,332.7 1111.6,314.1 1111.7,316.3 1111.9,317.6 1112.0,326.8 1112.1,317.0 1112.2,329.1 1112.3,315.7 1112.5,312.1 1112.6,329.7 1112.7,331.6 1112.8,318.1 1112.9,329.0 1113.1,311.1 1113.2,327.2 1113.3,326.6 1113.4,326.2 1113.5,319.4 1113.7,326.8 1113.8,326.1 1113.9,326.8 1114.0,329.0 1114.1,331.6 1114.3,311.5 1114.4,330.2 1114.5,317.9 1114.6,311.2 1114.7,312.6 1114.9,332.2 1115.0,304.9 1115.1,304.8 1115.2,304.7 1115.3,331.4 1115.5,315.0 1115.6,310.8 1115.7,327.7 1115.8,316.7 1115.9,311.7 1116.1,332.5 1116.2,311.2 1116.3,331.5 1116.4,324.8 1116.5,327.5 1116.7,313.9 1116.8,301.7 1116.9,301.6 1117.0,301.5 1117.1,311.3 1117.3,312.3 1117.4,324.1 1117.5,330.5 1117.6,313.2 1117.7,324.0 1117.9,309.4 1118.0,306.7 1118.1,311.7 1118.2,328.5 1118.3,314.8 1118.5,307.5 1118.6,310.3 1118.7,309.2 1118.8,310.8 1118.9,321.3 1119.1,311.5 1119.2,313.5 1119.3,313.3 1119.4,328.6 1119.5,298.3 1119.7,298.2 1119.8,298.2 1119.9,298.2 1120.0,310.4 1120.1,321.5 1120.3,328.4 1120.4,321.1 1120.5,311.2 1120.6,306.5 1120.7,307.7 1120.9,326.1 1121.0,308.8 1121.1,329.2 1121.2,307.4 1121.3,325.5 1121.5,310.9 1121.6,321.4 1121.7,328.0 1121.8,306.8 1121.9,308.1 1122.1,328.3 1122.2,313.6 1122.3,320.9 1122.4,325.4 1122.5,328.9 1122.7,305.0 1122.8,307.5 1122.9,320.4 1123.0,324.4 1123.1,324.9 1123.3,326.3 1123.4,328.0 1123.5,326.0 1123.6,307.9 1123.7,325.5 1123.9,321.7 1124.0,307.9 1124.1,307.1 1124.2,321.5 1124.3,302.8 1124.5,309.1 1124.6,305.7 1124.7,319.8 1124.8,293.9 1124.9,293.8 1125.1,293.7 1125.2,293.7 1125.3,304.7 1125.4,322.5 1125.5,317.7 1125.7,320.8 1125.8,306.6 1125.9,323.2 1126.0,321.2 1126.1,319.2 1126.3,305.6 1126.4,320.1 1126.5,302.9 1126.6,306.1 1126.7,297.2 1126.9,297.2 1127.0,297.1 1127.1,297.1 1127.2,297.1 1127.3,320.6 1127.5,302.2 1127.6,334.6 1127.7,334.6 1127.8,317.3 1127.9,324.4 1128.1,320.8 1128.2,303.7 1128.3,304.3 1128.4,305.4 1128.5,318.1 1128.7,306.6 1128.8,319.3 1128.9,323.1 1129.0,294.4 1129.1,294.3 1129.3,294.3 1129.4,321.9 1129.5,304.3 1129.6,308.1 1129.7,316.7 1129.9,303.1 1130.0,316.8 1130.1,301.2 1130.2,307.5 1130.3,303.2 1130.5,317.2 1130.6,305.9 1130.7,305.7 1130.8,308.4 1130.9,318.6 1131.1,300.4 1131.2,319.1 1131.3,316.1 1131.4,319.0 1131.5,299.3 1131.7,318.3 1131.8,329.3 1131.9,329.2 1132.0,329.1 1132.1,329.1 1132.3,317.2 1132.4,304.4 1132.5,302.1 1132.6,320.5 1132.7,303.2 1132.9,292.8 1133.0,292.8 1133.1,292.7 1133.2,292.6 1133.3,292.6 1133.5,300.3 1133.6,312.9 1133.7,298.3 1133.8,316.8 1133.9,303.0 1134.1,313.7 1134.2,305.5 1134.3,316.9 1134.4,298.7 1134.5,300.7 1134.7,297.8 1134.8,321.5 1134.9,317.2 1135.0,314.2 1135.1,297.4 1135.3,314.4 1135.4,317.6 1135.5,304.3 1135.6,297.9 1135.7,319.5 1135.9,301.2 1136.0,298.0 1136.1,299.7 1136.2,318.1 1136.3,299.7 1136.5,297.6 1136.6,302.2 1136.7,318.6 1136.8,302.5 1136.9,318.2 1137.1,300.8 1137.2,298.7 1137.3,300.5 1137.4,316.3 1137.5,304.6 1137.7,312.1 1137.8,297.3 1137.9,315.7 1138.0,320.5 1138.1,300.9 1138.3,312.1 1138.4,298.0 1138.5,301.9 1138.6,299.0 1138.7,304.3 1138.9,319.1 1139.0,302.8 1139.1,300.9 1139.2,300.4 1139.3,315.4 1139.5,295.4 1139.6,318.3 1139.7,300.4 1139.8,284.8 1139.9,284.7 1140.1,284.7 1140.2,284.6 1140.3,318.6 1140.4,296.5 1140.5,313.5 1140.7,288.4 1140.8,288.3 1140.9,313.5 1141.0,312.3 1141.1,314.8 1141.3,311.0 1141.4,300.7 1141.5,314.5 1141.6,287.1 1141.7,287.0 1141.9,287.0 1142.0,287.0 1142.1,287.0 1142.2,318.1 1142.3,294.4 1142.5,317.4 1142.6,309.5 1142.7,300.0 1142.8,302.0 1142.9,301.9 1143.1,301.2 1143.2,302.3 1143.3,294.1 1143.4,314.5 1143.5,299.7 1143.7,311.2 1143.8,308.9 1143.9,309.1 1144.0,296.5 1144.1,298.0 1144.3,299.5 1144.4,313.0 1144.5,312.1 1144.6,315.2 1144.7,297.1 1144.9,312.4 1145.0,308.5 1145.1,313.5 1145.2,293.9 1145.3,310.6 1145.5,298.8 1145.6,315.2 1145.7,300.3 1145.8,285.2 1145.9,285.1 1146.1,285.1 1146.2,293.2 1146.3,293.7 1146.4,299.8 1146.5,294.2 1146.7,295.7 1146.8,311.4 1146.9,300.8 1147.0,295.6 1147.1,297.1 1147.3,313.9 1147.4,295.5 1147.5,308.5 1147.6,294.3 1147.7,299.5 1147.9,299.5 1148.0,313.3 1148.1,292.1 1148.2,293.9 1148.3,291.7 1148.5,326.7 1148.6,326.7 1148.7,326.6 1148.8,298.0 1148.9,309.2 1149.1,298.6 1149.2,297.5 1149.3,293.3 1149.4,310.3 1149.5,295.5 1149.7,325.5 1149.8,325.5 1149.9,325.4 1150.0,325.4 1150.1,311.5 1150.3,297.6 1150.4,307.0 1150.5,298.4 1150.6,299.9 1150.7,291.5 1150.9,315.2 1151.0,298.4 1151.1,313.8 1151.2,294.4 1151.3,313.3 1151.5,294.1 1151.6,294.9 1151.7,296.3 1151.8,309.5 1151.9,291.4 1152.1,296.8 1152.2,298.1 1152.3,315.1 1152.4,308.4 1152.5,298.5 1152.7,308.2 1152.8,313.2 1152.9,291.9 1153.0,313.9 1153.1,290.7 1153.3,314.8 1153.4,296.0 1153.5,296.9 1153.6,290.0 1153.7,313.8 1153.9,293.9 1154.0,295.8 1154.1,296.8 1154.2,314.2 1154.3,292.5 1154.5,310.6 1154.6,296.7 1154.7,306.4 1154.8,308.6 1154.9,317.9 1155.1,317.9 1155.2,307.0 1155.3,297.5 1155.4,310.1 1155.5,291.1 1155.7,313.0 1155.8,317.6 1155.9,317.5 1156.0,317.5 1156.1,317.4 1156.3,295.9 1156.4,289.2 1156.5,296.3 1156.6,304.1 1156.7,294.9 1156.9,311.2 1157.0,278.3 1157.1,278.3 1157.2,294.4 1157.3,308.6 1157.5,289.8 1157.6,313.0 1157.7,290.9 1157.8,305.1 1157.9,289.2 1158.1,311.4 1158.2,290.7 1158.3,311.4 1158.4,303.8 1158.5,290.9 1158.7,292.7 1158.8,313.0 1158.9,288.3 1159.0,292.8 1159.1,289.3 1159.3,310.4 1159.4,310.5 1159.5,293.8 1159.6,290.1 1159.7,303.7 1159.9,303.6 1160.0,305.4 1160.1,294.7 1160.2,303.3 1160.3,288.5 1160.5,310.6 1160.6,289.4 1160.7,289.0 1160.8,287.8 1160.9,304.3 1161.1,291.9 1161.2,306.3 1161.3,292.8 1161.4,309.0 1161.5,292.9 1161.7,311.4 1161.8,303.8 1161.9,304.2 1162.0,287.7 1162.1,293.6 1162.3,305.7 1162.4,306.6 1162.5,289.0 1162.6,310.8 1162.7,289.5 1162.9,293.6 1163.0,287.6 1163.1,305.0 1163.2,302.7 1163.3,302.2 1163.5,287.6 1163.6,290.5 1163.7,293.2 1163.8,276.3 1163.9,276.3 1164.1,276.2 1164.2,288.2 1164.3,305.6 1164.4,293.4 1164.5,305.1 1164.7,307.8 1164.8,289.3 1164.9,302.6 1165.0,309.7 1165.1,307.1 1165.3,289.7 1165.4,307.6 1165.5,306.7 1165.6,286.0 1165.7,292.9 1165.9,308.0 1166.0,307.2 1166.1,285.7 1166.2,307.7 1166.3,292.8 1166.5,304.8 1166.6,286.3 1166.7,294.0 1166.8,287.5 1166.9,306.0 1167.1,294.4 1167.2,286.9 1167.3,292.9 1167.4,304.1 1167.5,289.7 1167.7,304.0 1167.8,286.5 1167.9,310.1 1168.0,285.7 1168.1,280.2 1168.3,280.2 1168.4,280.1 1168.5,280.1 1168.6,280.1 1168.7,290.1 1168.9,302.4 1169.0,285.6 1169.1,287.9 1169.2,290.7 1169.3,303.3 1169.5,292.9 1169.6,304.8 1169.7,303.4 1169.8,308.8 1169.9,292.7 1170.1,302.1 1170.2,287.5 1170.3,302.7 1170.4,290.4 1170.5,309.0 1170.7,291.4 1170.8,301.4 1170.9,290.4 1171.0,303.5 1171.1,288.7 1171.3,306.7 1171.4,292.0 1171.5,291.6 1171.6,284.6 1171.7,306.2 1171.9,292.3 1172.0,305.2 1172.1,285.2 1172.2,301.9 1172.3,304.2 1172.5,307.1 1172.6,290.5 1172.7,286.3 1172.8,289.2 1172.9,305.0 1173.1,287.1 1173.2,292.3 1173.3,286.7 1173.4,306.9 1173.5,291.2 1173.7,300.0 1173.8,287.9 1173.9,304.1 1174.0,288.5 1174.1,307.6 1174.3,292.2 1174.4,305.2 1174.5,284.7 1174.6,306.7 1174.7,305.9 1174.9,301.0 1175.0,290.6 1175.1,303.0 1175.2,285.1 1175.3,291.7 1175.5,299.4 1175.6,283.9 1175.7,288.9 1175.8,286.6 1175.9,283.5 1176.1,291.4 1176.2,288.5 1176.3,306.6 1176.4,290.5 1176.5,307.1 1176.7,285.3 1176.8,288.4 1176.9,284.3 1177.0,302.5 1177.1,283.7 1177.3,282.4 1177.4,286.3 1177.5,304.7 1177.6,300.2 1177.7,299.8 1177.9,287.9 1178.0,300.9 1178.1,287.3 1178.2,299.8 1178.3,285.3 1178.5,303.2 1178.6,289.9 1178.7,298.7 1178.8,285.9 1178.9,307.3 1179.1,282.3 1179.2,307.4 1179.3,287.4 1179.4,312.2 1179.5,312.2 1179.7,297.7 1179.8,315.6 1179.9,315.6 1180.0,315.5 1180.1,286.6 1180.3,283.2 1180.4,304.6 1180.5,302.6 1180.6,298.1 1180.7,284.9 1180.9,285.1 1181.0,305.2 1181.1,302.7 1181.2,276.1 1181.3,276.0 1181.5,286.3 1181.6,288.4 1181.7,281.6 1181.8,298.2 1181.9,284.5 1182.1,287.1 1182.2,317.6 1182.3,317.5 1182.4,317.5 1182.5,317.5 1182.7,284.9 1182.8,301.7 1182.9,286.5 1183.0,285.2 1183.1,283.6 1183.3,298.6 1183.4,289.3 1183.5,289.0 1183.6,300.7 1183.7,301.9 1183.9,301.0 1184.0,283.0 1184.1,284.1 1184.2,303.1 1184.3,301.8 1184.5,306.0 1184.6,296.9 1184.7,301.1 1184.8,275.1 1184.9,275.1 1185.1,275.1 1185.2,275.0 1185.3,303.7 1185.4,300.5 1185.5,288.5 1185.7,287.8 1185.8,285.0 1185.9,286.3 1186.0,301.8 1186.1,298.6 1186.3,280.4 1186.4,299.4 1186.5,286.1 1186.6,302.1 1186.7,311.0 1186.9,311.0 1187.0,310.9 1187.1,310.9 1187.2,310.9 1187.3,286.3 1187.5,284.9 1187.6,299.1 1187.7,303.5 1187.8,301.5 1187.9,301.0 1188.1,299.1 1188.2,282.4 1188.3,286.9 1188.4,286.4 1188.5,295.8 1188.7,296.8 1188.8,298.9 1188.9,286.2 1189.0,315.4 1189.1,315.4 1189.3,315.4 1189.4,315.4 1189.5,301.7 1189.6,302.5 1189.7,304.4 1189.9,284.3 1190.0,296.1 1190.1,285.8 1190.2,273.7 1190.3,273.7 1190.5,296.8 1190.6,279.8 1190.7,303.6 1190.8,286.5 1190.9,296.5 1191.1,284.3 1191.2,286.5 1191.3,283.9 1191.4,281.7 1191.5,286.0 1191.7,285.1 1191.8,282.7 1191.9,272.1 1192.0,272.1 1192.1,272.1 1192.3,296.3 1192.4,303.3 1192.5,284.0 1192.6,302.6 1192.7,285.9 1192.9,287.9 1193.0,279.8 1193.1,303.3 1193.2,282.8 1193.3,287.1 1193.5,287.7 1193.6,301.1 1193.7,283.2 1193.8,284.9 1193.9,282.7 1194.1,287.7 1194.2,286.1 1194.3,304.0 1194.4,298.8 1194.5,283.9 1194.7,278.6 1194.8,298.8 1194.9,287.6 1195.0,300.9 1195.1,283.1 1195.3,296.9 1195.4,282.9 1195.5,297.2 1195.6,281.1 1195.7,278.4 1195.9,287.2 1196.0,307.4 1196.1,307.3 1196.2,307.3 1196.3,282.4 1196.5,296.9 1196.6,284.0 1196.7,295.5 1196.8,287.1 1196.9,300.9 1197.1,310.0 1197.2,310.0 1197.3,285.2 1197.4,294.1 1197.5,269.1 1197.7,269.1 1197.8,269.1 1197.9,294.7 1198.0,282.5 1198.1,300.5 1198.3,284.1 1198.4,296.4 1198.5,283.3 1198.6,296.5 1198.7,283.6 1198.9,299.3 1199.0,286.9 1199.1,296.5 1199.2,294.8 1199.3,295.9 1199.5,279.3 1199.6,297.4 1199.7,297.9 1199.8,296.5 1199.9,302.7 1200.1,301.9 1200.2,286.4 1200.3,295.9 1200.4,282.8 1200.5,300.7 1200.7,283.8 1200.8,295.1 1200.9,294.7 1201.0,301.5 1201.1,283.0 1201.3,296.5 1201.4,297.4 1201.5,313.2 1201.6,313.2 1201.7,313.2 1201.9,284.8 1202.0,294.3 1202.1,277.9 1202.2,297.4 1202.3,279.8 1202.5,301.5 1202.6,293.6 1202.7,295.0 1202.8,282.5 1202.9,300.3 1203.1,282.2 1203.2,295.9 1203.3,285.7 1203.4,296.9 1203.5,294.7 1203.7,302.2 1203.8,277.9 1203.9,296.7 1204.0,285.5 1204.1,282.6 1204.3,302.2 1204.4,298.9 1204.5,281.5 1204.6,296.5 1204.7,294.6 1204.9,284.8 1205.0,282.1 1205.1,276.7 1205.2,301.7 1205.3,277.8 1205.5,282.7 1205.6,298.2 1205.7,284.3 1205.8,283.6 1205.9,284.3 1206.1,282.3 1206.2,285.4 1206.3,300.7 1206.4,301.3 1206.5,283.9 1206.7,282.6 1206.8,294.4 1206.9,279.1 1207.0,276.2 1207.1,276.7 1207.3,292.7 1207.4,301.2 1207.5,296.6 1207.6,284.2 1207.7,295.1 1207.9,280.6 1208.0,295.7 1208.1,279.7 1208.2,292.8 1208.3,279.5 1208.5,295.3 1208.6,300.2 1208.7,297.8 1208.8,284.9 1208.9,301.4 1209.1,283.3 1209.2,297.3 1209.3,295.6 1209.4,279.8 1209.5,284.0 1209.7,282.8 1209.8,283.0 1209.9,265.2 1210.0,265.2 1210.1,295.5 1210.3,281.4 1210.4,295.3 1210.5,277.3 1210.6,280.6 1210.7,279.2 1210.9,297.1 1211.0,296.9 1211.1,300.1 1211.2,275.8 1211.3,291.8 1211.5,281.1 1211.6,301.0 1211.7,282.9 1211.8,296.3 1211.9,310.1 1212.1,310.1 1212.2,298.9 1212.3,297.6 1212.4,282.5 1212.5,297.5 1212.7,277.8 1212.8,292.4 1212.9,278.7 1213.0,291.5 1213.1,280.7 1213.3,294.5 1213.4,292.6 1213.5,297.6 1213.6,278.0 1213.7,297.4 1213.9,278.2 1214.0,297.9 1214.1,279.2 1214.2,275.1 1214.3,278.7 1214.5,296.2 1214.6,277.0 1214.7,282.0 1214.8,268.2 1214.9,268.1 1215.1,294.2 1215.2,293.5 1215.3,281.0 1215.4,300.4 1215.5,281.1 1215.7,292.0 1215.8,275.8 1215.9,292.4 1216.0,308.7 1216.1,308.7 1216.3,308.6 1216.4,292.4 1216.5,275.9 1216.6,299.8 1216.7,290.7 1216.9,280.2 1217.0,298.9 1217.1,293.3 1217.2,290.7 1217.3,275.6 1217.5,276.5 1217.6,283.6 1217.7,276.7 1217.8,294.5 1217.9,278.0 1218.1,291.9 1218.2,280.6 1218.3,266.6 1218.4,266.6 1218.5,294.1 1218.7,275.4 1218.8,296.1 1218.9,278.9 1219.0,290.7 1219.1,276.8 1219.3,281.1 1219.4,280.6 1219.5,281.3 1219.6,279.7 1219.7,298.6 1219.9,278.3 1220.0,297.9 1220.1,274.3 1220.2,297.0 1220.3,291.4 1220.5,281.4 1220.6,283.2 1220.7,298.1 1220.8,281.7 1220.9,297.9 1221.1,292.1 1221.2,298.5 1221.3,282.7 1221.4,297.3 1221.5,298.8 1221.7,294.4 1221.8,280.1 1221.9,295.6 1222.0,274.1 1222.1,282.0 1222.3,276.7 1222.4,293.7 1222.5,274.5 1222.6,281.7 1222.7,297.1 1222.9,294.9 1223.0,277.1 1223.1,294.4 1223.2,279.2 1223.3,291.6 1223.5,296.0 1223.6,294.0 1223.7,274.0 1223.8,291.1 1223.9,282.2 1224.1,296.0 1224.2,275.1 1224.3,295.7 1224.4,294.0 1224.5,282.0 1224.7,282.1 1224.8,293.6 1224.9,298.1 1225.0,291.0 1225.1,296.0 1225.3,275.3 1225.4,274.8 1225.5,296.0 1225.6,276.7 1225.7,295.9 1225.9,278.0 1226.0,294.4 1226.1,297.8 1226.2,297.0 1226.3,281.7 1226.5,279.3 1226.6,280.0 1226.7,289.2 1226.8,282.2 1226.9,263.5 1227.1,263.5 1227.2,263.5 1227.3,263.4 1227.4,263.4 1227.5,282.2 1227.7,295.7 1227.8,272.8 1227.9,296.5 1228.0,274.0 1228.1,289.3 1228.3,289.8 1228.4,291.6 1228.5,292.8 1228.6,280.7 1228.7,281.9 1228.9,293.8 1229.0,272.6 1229.1,292.7 1229.2,280.4 1229.3,279.9 1229.5,280.5 1229.6,281.9 1229.7,275.8 1229.8,295.4 1229.9,307.9 1230.1,307.8 1230.2,307.8 1230.3,280.9 1230.4,277.3 1230.5,296.0 1230.7,281.3 1230.8,274.1 1230.9,290.5 1231.0,289.0 1231.1,265.5 1231.3,265.5 1231.4,265.5 1231.5,265.5 1231.6,272.6 1231.7,292.6 1231.9,272.6 1232.0,290.6 1232.1,274.9 1232.2,272.4 1232.3,279.2 1232.5,272.9 1232.6,273.0 1232.7,296.9 1232.8,277.7 1232.9,288.5 1233.1,278.9 1233.2,292.0 1233.3,278.5 1233.4,294.8 1233.5,294.4 1233.7,290.2 1233.8,276.9 1233.9,296.4 1234.0,294.2 1234.1,274.2 1234.3,296.1 1234.4,276.3 1234.5,274.4 1234.6,293.4 1234.7,279.4 1234.9,288.6 1235.0,276.3 1235.1,273.5 1235.2,272.9 1235.3,295.5 1235.5,276.9 1235.6,294.5 1235.7,276.7 1235.8,273.5 1235.9,290.8 1236.1,291.9 1236.2,274.2 1236.3,296.4 1236.4,273.3 1236.5,289.0 1236.7,279.8 1236.8,289.8 1236.9,278.3 1237.0,288.9 1237.1,271.9 1237.3,265.5 1237.4,265.5 1237.5,265.5 1237.6,265.5 1237.7,294.8 1237.9,273.4 1238.0,289.1 1238.1,278.0 1238.2,296.1 1238.3,291.7 1238.5,293.1 1238.6,271.4 1238.7,291.4 1238.8,280.1 1238.9,292.5 1239.1,289.4 1239.2,289.4 1239.3,277.8 1239.4,291.2 1239.5,279.1 1239.7,273.0 1239.8,280.7 1239.9,271.8" fill="none" stroke="#3A259E" stroke-width="1.4" stroke-linejoin="round"/>
<polyline points="838.5,304.2 838.7,303.3 839.0,302.3 839.2,301.0 839.5,299.8 839.7,298.5 839.9,297.3 840.2,296.2 840.4,295.0 840.7,293.8 840.9,292.6 841.1,291.3 841.4,290.0 841.6,288.7 841.9,287.3 842.1,285.8 842.3,284.3 842.6,282.8 842.8,281.2 843.1,279.6 843.3,277.6 843.5,275.4 843.8,272.9 844.0,270.5 844.3,268.1 844.5,266.0 844.7,264.3 845.0,263.1 845.2,262.2 845.5,261.4 845.7,260.6 845.9,260.0 846.2,259.5 846.4,259.1 846.7,259.0 846.9,259.1 847.1,259.5 847.4,260.2 847.6,261.1 847.9,262.2 848.1,263.4 848.3,264.7 848.6,266.0 848.8,267.4 849.1,268.8 849.3,270.1 849.5,271.3 849.8,272.3 850.0,273.3 850.3,274.3 850.5,275.3 850.7,276.3 851.0,277.2 851.2,278.2 851.5,279.1 851.7,280.1 851.9,281.1 852.2,282.1 852.4,283.1 852.7,284.1 852.9,285.2 853.1,286.3 853.4,287.4 853.6,288.5 853.9,289.7 854.1,290.9 854.3,292.2 854.6,293.4 854.8,294.7 855.1,296.0 855.3,297.3 855.5,298.7 855.8,300.0 856.0,301.4 856.3,302.9 856.5,304.3 856.7,305.8 857.0,307.4 857.2,308.9 857.5,310.4 857.7,312.0 857.9,313.5 858.2,315.0 858.4,316.5 858.7,317.9 858.9,319.3 859.1,320.7 859.4,322.0 859.6,323.2 859.9,324.4 860.1,325.6 860.3,326.8 860.6,327.9 860.8,329.0 861.1,330.2 861.3,331.3 861.5,332.5 861.8,333.8 862.0,335.0 862.3,336.3 862.5,337.7 862.7,339.2 863.0,340.7 863.2,342.3 863.5,343.9 863.7,345.5 863.9,347.2 864.2,348.8 864.4,350.5 864.7,352.1 864.9,353.6 865.1,355.2 865.4,356.6 865.6,358.0 865.9,359.3 866.1,360.5 866.3,361.7 866.6,362.8 866.8,364.0 867.1,365.1 867.3,366.2 867.5,367.2 867.8,368.3 868.0,369.3 868.3,370.3 868.5,371.3 868.7,372.3 869.0,373.2 869.2,374.1 869.5,375.0 869.7,375.9 869.9,376.7 870.2,377.5 870.4,378.3 870.7,379.0 870.9,379.7 871.1,380.4 871.4,381.1 871.6,381.7 871.9,382.3 872.1,383.0 872.3,383.6 872.6,384.2 872.8,384.8 873.1,385.3 873.3,385.9 873.5,386.4 873.8,386.9 874.0,387.4 874.3,387.9 874.5,388.4 874.7,388.8 875.0,389.3 875.2,389.7 875.5,390.1 875.7,390.5 875.9,390.9 876.2,391.3 876.4,391.6 876.7,392.0 876.9,392.4 877.1,392.7 877.4,393.1 877.6,393.4 877.9,393.8" fill="none" stroke="#3A259E" stroke-width="3.2" stroke-linejoin="round"/>
<polyline points="928.0,397.5 928.3,397.4 928.5,397.5 928.7,397.7 929.0,398.1 929.2,398.7 929.5,399.4 929.7,400.3 929.9,401.5 930.2,403.7 930.4,405.4 930.7,406.9 930.9,408.2 931.1,409.3 931.4,410.2 931.6,410.8 931.9,411.2 932.1,411.3 932.3,411.0 932.6,410.5 932.8,409.7 933.1,408.5 933.3,407.0 933.5,405.1 933.8,402.4 934.0,399.2 934.3,397.0 934.5,395.0 934.7,393.4 935.0,392.0 935.2,390.9 935.5,390.1 935.7,389.7 935.9,389.7 936.2,390.1 936.4,391.0 936.7,392.2 936.9,393.8 937.1,395.9 937.4,398.5 937.6,402.3 937.9,404.7 938.1,406.5 938.3,408.0 938.6,409.4 938.8,410.4 939.1,411.2 939.3,411.7 939.5,412.0 939.8,411.8 940.0,411.4 940.3,410.7 940.5,409.6 940.7,408.2 941.0,406.5 941.2,404.3 941.5,401.1 941.7,398.6 941.9,396.5 942.2,394.8 942.4,393.4 942.7,392.3 942.9,391.5 943.1,391.1 943.4,391.0 943.6,391.2 943.9,391.8 944.1,392.8 944.3,394.1 944.6,395.7 944.8,397.7 945.1,400.1 945.3,404.3 945.5,408.0 945.8,410.9 946.0,413.4 946.3,415.4 946.5,416.9 946.7,418.0 947.0,418.5 947.2,418.5 947.5,418.0 947.7,417.0 947.9,415.5 948.2,413.5 948.4,411.0 948.7,408.0 948.9,404.4 949.1,399.2 949.4,395.7 949.6,392.8 949.9,390.4 950.1,388.5 950.3,387.1 950.6,386.1 950.8,385.7 951.1,385.8 951.3,386.4 951.5,387.5 951.8,389.1 952.0,391.2 952.3,393.8 952.5,396.8 952.7,400.7 953.0,406.8 953.2,411.2 953.5,414.7 953.7,417.7 953.9,420.1 954.2,421.8 954.4,423.0 954.7,423.4 954.9,423.2 955.1,422.3 955.4,420.8 955.6,418.7 955.9,415.9 956.1,412.5 956.3,408.5 956.6,403.1 956.8,396.9 957.1,392.7 957.3,389.2 957.5,386.4 957.8,384.1 958.0,382.4 958.3,381.4 958.5,381.1 958.7,381.4 959.0,382.4 959.2,384.1 959.5,386.4 959.7,389.3 959.9,392.8 960.2,397.0 960.4,403.2 960.7,408.1 960.9,411.8 961.1,414.9 961.4,417.5 961.6,419.5 961.9,420.9 962.1,421.7 962.3,421.9 962.6,421.5 962.8,420.5 963.1,418.9 963.3,416.8 963.5,414.0 963.8,410.8 964.0,406.8 964.3,400.8 964.5,396.2 964.7,392.6 965.0,389.6 965.2,387.1 965.5,385.2 965.7,383.9 965.9,383.2 966.2,383.1 966.4,383.6 966.7,384.7 966.9,386.4 967.1,388.7 967.4,391.6 967.6,395.0 967.9,399.2 968.1,404.9 968.3,408.7 968.6,411.7 968.8,414.3 969.1,416.3 969.3,417.9 969.5,418.9 969.8,419.5 970.0,419.5 970.3,419.0 970.5,417.9 970.7,416.4 971.0,414.3 971.2,411.8 971.5,408.8 971.7,405.1 971.9,399.8 972.2,396.2 972.4,393.2 972.7,390.8 972.9,388.8 973.1,387.3 973.4,386.4 973.6,385.9 973.9,386.0 974.1,386.7 974.3,387.8 974.6,389.5 974.8,391.6 975.1,394.2 975.3,397.4 975.5,401.3 975.8,406.2 976.0,409.4 976.3,412.0 976.5,414.2 976.7,415.9 977.0,417.2 977.2,418.0 977.5,418.3 977.7,418.2 977.9,417.5 978.2,416.4 978.4,414.9 978.7,412.9 978.9,410.4 979.1,407.5 979.4,403.6 979.6,399.1 979.9,396.0 980.1,393.5 980.3,391.4 980.6,389.7 980.8,388.6 981.1,387.8 981.3,387.6 981.5,387.8 981.8,388.6 982.0,389.8 982.3,391.4 982.5,393.5 982.7,396.1 983.0,399.2 983.2,403.6 983.5,407.3 983.7,410.0 983.9,412.3 984.2,414.2 984.4,415.7 984.7,416.7 984.9,417.3 985.1,417.5 985.4,417.2 985.6,416.4 985.9,415.3 986.1,413.7 986.3,411.7 986.6,409.3 986.8,406.4 987.1,402.0 987.3,398.6 987.5,396.0 987.8,393.8 988.0,392.0 988.3,390.6 988.5,389.6 988.7,389.1 989.0,389.0 989.2,389.4 989.5,390.2 989.7,391.5 989.9,393.2 990.2,395.3 990.4,397.8 990.7,400.9 990.9,405.2 991.1,408.1 991.4,410.5 991.6,412.4 991.9,414.0 992.1,415.2 992.3,416.0 992.6,416.5 992.8,416.5 993.1,416.1 993.3,415.3 993.5,414.1 993.8,412.5 994.0,410.6 994.3,408.2 994.5,405.4 994.7,401.3 995.0,398.5 995.2,396.2 995.5,394.4 995.7,392.8 995.9,391.7 996.2,391.0 996.4,390.6 996.7,390.7 996.9,391.2 997.1,392.1 997.4,393.4 997.6,395.0 997.9,397.1 998.1,399.5 998.3,402.6 998.6,407.1 998.8,410.3 999.1,412.9 999.3,415.1 999.5,416.8 999.8,418.1 1000.0,418.9 1000.3,419.2 1000.5,419.1 1000.7,418.4 1001.0,417.3 1001.2,415.8 1001.5,413.7 1001.7,411.3 1001.9,408.3 1002.2,404.5 1002.4,400.0 1002.7,396.9 1002.9,394.4 1003.1,392.3 1003.4,390.6 1003.6,389.4 1003.9,388.7 1004.1,388.5 1004.3,388.7 1004.6,389.5 1004.8,390.7 1005.1,392.3 1005.3,394.4 1005.5,397.0 1005.8,400.0 1006.0,404.8 1006.3,410.8 1006.5,415.3 1006.7,419.1 1007.0,422.2 1007.2,424.6 1007.5,426.3 1007.7,427.3 1007.9,427.5 1008.2,427.0 1008.4,425.8 1008.7,423.9 1008.9,421.2 1009.1,417.9 1009.4,413.9 1009.6,409.1 1009.9,401.9 1010.1,396.3 1010.3,392.0 1010.6,388.3 1010.8,385.3 1011.1,383.0 1011.3,381.4 1011.5,380.5 1011.8,380.4 1012.0,380.9 1012.3,382.3 1012.5,384.3 1012.7,387.0 1013.0,390.4 1013.2,394.4 1013.5,399.4 1013.7,405.9 1013.9,409.7 1014.2,412.7 1014.4,415.2 1014.7,417.3 1014.9,418.8 1015.1,419.8 1015.4,420.3 1015.6,420.2 1015.9,419.6 1016.1,418.4 1016.3,416.7 1016.6,414.5 1016.8,411.8 1017.1,408.6 1017.3,404.6 1017.5,399.1 1017.8,395.3 1018.0,392.1 1018.3,389.5 1018.5,387.4 1018.7,385.7 1019.0,384.6 1019.2,384.0 1019.5,384.0 1019.7,384.5 1019.9,385.6 1020.2,387.1 1020.4,389.2 1020.7,391.8 1020.9,394.9 1021.1,398.8 1021.4,403.1 1021.6,405.7 1021.9,407.7 1022.1,409.4 1022.3,410.6 1022.6,411.4 1022.8,411.8 1023.1,411.8 1023.3,411.4 1023.5,410.5 1023.8,409.4 1024.0,407.8 1024.3,406.0 1024.5,403.9 1024.7,401.5 1025.0,398.4 1025.2,395.1 1025.5,392.8 1025.7,391.0 1025.9,389.5 1026.2,388.3 1026.4,387.5 1026.7,387.0 1026.9,386.8 1027.1,386.9 1027.4,387.2 1027.6,387.8 1027.9,388.6 1028.1,389.6 1028.3,390.8 1028.6,392.2 1028.8,394.3 1029.1,395.9 1029.3,396.9 1029.5,397.7 1029.8,398.2 1030.0,398.4 1030.3,398.5 1030.5,398.3 1030.7,397.8 1031.0,397.2 1031.2,396.4 1031.5,395.4 1031.7,394.2 1031.9,393.0 1032.2,391.6 1032.4,390.1 1032.7,388.1 1032.9,386.7 1033.1,385.5 1033.4,384.6 1033.6,383.9 1033.9,383.3" fill="none" stroke="#3A259E" stroke-width="2.6" stroke-linejoin="round"/>
<rect x="799.9" y="13.9" width="475.0" height="475.5" fill="none" stroke="#111" stroke-width="5.2" stroke-linejoin="round"/>
<line x1="786" y1="13.5" x2="798" y2="13.5" stroke="#444" stroke-width="1.5"/>
<text transform="translate(770.8,22.7) scale(1,1.085)" font-size="28" text-anchor="end">0.02</text>
<line x1="786" y1="132.5" x2="798" y2="132.5" stroke="#444" stroke-width="1.5"/>
<text transform="translate(770.8,141.7) scale(1,1.085)" font-size="28" text-anchor="end">0.00</text>
<line x1="786" y1="251.5" x2="798" y2="251.5" stroke="#444" stroke-width="1.5"/>
<text transform="translate(770.8,260.7) scale(1,1.085)" font-size="28" text-anchor="end">-0.02</text>
<line x1="786" y1="370.5" x2="798" y2="370.5" stroke="#444" stroke-width="1.5"/>
<text transform="translate(770.8,379.7) scale(1,1.085)" font-size="28" text-anchor="end">-0.04</text>
<line x1="786" y1="489.5" x2="798" y2="489.5" stroke="#444" stroke-width="1.5"/>
<text transform="translate(770.8,498.7) scale(1,1.085)" font-size="28" text-anchor="end">-0.06</text>
<line x1="799.3" y1="491" x2="799.3" y2="503" stroke="#444" stroke-width="1.5"/>
<text transform="translate(799.3,541.7) scale(1,1.085)" font-size="28" text-anchor="middle">0</text>
<line x1="894.4" y1="491" x2="894.4" y2="503" stroke="#444" stroke-width="1.5"/>
<text transform="translate(894.4,541.7) scale(1,1.085)" font-size="28" text-anchor="middle">500</text>
<line x1="989.5" y1="491" x2="989.5" y2="503" stroke="#444" stroke-width="1.5"/>
<text transform="translate(989.5,541.7) scale(1,1.085)" font-size="28" text-anchor="middle">1000</text>
<line x1="1084.6" y1="491" x2="1084.6" y2="503" stroke="#444" stroke-width="1.5"/>
<text transform="translate(1084.6,541.7) scale(1,1.085)" font-size="28" text-anchor="middle">1500</text>
<line x1="1179.7" y1="491" x2="1179.7" y2="503" stroke="#444" stroke-width="1.5"/>
<text transform="translate(1179.7,541.7) scale(1,1.085)" font-size="28" text-anchor="middle">2000</text>
<line x1="1274.8" y1="491" x2="1274.8" y2="503" stroke="#444" stroke-width="1.5"/>
<text transform="translate(1274.8,541.7) scale(1,1.085)" font-size="28" text-anchor="middle">2500</text>
<text x="1036.4" y="600.0" font-size="33" text-anchor="middle" textLength="111.5" lengthAdjust="spacing">time (s)</text>
<text transform="translate(692.5,252.5) rotate(-90)" font-size="32.5" text-anchor="middle">ACDAN GP</text>
<text transform="translate(828.7,69.2) scale(1,1.05)" font-size="66" text-anchor="middle">B</text>
<text transform="translate(1022.0,283.9) scale(1,1.05)" font-size="33" text-anchor="middle">IAA</text>
<path d="M1004.8,351.3L1011.0,373.0L1017.2,351.3Z" fill="#000"/>
<path d="M1011.0,298.5L1011.0,373.0M999.8,333.5L1011.0,373.0L1022.2,333.5" fill="none" stroke="#000" stroke-width="4.8" stroke-linecap="round" stroke-linejoin="round"/>
<path d="M842.0,183.4L848.3,161.5L854.6,183.4Z" fill="#000"/>
<path d="M848.3,229.0L848.3,161.5M836.8,201.3L848.3,161.5L859.8,201.3" fill="none" stroke="#000" stroke-width="4.8" stroke-linecap="round" stroke-linejoin="round"/>
<path d="M833.2,351.6L839.5,329.8L845.8,351.6Z" fill="#000"/>
<path d="M839.5,397.3L839.5,329.8M828.0,369.5L839.5,329.8L851.0,369.5" fill="none" stroke="#000" stroke-width="4.8" stroke-linecap="round" stroke-linejoin="round"/>
<polyline points="1422.5,272.1 1423.2,276.0 1423.9,275.6 1424.6,278.9 1425.3,278.1 1426.0,280.2 1426.7,282.6 1427.4,284.1 1428.1,283.1 1428.8,283.1 1429.5,286.2 1430.2,284.8 1430.9,286.8 1431.6,288.0 1432.3,287.2 1433.0,284.4 1433.7,287.3 1434.4,286.6 1435.1,283.8 1435.8,283.1 1436.5,284.3 1437.2,281.9 1437.9,280.9 1438.6,280.6 1439.3,278.8 1440.0,280.4 1440.7,277.6 1441.4,275.1 1442.1,274.0 1442.8,272.4 1443.5,273.2 1444.2,269.1 1444.9,270.4 1445.6,267.4 1446.3,264.6 1447.0,266.7 1447.7,264.7 1448.4,263.1 1449.1,260.9 1449.8,259.7 1450.5,257.3 1451.2,258.0 1451.9,256.3 1452.6,252.7 1453.3,250.8 1454.0,249.2 1454.7,247.9 1455.4,245.1 1456.1,242.2 1456.8,240.3 1457.5,238.8 1458.2,236.1 1458.9,233.4 1459.6,233.0 1460.3,229.5 1461.0,227.7 1461.7,223.1 1462.4,222.7 1463.1,219.4 1463.8,216.8 1464.5,214.0 1465.2,211.9 1465.9,210.0 1466.6,208.5 1467.3,206.2 1468.0,206.5 1468.7,202.5 1469.4,200.0 1470.1,197.3 1470.8,194.1 1471.5,191.6 1472.2,190.5 1472.9,185.7 1473.6,186.9 1474.3,184.3 1475.0,178.2 1475.7,179.0 1476.4,176.6 1477.1,174.4 1477.8,171.9 1478.5,171.2 1479.2,166.5 1479.9,165.3 1480.6,164.9 1481.3,162.7 1482.0,159.4 1482.7,160.7 1483.4,159.5 1484.1,156.6 1484.8,155.9 1485.5,155.2 1486.2,150.2 1486.9,150.6 1487.6,148.8 1488.3,148.2 1489.0,145.4 1489.7,143.9 1490.4,144.2 1491.1,144.6 1491.8,139.4 1492.5,141.3 1493.2,139.0 1493.9,137.6 1494.6,136.5 1495.3,133.0 1496.0,133.5 1496.7,128.9 1497.4,128.5 1498.1,128.6 1498.8,128.0 1499.5,124.3 1500.2,122.5 1500.9,124.2 1501.6,122.9 1502.3,122.3 1503.0,120.3 1503.7,117.9 1504.4,119.9 1505.1,118.6 1505.8,117.1 1506.5,118.9 1507.2,116.1 1507.9,117.3 1508.6,115.0 1509.3,111.4 1510.0,113.2 1510.7,111.0 1511.4,113.8 1512.1,115.3 1512.8,111.7 1513.5,114.4 1514.2,113.0 1514.9,114.3 1515.6,113.5 1516.3,111.7 1517.0,113.5 1517.7,112.6 1518.4,113.6 1519.1,114.7 1519.8,112.0 1520.5,114.0 1521.2,111.8 1521.9,112.5 1522.6,111.8 1523.3,110.7 1524.0,111.5 1524.7,110.6 1525.4,111.7 1526.1,109.6 1526.8,109.6 1527.5,111.7 1528.2,111.2 1528.9,111.1 1529.6,111.0 1530.3,111.5 1531.0,110.7 1531.7,111.2 1532.4,109.1 1533.1,110.6 1533.8,109.0 1534.5,108.4 1535.2,109.6 1535.9,110.7 1536.6,109.9 1537.3,112.1 1538.0,110.9 1538.7,110.7 1539.4,110.5 1540.1,108.9 1540.8,110.8 1541.5,111.0 1542.2,113.3 1542.9,110.5 1543.6,111.6 1544.3,111.1 1545.0,112.4 1545.7,110.4 1546.4,113.1 1547.1,113.1 1547.8,113.5 1548.5,116.7 1549.2,113.7 1549.9,114.6 1550.6,114.2 1551.3,115.8 1552.0,117.4 1552.7,116.9 1553.4,115.4 1554.1,113.6 1554.8,115.7 1555.5,113.2 1556.2,114.2 1556.9,114.6 1557.6,113.9 1558.3,115.3 1559.0,114.8 1559.7,114.3 1560.4,115.7 1561.1,114.3 1561.8,116.7 1562.5,115.9 1563.2,114.6 1563.9,115.6 1564.6,114.2 1565.3,114.2 1566.0,116.2 1566.7,113.0 1567.4,115.4 1568.1,117.2 1568.8,112.1 1569.5,117.6 1570.2,112.3 1570.9,111.9 1571.6,112.0 1572.3,113.1 1573.0,113.7 1573.7,112.0 1574.4,114.0 1575.1,115.1 1575.8,113.0 1576.5,113.9 1577.2,114.4 1577.9,115.5 1578.6,113.1 1579.3,113.9 1580.0,113.4 1580.7,112.6 1581.4,111.8 1582.1,112.4 1582.8,112.6 1583.5,109.9 1584.2,110.8 1584.9,111.4 1585.6,111.1 1586.3,110.9 1587.0,112.2 1587.7,111.3 1588.4,108.2 1589.1,111.5 1589.8,108.4 1590.5,108.0 1591.2,110.1 1591.9,108.2 1592.6,106.3 1593.3,108.8 1594.0,108.4 1594.7,108.2 1595.4,105.6 1596.1,108.1 1596.8,106.1 1597.5,107.7 1598.2,104.8 1598.9,104.9 1599.6,103.4 1600.3,104.6 1601.0,106.6 1601.7,105.3 1602.4,104.1 1603.1,106.2 1603.8,104.5 1604.5,104.9 1605.2,104.1 1605.9,103.3 1606.6,103.3 1607.3,103.4 1608.0,104.0 1608.7,103.0 1609.4,103.1 1610.1,100.3 1610.8,99.1 1611.5,101.5 1612.2,101.0 1612.9,101.0 1613.6,99.0 1614.3,100.1 1615.0,98.3 1615.7,99.4 1616.4,98.9 1617.1,98.5 1617.8,98.8 1618.5,97.6 1619.2,97.9 1619.9,98.5 1620.6,99.3 1621.3,97.7 1622.0,97.9 1622.7,97.3 1623.4,98.3 1624.1,98.6 1624.8,94.9 1625.5,96.3 1626.2,95.5 1626.9,96.8 1627.6,91.7 1628.3,93.7 1629.0,92.2 1629.7,95.8 1630.4,94.4 1631.1,94.8 1631.8,94.4 1632.5,94.3 1633.2,94.5 1633.9,93.6 1634.6,91.7 1635.3,94.7 1636.0,94.4 1636.7,93.9 1637.4,94.0 1638.1,96.6 1638.8,94.3 1639.5,94.1 1640.2,96.4 1640.9,97.7 1641.6,94.5 1642.3,95.1 1643.0,95.3 1643.7,97.3 1644.4,97.7 1645.1,99.0 1645.8,97.4 1646.5,97.5 1647.2,97.3 1647.9,99.7 1648.6,97.8 1649.3,97.8 1650.0,98.8 1650.7,99.4 1651.4,100.2 1652.1,99.3 1652.8,102.5 1653.5,103.0 1654.2,99.6 1654.9,101.5 1655.6,100.5 1656.3,101.7 1657.0,101.0 1657.7,102.5 1658.4,103.6 1659.1,103.8 1659.8,102.4 1660.5,102.0 1661.2,102.6 1661.9,106.8 1662.6,105.5 1663.3,106.3 1664.0,108.5 1664.7,106.0 1665.4,108.2 1666.1,107.4 1666.8,109.1 1667.5,107.1 1668.2,109.5 1668.9,110.6 1669.6,111.4 1670.3,110.2 1671.0,112.4 1671.7,114.6 1672.4,114.3 1673.1,116.5 1673.8,117.3 1674.5,118.0 1675.2,118.4 1675.9,120.2 1676.6,120.2 1677.3,123.4 1678.0,124.2 1678.7,126.4 1679.4,128.8 1680.1,128.1 1680.8,128.8 1681.5,129.4 1682.2,131.2 1682.9,132.8 1683.6,131.8 1684.3,131.5 1685.0,132.4 1685.7,136.2 1686.4,136.6 1687.1,137.6 1687.8,135.9 1688.5,138.2 1689.2,138.0 1689.9,139.6 1690.6,141.3 1691.3,142.2 1692.0,146.1 1692.7,143.6 1693.4,145.5 1694.1,146.4 1694.8,148.5 1695.5,150.4 1696.2,149.6 1696.9,149.7 1697.6,152.4 1698.3,154.5 1699.0,153.9 1699.7,157.7 1700.4,156.5 1701.1,158.2 1701.8,159.8 1702.5,164.0 1703.2,164.0 1703.9,164.9 1704.6,164.6 1705.3,165.9 1706.0,167.9 1706.7,172.2 1707.4,173.3 1708.1,173.4 1708.8,173.8 1709.5,174.1 1710.2,177.2 1710.9,180.0 1711.6,181.6 1712.3,182.9 1713.0,183.2 1713.7,186.2 1714.4,187.0 1715.1,189.8 1715.8,190.6 1716.5,192.8 1717.2,193.8 1717.9,194.4 1718.6,198.0 1719.3,196.8 1720.0,200.4 1720.7,200.6 1721.4,202.2 1722.1,204.5 1722.8,205.0 1723.5,205.8 1724.2,207.4 1724.9,208.6 1725.6,211.4 1726.3,213.2 1727.0,214.2 1727.7,213.8 1728.4,217.3 1729.1,219.7 1729.8,218.6 1730.5,220.3 1731.2,224.0 1731.9,224.0 1732.6,227.0 1733.3,226.7 1734.0,226.8 1734.7,229.9 1735.4,231.3 1736.1,233.1 1736.8,233.1 1737.5,235.0 1738.2,239.5 1738.9,237.7 1739.6,241.7 1740.3,239.8 1741.0,242.9 1741.7,244.5 1742.4,246.5 1743.1,246.9 1743.8,247.5 1744.5,249.8 1745.2,249.3 1745.9,249.5 1746.6,252.1 1747.3,257.3 1748.0,257.8 1748.7,260.5 1749.4,260.3 1750.1,259.3 1750.8,261.3 1751.5,264.3 1752.2,264.3 1752.9,265.6 1753.6,266.9 1754.3,268.7 1755.0,268.7 1755.7,273.0 1756.4,273.0 1757.1,276.8 1757.8,278.7 1758.5,278.1 1759.2,280.8 1759.9,282.3 1760.6,282.7 1761.3,283.6 1762.0,286.8 1762.7,287.5 1763.4,287.9 1764.1,289.0 1764.8,291.0 1765.5,293.6 1766.2,294.7 1766.9,294.6 1767.6,296.6 1768.3,298.5 1769.0,299.2 1769.7,301.1 1770.4,301.5 1771.1,303.1 1771.8,305.9 1772.5,307.4 1773.2,308.2 1773.9,312.7 1774.6,311.3 1775.3,313.9 1776.0,314.9 1776.7,315.5 1777.4,318.4 1778.1,320.4 1778.8,320.6 1779.5,322.7 1780.2,327.0 1780.9,324.0 1781.6,326.4 1782.3,328.9 1783.0,329.7 1783.7,330.2 1784.4,332.2 1785.1,334.0 1785.8,335.5 1786.5,337.4 1787.2,340.8 1787.9,340.7 1788.6,341.5 1789.3,344.4 1790.0,345.8 1790.7,345.3 1791.4,347.4 1792.1,348.4 1792.8,351.6 1793.5,353.8 1794.2,354.1 1794.9,357.4 1795.6,356.7 1796.3,358.6 1797.0,360.4 1797.7,362.3 1798.4,365.6 1799.1,363.8 1799.8,367.4 1800.5,368.4 1801.2,371.2 1801.9,369.8 1802.6,371.6 1803.3,376.6 1804.0,377.6 1804.7,378.9 1805.4,379.1 1806.1,382.0 1806.8,382.4 1807.5,382.6" fill="none" stroke="#518060" stroke-width="4.3" stroke-linejoin="round" stroke-linecap="round"/>
<polyline points="1422.5,273.3 1423.2,275.8 1423.9,277.4 1424.6,280.4 1425.3,282.5 1426.0,286.1 1426.7,288.7 1427.4,290.6 1428.1,292.2 1428.8,291.1 1429.5,294.3 1430.2,295.6 1430.9,295.9 1431.6,294.9 1432.3,292.9 1433.0,296.7 1433.7,295.4 1434.4,297.2 1435.1,294.0 1435.8,295.9 1436.5,294.0 1437.2,292.2 1437.9,292.4 1438.6,291.9 1439.3,292.2 1440.0,291.2 1440.7,290.7 1441.4,289.2 1442.1,286.8 1442.8,285.9 1443.5,285.6 1444.2,283.9 1444.9,281.1 1445.6,279.4 1446.3,281.5 1447.0,279.4 1447.7,280.3 1448.4,276.0 1449.1,276.4 1449.8,274.0 1450.5,273.0 1451.2,271.1 1451.9,270.9 1452.6,268.8 1453.3,266.1 1454.0,265.1 1454.7,263.4 1455.4,262.2 1456.1,260.8 1456.8,258.4 1457.5,256.7 1458.2,255.8 1458.9,252.0 1459.6,253.0 1460.3,251.4 1461.0,245.6 1461.7,246.4 1462.4,246.1 1463.1,241.7 1463.8,243.3 1464.5,242.3 1465.2,240.0 1465.9,238.9 1466.6,235.9 1467.3,235.4 1468.0,233.5 1468.7,230.8 1469.4,229.3 1470.1,225.5 1470.8,224.1 1471.5,225.2 1472.2,223.5 1472.9,219.5 1473.6,216.9 1474.3,214.6 1475.0,216.6 1475.7,213.9 1476.4,214.0 1477.1,211.5 1477.8,210.6 1478.5,207.4 1479.2,203.9 1479.9,202.4 1480.6,202.4 1481.3,197.6 1482.0,198.2 1482.7,195.3 1483.4,195.6 1484.1,191.7 1484.8,189.8 1485.5,190.1 1486.2,183.4 1486.9,186.9 1487.6,184.2 1488.3,181.5 1489.0,181.4 1489.7,178.3 1490.4,178.1 1491.1,175.9 1491.8,175.1 1492.5,171.6 1493.2,170.5 1493.9,172.0 1494.6,168.7 1495.3,166.7 1496.0,164.4 1496.7,163.4 1497.4,162.9 1498.1,159.8 1498.8,159.8 1499.5,158.2 1500.2,154.9 1500.9,156.0 1501.6,156.3 1502.3,153.2 1503.0,152.4 1503.7,151.9 1504.4,149.9 1505.1,147.6 1505.8,148.9 1506.5,147.4 1507.2,146.3 1507.9,147.8 1508.6,145.4 1509.3,143.6 1510.0,142.9 1510.7,144.9 1511.4,143.2 1512.1,139.5 1512.8,141.8 1513.5,139.9 1514.2,139.3 1514.9,141.0 1515.6,140.2 1516.3,138.1 1517.0,138.8 1517.7,139.4 1518.4,138.4 1519.1,138.8 1519.8,137.3 1520.5,139.6 1521.2,139.7 1521.9,137.0 1522.6,135.9 1523.3,136.9 1524.0,138.4 1524.7,137.4 1525.4,137.0 1526.1,137.1 1526.8,135.0 1527.5,136.5 1528.2,136.3 1528.9,135.6 1529.6,137.2 1530.3,135.4 1531.0,135.3 1531.7,136.9 1532.4,136.7 1533.1,136.0 1533.8,136.2 1534.5,136.4 1535.2,136.3 1535.9,134.7 1536.6,136.8 1537.3,138.2 1538.0,136.3 1538.7,135.4 1539.4,137.1 1540.1,136.4 1540.8,134.7 1541.5,135.5 1542.2,134.8 1542.9,136.6 1543.6,133.7 1544.3,136.7 1545.0,134.2 1545.7,135.3 1546.4,134.2 1547.1,135.1 1547.8,135.9 1548.5,135.1 1549.2,132.7 1549.9,133.8 1550.6,134.1 1551.3,136.1 1552.0,133.1 1552.7,133.1 1553.4,132.5 1554.1,133.2 1554.8,133.9 1555.5,131.8 1556.2,134.6 1556.9,134.2 1557.6,133.5 1558.3,133.2 1559.0,135.2 1559.7,130.9 1560.4,131.3 1561.1,134.4 1561.8,130.2 1562.5,131.9 1563.2,131.2 1563.9,130.1 1564.6,130.0 1565.3,130.7 1566.0,131.2 1566.7,131.3 1567.4,131.3 1568.1,130.5 1568.8,130.3 1569.5,130.9 1570.2,129.2 1570.9,128.3 1571.6,130.7 1572.3,127.1 1573.0,130.1 1573.7,130.9 1574.4,127.7 1575.1,126.4 1575.8,127.9 1576.5,129.1 1577.2,127.5 1577.9,129.7 1578.6,129.1 1579.3,127.0 1580.0,129.0 1580.7,126.2 1581.4,127.2 1582.1,127.9 1582.8,129.1 1583.5,128.3 1584.2,129.0 1584.9,125.2 1585.6,130.7 1586.3,125.6 1587.0,126.9 1587.7,128.3 1588.4,126.9 1589.1,127.6 1589.8,124.5 1590.5,124.5 1591.2,125.1 1591.9,124.8 1592.6,125.5 1593.3,124.8 1594.0,123.6 1594.7,125.1 1595.4,122.9 1596.1,123.6 1596.8,124.6 1597.5,123.0 1598.2,123.8 1598.9,124.4 1599.6,125.2 1600.3,124.6 1601.0,124.0 1601.7,123.2 1602.4,120.7 1603.1,120.9 1603.8,120.4 1604.5,120.4 1605.2,120.5 1605.9,119.0 1606.6,119.1 1607.3,120.5 1608.0,118.1 1608.7,115.8 1609.4,117.3 1610.1,117.0 1610.8,116.2 1611.5,118.8 1612.2,116.9 1612.9,117.4 1613.6,114.2 1614.3,115.4 1615.0,114.5 1615.7,113.7 1616.4,112.5 1617.1,113.5 1617.8,110.6 1618.5,113.8 1619.2,115.8 1619.9,113.9 1620.6,109.3 1621.3,111.9 1622.0,110.5 1622.7,110.4 1623.4,110.6 1624.1,112.1 1624.8,111.3 1625.5,109.2 1626.2,110.7 1626.9,110.1 1627.6,112.2 1628.3,107.7 1629.0,109.2 1629.7,108.0 1630.4,109.0 1631.1,106.4 1631.8,107.6 1632.5,108.4 1633.2,107.6 1633.9,107.1 1634.6,107.9 1635.3,107.3 1636.0,106.7 1636.7,107.4 1637.4,107.6 1638.1,107.9 1638.8,105.4 1639.5,107.0 1640.2,108.9 1640.9,105.8 1641.6,107.7 1642.3,107.1 1643.0,109.2 1643.7,109.5 1644.4,108.6 1645.1,107.9 1645.8,106.9 1646.5,108.4 1647.2,108.3 1647.9,109.7 1648.6,111.8 1649.3,112.5 1650.0,110.9 1650.7,110.9 1651.4,110.9 1652.1,111.6 1652.8,111.3 1653.5,113.9 1654.2,111.2 1654.9,112.5 1655.6,111.9 1656.3,114.1 1657.0,115.4 1657.7,114.3 1658.4,114.1 1659.1,114.2 1659.8,115.2 1660.5,114.2 1661.2,117.1 1661.9,117.6 1662.6,117.0 1663.3,117.1 1664.0,116.0 1664.7,119.0 1665.4,115.5 1666.1,116.6 1666.8,120.3 1667.5,117.6 1668.2,117.5 1668.9,116.9 1669.6,120.5 1670.3,121.1 1671.0,120.3 1671.7,118.6 1672.4,120.9 1673.1,120.6 1673.8,123.2 1674.5,124.5 1675.2,123.9 1675.9,124.8 1676.6,127.1 1677.3,128.4 1678.0,126.1 1678.7,129.3 1679.4,128.7 1680.1,130.4 1680.8,134.0 1681.5,132.5 1682.2,134.9 1682.9,137.7 1683.6,137.9 1684.3,136.5 1685.0,139.4 1685.7,140.3 1686.4,140.6 1687.1,145.2 1687.8,144.0 1688.5,145.1 1689.2,147.4 1689.9,147.6 1690.6,147.0 1691.3,149.9 1692.0,151.6 1692.7,152.7 1693.4,155.1 1694.1,156.2 1694.8,157.2 1695.5,157.8 1696.2,159.5 1696.9,163.2 1697.6,160.3 1698.3,165.0 1699.0,165.6 1699.7,165.6 1700.4,167.7 1701.1,169.7 1701.8,168.6 1702.5,171.8 1703.2,173.5 1703.9,173.0 1704.6,175.4 1705.3,178.1 1706.0,177.9 1706.7,177.9 1707.4,178.2 1708.1,179.2 1708.8,183.7 1709.5,183.5 1710.2,184.8 1710.9,185.9 1711.6,186.6 1712.3,190.8 1713.0,190.8 1713.7,193.1 1714.4,191.3 1715.1,194.8 1715.8,196.3 1716.5,195.6 1717.2,197.4 1717.9,199.0 1718.6,202.7 1719.3,203.4 1720.0,203.9 1720.7,207.3 1721.4,207.3 1722.1,210.0 1722.8,211.5 1723.5,212.3 1724.2,216.2 1724.9,216.9 1725.6,215.9 1726.3,220.2 1727.0,224.0 1727.7,221.3 1728.4,226.8 1729.1,227.7 1729.8,227.8 1730.5,230.9 1731.2,231.3 1731.9,232.5 1732.6,236.3 1733.3,237.8 1734.0,236.9 1734.7,239.9 1735.4,242.1 1736.1,241.7 1736.8,246.3 1737.5,245.6 1738.2,248.4 1738.9,250.1 1739.6,249.7 1740.3,252.6 1741.0,253.7 1741.7,255.5 1742.4,255.9 1743.1,258.9 1743.8,260.0 1744.5,262.3 1745.2,263.1 1745.9,261.6 1746.6,263.9 1747.3,266.5 1748.0,268.5 1748.7,267.9 1749.4,270.1 1750.1,271.8 1750.8,272.7 1751.5,275.4 1752.2,274.4 1752.9,277.6 1753.6,277.5 1754.3,280.3 1755.0,280.1 1755.7,282.3 1756.4,285.2 1757.1,284.4 1757.8,287.0 1758.5,289.1 1759.2,289.7 1759.9,290.9 1760.6,292.7 1761.3,293.0 1762.0,296.4 1762.7,297.8 1763.4,300.4 1764.1,300.1 1764.8,302.5 1765.5,302.0 1766.2,304.6 1766.9,304.3 1767.6,307.1 1768.3,307.8 1769.0,310.7 1769.7,308.5 1770.4,312.1 1771.1,313.3 1771.8,315.7 1772.5,315.4 1773.2,317.1 1773.9,320.4 1774.6,319.4 1775.3,321.0 1776.0,324.0 1776.7,321.5 1777.4,325.6 1778.1,326.8 1778.8,327.9 1779.5,326.7 1780.2,328.3 1780.9,330.2 1781.6,331.3 1782.3,334.3 1783.0,334.1 1783.7,337.5 1784.4,336.9 1785.1,338.8 1785.8,338.5 1786.5,339.7 1787.2,342.1 1787.9,343.7 1788.6,343.1 1789.3,346.5 1790.0,345.9 1790.7,349.2 1791.4,347.1 1792.1,349.3 1792.8,351.7 1793.5,352.0 1794.2,352.6 1794.9,355.3 1795.6,356.8 1796.3,356.5 1797.0,359.1 1797.7,359.0 1798.4,359.9 1799.1,363.6 1799.8,362.7 1800.5,364.2 1801.2,367.0 1801.9,366.3 1802.6,367.7 1803.3,369.9 1804.0,371.7 1804.7,374.1 1805.4,374.2 1806.1,375.0 1806.8,375.7 1807.5,378.3 1808.2,379.6 1808.9,382.9 1809.6,381.2 1810.3,382.4 1811.0,383.8 1811.7,387.2" fill="none" stroke="#3A259E" stroke-width="4.3" stroke-linejoin="round" stroke-linecap="round"/>
<polyline points="1422.5,274.0 1423.2,277.4 1423.9,275.5 1424.6,279.3 1425.3,279.9 1426.0,283.9 1426.7,283.7 1427.4,286.2 1428.1,285.4 1428.8,287.5 1429.5,287.3 1430.2,286.7 1430.9,289.0 1431.6,287.9 1432.3,285.8 1433.0,288.3 1433.7,286.9 1434.4,288.5 1435.1,289.0 1435.8,286.7 1436.5,285.9 1437.2,282.6 1437.9,281.8 1438.6,280.7 1439.3,282.2 1440.0,278.0 1440.7,277.5 1441.4,273.7 1442.1,274.1 1442.8,273.7 1443.5,272.3 1444.2,271.0 1444.9,270.8 1445.6,269.7 1446.3,266.5 1447.0,265.1 1447.7,266.1 1448.4,265.0 1449.1,261.1 1449.8,262.0 1450.5,257.9 1451.2,257.6 1451.9,257.4 1452.6,252.0 1453.3,252.0 1454.0,249.7 1454.7,246.5 1455.4,246.6 1456.1,242.4 1456.8,240.4 1457.5,237.6 1458.2,237.0 1458.9,234.7 1459.6,233.1 1460.3,228.7 1461.0,225.3 1461.7,225.1 1462.4,219.8 1463.1,218.6 1463.8,217.5 1464.5,214.8 1465.2,210.2 1465.9,209.7 1466.6,208.8 1467.3,209.6 1468.0,206.4 1468.7,207.0 1469.4,204.9 1470.1,203.3 1470.8,201.5 1471.5,199.0 1472.2,199.8 1472.9,196.7 1473.6,196.5 1474.3,191.8 1475.0,189.0 1475.7,190.7 1476.4,185.4 1477.1,184.5 1477.8,181.5 1478.5,179.4 1479.2,176.8 1479.9,173.6 1480.6,171.4 1481.3,171.3 1482.0,168.5 1482.7,169.8 1483.4,166.4 1484.1,166.5 1484.8,162.9 1485.5,163.1 1486.2,160.1 1486.9,158.4 1487.6,158.1 1488.3,156.9 1489.0,159.1 1489.7,153.2 1490.4,152.9 1491.1,153.3 1491.8,151.1 1492.5,150.3 1493.2,149.9 1493.9,147.7 1494.6,145.8 1495.3,144.0 1496.0,144.4 1496.7,144.1 1497.4,142.6 1498.1,142.8 1498.8,140.0 1499.5,139.9 1500.2,137.8 1500.9,135.8 1501.6,138.1 1502.3,136.2 1503.0,136.9 1503.7,134.9 1504.4,133.2 1505.1,133.5 1505.8,133.7 1506.5,132.7 1507.2,132.8 1507.9,133.4 1508.6,132.3 1509.3,132.5 1510.0,131.4 1510.7,130.4 1511.4,129.6 1512.1,127.8 1512.8,130.8 1513.5,131.0 1514.2,128.2 1514.9,127.9 1515.6,127.8 1516.3,128.9 1517.0,128.4 1517.7,127.9 1518.4,128.0 1519.1,126.0 1519.8,127.7 1520.5,127.6 1521.2,128.4 1521.9,126.9 1522.6,127.1 1523.3,127.9 1524.0,130.8 1524.7,126.9 1525.4,130.0 1526.1,126.4 1526.8,127.6 1527.5,126.4 1528.2,129.1 1528.9,127.6 1529.6,127.7 1530.3,128.7 1531.0,129.1 1531.7,126.9 1532.4,128.1 1533.1,127.4 1533.8,129.7 1534.5,126.0 1535.2,131.4 1535.9,128.9 1536.6,127.0 1537.3,130.1 1538.0,129.1 1538.7,130.4 1539.4,130.7 1540.1,132.1 1540.8,128.8 1541.5,131.7 1542.2,132.8 1542.9,130.1 1543.6,132.7 1544.3,133.0 1545.0,131.5 1545.7,130.1 1546.4,132.7 1547.1,132.1 1547.8,134.8 1548.5,132.8 1549.2,134.1 1549.9,133.9 1550.6,133.9 1551.3,132.4 1552.0,133.2 1552.7,134.4 1553.4,134.3 1554.1,134.5 1554.8,135.8 1555.5,135.2 1556.2,136.2 1556.9,135.8 1557.6,136.4 1558.3,135.7 1559.0,134.9 1559.7,138.0 1560.4,138.4 1561.1,138.5 1561.8,137.1 1562.5,139.7 1563.2,138.8 1563.9,139.2 1564.6,138.5 1565.3,139.0 1566.0,139.1 1566.7,140.6 1567.4,139.5 1568.1,140.4 1568.8,140.0 1569.5,139.2 1570.2,140.8 1570.9,141.0 1571.6,141.0 1572.3,137.4 1573.0,142.2 1573.7,141.0 1574.4,139.9 1575.1,143.4 1575.8,141.2 1576.5,142.1 1577.2,141.4 1577.9,138.5 1578.6,142.7 1579.3,140.0 1580.0,142.7 1580.7,141.2 1581.4,140.4 1582.1,138.5 1582.8,140.9 1583.5,140.3 1584.2,141.5 1584.9,140.2 1585.6,142.3 1586.3,140.9 1587.0,140.9 1587.7,143.8 1588.4,142.4 1589.1,140.7 1589.8,141.9 1590.5,139.5 1591.2,140.5 1591.9,141.2 1592.6,140.5 1593.3,140.2 1594.0,142.1 1594.7,140.6 1595.4,140.3 1596.1,140.5 1596.8,140.5 1597.5,142.1 1598.2,141.5 1598.9,139.4 1599.6,142.7 1600.3,142.4 1601.0,140.7 1601.7,139.8 1602.4,141.0 1603.1,140.2 1603.8,141.5 1604.5,140.7 1605.2,142.2 1605.9,138.7 1606.6,139.8 1607.3,140.7 1608.0,139.7 1608.7,139.7 1609.4,138.7 1610.1,142.2 1610.8,139.6 1611.5,140.6 1612.2,138.7 1612.9,139.0 1613.6,139.5 1614.3,141.4 1615.0,141.1 1615.7,141.9 1616.4,141.3 1617.1,141.2 1617.8,139.2 1618.5,138.7 1619.2,141.0 1619.9,138.6 1620.6,140.1 1621.3,138.8 1622.0,138.2 1622.7,139.5 1623.4,138.4 1624.1,139.1 1624.8,140.5 1625.5,139.2 1626.2,140.6 1626.9,138.9 1627.6,139.9 1628.3,138.3 1629.0,141.0 1629.7,137.1 1630.4,139.8 1631.1,140.1 1631.8,136.4 1632.5,137.6 1633.2,137.7 1633.9,139.5 1634.6,139.3 1635.3,139.3 1636.0,140.5 1636.7,142.6 1637.4,138.9 1638.1,140.6 1638.8,140.4 1639.5,141.8 1640.2,138.2 1640.9,139.0 1641.6,139.8 1642.3,139.9 1643.0,141.7 1643.7,141.0 1644.4,139.4 1645.1,141.1 1645.8,140.4 1646.5,141.7 1647.2,142.7 1647.9,142.3 1648.6,145.0 1649.3,146.6 1650.0,144.9 1650.7,142.9 1651.4,146.7 1652.1,147.9 1652.8,145.6 1653.5,146.7 1654.2,147.9 1654.9,147.2 1655.6,148.9 1656.3,148.4 1657.0,147.4 1657.7,148.0 1658.4,148.6 1659.1,148.5 1659.8,151.3 1660.5,150.5 1661.2,150.3 1661.9,151.9 1662.6,151.5 1663.3,153.1 1664.0,154.2 1664.7,153.0 1665.4,152.7 1666.1,152.5 1666.8,156.5 1667.5,155.5 1668.2,154.9 1668.9,156.2 1669.6,155.7 1670.3,159.4 1671.0,159.0 1671.7,159.1 1672.4,158.7 1673.1,163.8 1673.8,162.5 1674.5,160.7 1675.2,163.6 1675.9,165.3 1676.6,166.6 1677.3,166.2 1678.0,169.8 1678.7,170.2 1679.4,170.6 1680.1,170.8 1680.8,170.5 1681.5,173.1 1682.2,174.5 1682.9,174.4 1683.6,177.2 1684.3,178.9 1685.0,178.5 1685.7,179.7 1686.4,181.2 1687.1,184.3 1687.8,185.2 1688.5,182.7 1689.2,185.2 1689.9,190.0 1690.6,187.7 1691.3,191.4 1692.0,191.1 1692.7,193.1 1693.4,192.4 1694.1,194.1 1694.8,195.8 1695.5,196.4 1696.2,197.5 1696.9,200.5 1697.6,199.8 1698.3,202.7 1699.0,201.7 1699.7,203.2 1700.4,205.6 1701.1,206.5 1701.8,208.3 1702.5,208.4 1703.2,209.5 1703.9,210.1 1704.6,210.0 1705.3,212.5 1706.0,215.4 1706.7,215.3 1707.4,216.8 1708.1,219.2 1708.8,217.9 1709.5,220.6 1710.2,220.7 1710.9,224.0 1711.6,222.1 1712.3,224.7 1713.0,225.8 1713.7,227.3 1714.4,228.3 1715.1,232.4 1715.8,231.3 1716.5,232.8 1717.2,232.6 1717.9,234.2 1718.6,236.2 1719.3,237.2 1720.0,240.6 1720.7,240.9 1721.4,242.5 1722.1,244.4 1722.8,245.0 1723.5,246.2 1724.2,248.4 1724.9,251.0 1725.6,252.2 1726.3,252.9 1727.0,257.4 1727.7,257.5 1728.4,259.4 1729.1,262.0 1729.8,260.7 1730.5,264.5 1731.2,265.2 1731.9,266.8 1732.6,266.3 1733.3,268.6 1734.0,271.1 1734.7,272.5 1735.4,275.9 1736.1,275.1 1736.8,277.2 1737.5,278.0 1738.2,278.2 1738.9,280.7 1739.6,282.6 1740.3,285.9 1741.0,286.7 1741.7,285.9 1742.4,286.9 1743.1,289.2 1743.8,289.9 1744.5,294.7 1745.2,294.2 1745.9,294.4 1746.6,295.2 1747.3,295.8 1748.0,298.2 1748.7,296.6 1749.4,300.5 1750.1,301.6 1750.8,305.2 1751.5,302.7 1752.2,307.0 1752.9,306.8 1753.6,309.4 1754.3,308.9 1755.0,311.4 1755.7,313.2 1756.4,316.4 1757.1,313.8 1757.8,315.8 1758.5,317.1 1759.2,317.7 1759.9,319.6 1760.6,320.9 1761.3,321.7 1762.0,321.3 1762.7,324.9 1763.4,324.1 1764.1,326.9 1764.8,329.3 1765.5,327.9 1766.2,330.4 1766.9,331.9 1767.6,332.8 1768.3,333.5 1769.0,335.3 1769.7,337.2 1770.4,336.4 1771.1,338.5 1771.8,340.7 1772.5,340.4 1773.2,340.9 1773.9,344.3 1774.6,345.4 1775.3,346.9 1776.0,346.9 1776.7,347.4 1777.4,351.1 1778.1,351.9 1778.8,352.6 1779.5,352.3 1780.2,354.2 1780.9,354.3 1781.6,355.3 1782.3,357.8 1783.0,359.3 1783.7,360.9 1784.4,361.6 1785.1,365.1 1785.8,362.8 1786.5,366.8 1787.2,366.1 1787.9,368.9 1788.6,368.0 1789.3,373.0 1790.0,373.4 1790.7,371.2 1791.4,375.9 1792.1,375.9 1792.8,378.0 1793.5,378.3 1794.2,379.5 1794.9,379.4 1795.6,381.8 1796.3,383.6" fill="none" stroke="#E0231E" stroke-width="4.3" stroke-linejoin="round" stroke-linecap="round"/>
<rect x="1410.6" y="13.9" width="474.7" height="475.4" fill="none" stroke="#111" stroke-width="5.0" stroke-linejoin="round"/>
<rect x="1409.4" y="367.1" width="464.4" height="105.8" fill="#fff" stroke="#111" stroke-width="1.9"/>
<line x1="1426" y1="394.8" x2="1468.6" y2="394.8" stroke="#518060" stroke-width="4.3" stroke-linecap="round"/>
<text transform="translate(1479.6,401.2) scale(1,1.03)" font-size="19" text-anchor="start" textLength="217.3" lengthAdjust="spacing">Resting cells; GP= -0.021</text>
<line x1="1426" y1="419.9" x2="1468.6" y2="419.9" stroke="#3A259E" stroke-width="4.3" stroke-linecap="round"/>
<text transform="translate(1479.6,426.4) scale(1,1.03)" font-size="19" text-anchor="start" textLength="243.2" lengthAdjust="spacing">Oscillating cells; GP= -0.045</text>
<line x1="1426" y1="445.0" x2="1468.6" y2="445.0" stroke="#E0231E" stroke-width="4.3" stroke-linecap="round"/>
<text transform="translate(1479.6,451.6) scale(1,1.03)" font-size="19" text-anchor="start" textLength="376.0" lengthAdjust="spacing">Cells 1.5 h after addition of IAA; GP=+0.012</text>
<rect x="1874" y="439" width="2" height="4" fill="#3A259E"/><rect x="1874" y="446" width="2" height="4" fill="#E0231E"/>
<line x1="1396" y1="14.3" x2="1408" y2="14.3" stroke="#222" stroke-width="2"/>
<text transform="translate(1381.5,23.3) scale(1,1.085)" font-size="28" text-anchor="end">500</text>
<line x1="1396" y1="109.2" x2="1408" y2="109.2" stroke="#222" stroke-width="2"/>
<text transform="translate(1381.5,118.2) scale(1,1.085)" font-size="28" text-anchor="end">400</text>
<line x1="1396" y1="204.1" x2="1408" y2="204.1" stroke="#222" stroke-width="2"/>
<text transform="translate(1381.5,213.1) scale(1,1.085)" font-size="28" text-anchor="end">300</text>
<line x1="1396" y1="299.1" x2="1408" y2="299.1" stroke="#222" stroke-width="2"/>
<text transform="translate(1381.5,308.1) scale(1,1.085)" font-size="28" text-anchor="end">200</text>
<line x1="1396" y1="394.0" x2="1408" y2="394.0" stroke="#222" stroke-width="2"/>
<text transform="translate(1381.5,403.0) scale(1,1.085)" font-size="28" text-anchor="end">100</text>
<line x1="1396" y1="488.9" x2="1408" y2="488.9" stroke="#222" stroke-width="2"/>
<text transform="translate(1381.5,497.9) scale(1,1.085)" font-size="28" text-anchor="end">0</text>
<text transform="translate(1420.7,528.0) scale(1,1.085)" font-size="28" text-anchor="middle">400</text>
<text transform="translate(1533.9,528.0) scale(1,1.085)" font-size="28" text-anchor="middle">450</text>
<text transform="translate(1647.1,528.0) scale(1,1.085)" font-size="28" text-anchor="middle">500</text>
<text transform="translate(1760.3,528.0) scale(1,1.085)" font-size="28" text-anchor="middle">550</text>
<text transform="translate(1873.5,528.0) scale(1,1.085)" font-size="28" text-anchor="middle">600</text>
<text x="1647.7" y="587.1" font-size="33" text-anchor="middle" xml:space="preserve" style="white-space:pre" textLength="262.7" lengthAdjust="spacing">Wavelength  (nm)</text>
<text transform="translate(1314.7,248.4) rotate(-90)" font-size="33" text-anchor="middle">Intensity</text>
<text transform="translate(1847.8,78.8) scale(1,1.065)" font-size="66" text-anchor="middle">C</text>
</svg>
</body></html>
